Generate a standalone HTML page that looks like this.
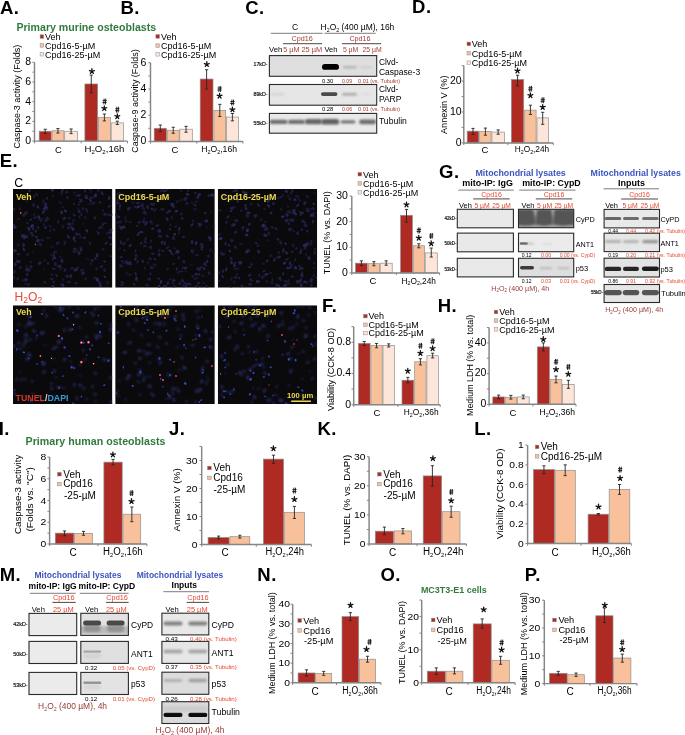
<!DOCTYPE html>
<html><head><meta charset="utf-8"><style>
html,body{margin:0;padding:0;background:#fff;width:685px;height:735px;overflow:hidden}
svg{display:block;will-change:transform;font-family:"Liberation Sans",sans-serif}
</style></head><body>
<svg width="685" height="735" viewBox="0 0 685 735">
<defs><filter id="bl6" x="-50%" y="-50%" width="200%" height="200%"><feGaussianBlur stdDeviation="0.6"/></filter><filter id="bl7" x="-50%" y="-50%" width="200%" height="200%"><feGaussianBlur stdDeviation="0.7"/></filter><filter id="bl8" x="-50%" y="-50%" width="200%" height="200%"><feGaussianBlur stdDeviation="0.8"/></filter><filter id="bl10" x="-50%" y="-50%" width="200%" height="200%"><feGaussianBlur stdDeviation="1.0"/></filter><filter id="bl4" x="-50%" y="-50%" width="200%" height="200%"><feGaussianBlur stdDeviation="0.4"/></filter></defs>
<rect width="685" height="735" fill="#fff"/>
<rect x="39.20" y="131.25" width="12.00" height="9.85" fill="#ae2a23" stroke="#8f8f8f" stroke-width="0.7"/>
<rect x="52.00" y="130.76" width="11.90" height="10.34" fill="#f8c19b" stroke="#8f8f8f" stroke-width="0.7"/>
<rect x="64.70" y="131.25" width="12.80" height="9.85" fill="#fde6d9" stroke="#8f8f8f" stroke-width="0.7"/>
<rect x="84.90" y="83.97" width="12.70" height="57.13" fill="#ae2a23" stroke="#8f8f8f" stroke-width="0.7"/>
<rect x="98.40" y="117.46" width="12.00" height="23.64" fill="#f8c19b" stroke="#8f8f8f" stroke-width="0.7"/>
<rect x="111.20" y="122.88" width="12.20" height="18.22" fill="#fde6d9" stroke="#8f8f8f" stroke-width="0.7"/>
<path d="M45.20 133.42V129.28M43.60 133.42H46.80M43.60 129.28H46.80" stroke="#262626" stroke-width="0.9" fill="none"/>
<path d="M57.95 133.02V128.59M56.35 133.02H59.55M56.35 128.59H59.55" stroke="#262626" stroke-width="0.9" fill="none"/>
<path d="M71.10 133.61V128.98M69.50 133.61H72.70M69.50 128.98H72.70" stroke="#262626" stroke-width="0.9" fill="none"/>
<path d="M91.25 92.83V75.10M89.65 92.83H92.85M89.65 75.10H92.85" stroke="#262626" stroke-width="0.9" fill="none"/>
<path d="M104.40 120.91V114.01M102.80 120.91H106.00M102.80 114.01H106.00" stroke="#262626" stroke-width="0.9" fill="none"/>
<path d="M117.30 124.55V121.20M115.70 124.55H118.90M115.70 121.20H118.90" stroke="#262626" stroke-width="0.9" fill="none"/>
<path d="M34.50 62.30V141.10H127.50" stroke="#858585" stroke-width="1.45" fill="none"/>
<path d="M32.30 141.10H34.50M32.30 131.25H34.50M32.30 121.40H34.50M32.30 111.55H34.50M32.30 101.70H34.50M32.30 91.85H34.50M32.30 82.00H34.50M32.30 72.15H34.50M32.30 62.30H34.50M34.50 141.10V143.30M81.20 141.10V143.30M127.50 141.10V143.30" stroke="#858585" stroke-width="1" fill="none"/>
<text transform="translate(31.10 143.90) scale(1.05 1)" font-size="10" text-anchor="end">0</text>
<text transform="translate(31.10 124.20) scale(1.05 1)" font-size="10" text-anchor="end">2</text>
<text transform="translate(31.10 104.50) scale(1.05 1)" font-size="10" text-anchor="end">4</text>
<text transform="translate(31.10 84.80) scale(1.05 1)" font-size="10" text-anchor="end">6</text>
<text transform="translate(31.10 65.10) scale(1.05 1)" font-size="10" text-anchor="end">8</text>
<path d="M91.90 71.30L91.90 68.75M91.90 71.30L94.33 70.51M91.90 71.30L93.40 73.36M91.90 71.30L90.40 73.36M91.90 71.30L89.47 70.51" stroke="#111" stroke-width="1.3" stroke-linecap="round" fill="none"/>
<path d="M103.80 104.40L104.15 98.60M105.40 104.40L105.75 98.60M102.60 100.55H106.80M102.40 102.50H106.60" stroke="#111" stroke-width="0.9" fill="none"/>
<path d="M104.30 108.40L104.30 105.85M104.30 108.40L106.73 107.61M104.30 108.40L105.80 110.46M104.30 108.40L102.80 110.46M104.30 108.40L101.87 107.61" stroke="#111" stroke-width="1.3" stroke-linecap="round" fill="none"/>
<path d="M116.50 112.60L116.85 106.80M118.10 112.60L118.45 106.80M115.30 108.75H119.50M115.10 110.70H119.30" stroke="#111" stroke-width="0.9" fill="none"/>
<path d="M117.30 116.50L117.30 113.95M117.30 116.50L119.73 115.71M117.30 116.50L118.80 118.56M117.30 116.50L115.80 118.56M117.30 116.50L114.87 115.71" stroke="#111" stroke-width="1.3" stroke-linecap="round" fill="none"/>
<rect x="40.10" y="34.80" width="3.6" height="3.6" fill="#ae2a23" stroke="#8f8f8f" stroke-width="0.5"/>
<text x="45.00" y="39.90" font-size="9">Veh</text>
<rect x="40.10" y="43.60" width="3.6" height="3.6" fill="#f8c19b" stroke="#8f8f8f" stroke-width="0.5"/>
<text x="45.00" y="48.70" font-size="9">Cpd16-5-µM</text>
<rect x="40.10" y="52.40" width="3.6" height="3.6" fill="#fde6d9" stroke="#8f8f8f" stroke-width="0.5"/>
<text x="45.00" y="57.50" font-size="9">Cpd16-25-µM</text>
<text transform="translate(20.30 148.60) rotate(-90)" font-size="9.5" textLength="103.9" lengthAdjust="spacingAndGlyphs">Caspase-3 activity (Folds)</text>
<text x="58.50" y="152.60" font-size="9.5" text-anchor="middle">C</text>
<text x="84.50" y="152.10" font-size="9.5" textLength="40.0" lengthAdjust="spacingAndGlyphs">H<tspan font-size="6" dy="1.5">2</tspan><tspan dy="-1.5">O</tspan><tspan font-size="6" dy="1.5">2</tspan><tspan dy="-1.5">,16h</tspan></text>
<rect x="154.20" y="128.30" width="12.20" height="13.10" fill="#ae2a23" stroke="#8f8f8f" stroke-width="0.7"/>
<rect x="167.30" y="130.27" width="11.90" height="11.13" fill="#f8c19b" stroke="#8f8f8f" stroke-width="0.7"/>
<rect x="179.80" y="129.22" width="12.50" height="12.18" fill="#fde6d9" stroke="#8f8f8f" stroke-width="0.7"/>
<rect x="200.20" y="79.04" width="12.80" height="62.36" fill="#ae2a23" stroke="#8f8f8f" stroke-width="0.7"/>
<rect x="213.90" y="110.35" width="11.80" height="31.05" fill="#f8c19b" stroke="#8f8f8f" stroke-width="0.7"/>
<rect x="226.40" y="117.03" width="12.00" height="24.37" fill="#fde6d9" stroke="#8f8f8f" stroke-width="0.7"/>
<path d="M160.30 131.58V125.03M158.70 131.58H161.90M158.70 125.03H161.90" stroke="#262626" stroke-width="0.9" fill="none"/>
<path d="M173.25 133.28V127.25M171.65 133.28H174.85M171.65 127.25H174.85" stroke="#262626" stroke-width="0.9" fill="none"/>
<path d="M186.05 132.23V126.34M184.45 132.23H187.65M184.45 126.34H187.65" stroke="#262626" stroke-width="0.9" fill="none"/>
<path d="M206.60 89.00V69.74M205.00 89.00H208.20M205.00 69.74H208.20" stroke="#262626" stroke-width="0.9" fill="none"/>
<path d="M219.80 116.51V104.33M218.20 116.51H221.40M218.20 104.33H221.40" stroke="#262626" stroke-width="0.9" fill="none"/>
<path d="M232.40 120.83V113.50M230.80 120.83H234.00M230.80 113.50H234.00" stroke="#262626" stroke-width="0.9" fill="none"/>
<path d="M150.50 62.80V141.40H243.00" stroke="#858585" stroke-width="1.45" fill="none"/>
<path d="M148.30 141.40H150.50M148.30 128.30H150.50M148.30 115.20H150.50M148.30 102.10H150.50M148.30 89.00H150.50M148.30 75.90H150.50M148.30 62.80H150.50M150.50 141.40V143.60M196.80 141.40V143.60M243.00 141.40V143.60" stroke="#858585" stroke-width="1" fill="none"/>
<text transform="translate(146.40 144.20) scale(1.05 1)" font-size="10" text-anchor="end">0</text>
<text transform="translate(146.40 118.00) scale(1.05 1)" font-size="10" text-anchor="end">2</text>
<text transform="translate(146.40 91.80) scale(1.05 1)" font-size="10" text-anchor="end">4</text>
<text transform="translate(146.40 65.60) scale(1.05 1)" font-size="10" text-anchor="end">6</text>
<path d="M206.80 64.30L206.80 61.75M206.80 64.30L209.23 63.51M206.80 64.30L208.30 66.36M206.80 64.30L205.30 66.36M206.80 64.30L204.37 63.51" stroke="#111" stroke-width="1.3" stroke-linecap="round" fill="none"/>
<path d="M218.80 91.90L219.15 86.10M220.40 91.90L220.75 86.10M217.60 88.05H221.80M217.40 90.00H221.60" stroke="#111" stroke-width="0.9" fill="none"/>
<path d="M219.60 96.00L219.60 93.45M219.60 96.00L222.03 95.21M219.60 96.00L221.10 98.06M219.60 96.00L218.10 98.06M219.60 96.00L217.17 95.21" stroke="#111" stroke-width="1.3" stroke-linecap="round" fill="none"/>
<path d="M231.60 105.40L231.95 99.60M233.20 105.40L233.55 99.60M230.40 101.55H234.60M230.20 103.50H234.40" stroke="#111" stroke-width="0.9" fill="none"/>
<path d="M232.40 109.60L232.40 107.05M232.40 109.60L234.83 108.81M232.40 109.60L233.90 111.66M232.40 109.60L230.90 111.66M232.40 109.60L229.97 108.81" stroke="#111" stroke-width="1.3" stroke-linecap="round" fill="none"/>
<rect x="155.90" y="34.60" width="3.6" height="3.6" fill="#ae2a23" stroke="#8f8f8f" stroke-width="0.5"/>
<text x="161.00" y="39.70" font-size="9">Veh</text>
<rect x="155.90" y="43.80" width="3.6" height="3.6" fill="#f8c19b" stroke="#8f8f8f" stroke-width="0.5"/>
<text x="161.00" y="48.90" font-size="9">Cpd16-5-µM</text>
<rect x="155.90" y="52.50" width="3.6" height="3.6" fill="#fde6d9" stroke="#8f8f8f" stroke-width="0.5"/>
<text x="161.00" y="57.60" font-size="9">Cpd16-25-µM</text>
<text transform="translate(138.10 152.80) rotate(-90)" font-size="9.5" textLength="103.5" lengthAdjust="spacingAndGlyphs">Caspase-9 activity (Folds)</text>
<text x="175.00" y="152.70" font-size="9.5" text-anchor="middle">C</text>
<text x="201.20" y="152.20" font-size="9.5" textLength="35.8" lengthAdjust="spacingAndGlyphs">H<tspan font-size="6" dy="1.5">2</tspan><tspan dy="-1.5">O</tspan><tspan font-size="6" dy="1.5">2</tspan><tspan dy="-1.5">,16h</tspan></text>
<rect x="467.20" y="131.16" width="11.60" height="11.74" fill="#ae2a23" stroke="#8f8f8f" stroke-width="0.7"/>
<rect x="479.70" y="131.47" width="11.40" height="11.43" fill="#f8c19b" stroke="#8f8f8f" stroke-width="0.7"/>
<rect x="491.90" y="132.09" width="12.50" height="10.81" fill="#fde6d9" stroke="#8f8f8f" stroke-width="0.7"/>
<rect x="511.40" y="79.56" width="12.30" height="63.34" fill="#ae2a23" stroke="#8f8f8f" stroke-width="0.7"/>
<rect x="524.70" y="110.15" width="11.40" height="32.75" fill="#f8c19b" stroke="#8f8f8f" stroke-width="0.7"/>
<rect x="537.00" y="117.87" width="11.40" height="25.03" fill="#fde6d9" stroke="#8f8f8f" stroke-width="0.7"/>
<path d="M473.00 134.40V128.38M471.40 134.40H474.60M471.40 128.38H474.60" stroke="#262626" stroke-width="0.9" fill="none"/>
<path d="M485.40 135.18V128.07M483.80 135.18H487.00M483.80 128.07H487.00" stroke="#262626" stroke-width="0.9" fill="none"/>
<path d="M498.15 134.25V129.92M496.55 134.25H499.75M496.55 129.92H499.75" stroke="#262626" stroke-width="0.9" fill="none"/>
<path d="M517.55 85.74V75.23M515.95 85.74H519.15M515.95 75.23H519.15" stroke="#262626" stroke-width="0.9" fill="none"/>
<path d="M530.40 114.47V105.20M528.80 114.47H532.00M528.80 105.20H532.00" stroke="#262626" stroke-width="0.9" fill="none"/>
<path d="M542.70 124.36V112.31M541.10 124.36H544.30M541.10 112.31H544.30" stroke="#262626" stroke-width="0.9" fill="none"/>
<path d="M463.80 65.65V142.90H553.30" stroke="#858585" stroke-width="1.45" fill="none"/>
<path d="M461.60 142.90H463.80M461.60 127.45H463.80M461.60 112.00H463.80M461.60 96.55H463.80M461.60 81.10H463.80M461.60 65.65H463.80M463.80 142.90V145.10M507.80 142.90V145.10M553.30 142.90V145.10" stroke="#858585" stroke-width="1" fill="none"/>
<text transform="translate(461.70 145.70) scale(1.05 1)" font-size="10" text-anchor="end">0</text>
<text transform="translate(461.70 114.80) scale(1.05 1)" font-size="10" text-anchor="end">10</text>
<text transform="translate(461.70 83.90) scale(1.05 1)" font-size="10" text-anchor="end">20</text>
<path d="M517.50 70.80L517.50 68.25M517.50 70.80L519.93 70.01M517.50 70.80L519.00 72.86M517.50 70.80L516.00 72.86M517.50 70.80L515.07 70.01" stroke="#111" stroke-width="1.3" stroke-linecap="round" fill="none"/>
<path d="M529.60 91.70L529.95 85.90M531.20 91.70L531.55 85.90M528.40 87.85H532.60M528.20 89.80H532.40" stroke="#111" stroke-width="0.9" fill="none"/>
<path d="M530.40 95.50L530.40 92.95M530.40 95.50L532.83 94.71M530.40 95.50L531.90 97.56M530.40 95.50L528.90 97.56M530.40 95.50L527.97 94.71" stroke="#111" stroke-width="1.3" stroke-linecap="round" fill="none"/>
<path d="M541.90 103.10L542.25 97.30M543.50 103.10L543.85 97.30M540.70 99.25H544.90M540.50 101.20H544.70" stroke="#111" stroke-width="0.9" fill="none"/>
<path d="M542.70 107.20L542.70 104.65M542.70 107.20L545.13 106.41M542.70 107.20L544.20 109.26M542.70 107.20L541.20 109.26M542.70 107.20L540.27 106.41" stroke="#111" stroke-width="1.3" stroke-linecap="round" fill="none"/>
<rect x="467.00" y="42.10" width="3.6" height="3.6" fill="#ae2a23" stroke="#8f8f8f" stroke-width="0.5"/>
<text x="471.70" y="47.20" font-size="9">Veh</text>
<rect x="467.00" y="51.40" width="3.6" height="3.6" fill="#f8c19b" stroke="#8f8f8f" stroke-width="0.5"/>
<text x="471.70" y="56.50" font-size="9">Cpd16-5-µM</text>
<rect x="467.00" y="60.90" width="3.6" height="3.6" fill="#fde6d9" stroke="#8f8f8f" stroke-width="0.5"/>
<text x="471.70" y="66.00" font-size="9">Cpd16-25-µM</text>
<text transform="translate(447.40 134.00) rotate(-90)" font-size="9.5" textLength="58.5" lengthAdjust="spacingAndGlyphs">Annexin V (%)</text>
<text x="485.00" y="152.90" font-size="9.5" text-anchor="middle">C</text>
<text x="514.80" y="152.40" font-size="9.5" textLength="34.4" lengthAdjust="spacingAndGlyphs">H<tspan font-size="6" dy="1.5">2</tspan><tspan dy="-1.5">O</tspan><tspan font-size="6" dy="1.5">2</tspan><tspan dy="-1.5">,24h</tspan></text>
<rect x="355.50" y="263.17" width="11.80" height="9.73" fill="#ae2a23" stroke="#8f8f8f" stroke-width="0.7"/>
<rect x="368.40" y="263.68" width="11.00" height="9.22" fill="#f8c19b" stroke="#8f8f8f" stroke-width="0.7"/>
<rect x="380.20" y="263.17" width="12.00" height="9.73" fill="#fde6d9" stroke="#8f8f8f" stroke-width="0.7"/>
<rect x="400.60" y="215.30" width="11.80" height="57.60" fill="#ae2a23" stroke="#8f8f8f" stroke-width="0.7"/>
<rect x="413.20" y="245.76" width="11.20" height="27.14" fill="#f8c19b" stroke="#8f8f8f" stroke-width="0.7"/>
<rect x="425.20" y="252.93" width="12.10" height="19.97" fill="#fde6d9" stroke="#8f8f8f" stroke-width="0.7"/>
<path d="M361.40 265.48V260.87M359.80 265.48H363.00M359.80 260.87H363.00" stroke="#262626" stroke-width="0.9" fill="none"/>
<path d="M373.90 265.73V261.64M372.30 265.73H375.50M372.30 261.64H375.50" stroke="#262626" stroke-width="0.9" fill="none"/>
<path d="M386.20 265.22V260.87M384.60 265.22H387.80M384.60 260.87H387.80" stroke="#262626" stroke-width="0.9" fill="none"/>
<path d="M406.50 222.21V209.41M404.90 222.21H408.10M404.90 209.41H408.10" stroke="#262626" stroke-width="0.9" fill="none"/>
<path d="M418.80 247.81V243.72M417.20 247.81H420.40M417.20 243.72H420.40" stroke="#262626" stroke-width="0.9" fill="none"/>
<path d="M431.25 257.03V248.07M429.65 257.03H432.85M429.65 248.07H432.85" stroke="#262626" stroke-width="0.9" fill="none"/>
<path d="M351.80 196.10V272.90H439.60" stroke="#858585" stroke-width="1.45" fill="none"/>
<path d="M349.60 272.90H351.80M349.60 260.10H351.80M349.60 247.30H351.80M349.60 234.50H351.80M349.60 221.70H351.80M349.60 208.90H351.80M349.60 196.10H351.80M351.80 272.90V275.10M396.30 272.90V275.10M439.60 272.90V275.10" stroke="#858585" stroke-width="1" fill="none"/>
<text transform="translate(347.90 275.70) scale(1.05 1)" font-size="10" text-anchor="end">0</text>
<text transform="translate(347.90 250.10) scale(1.05 1)" font-size="10" text-anchor="end">10</text>
<text transform="translate(347.90 224.50) scale(1.05 1)" font-size="10" text-anchor="end">20</text>
<text transform="translate(347.90 198.90) scale(1.05 1)" font-size="10" text-anchor="end">30</text>
<path d="M406.50 204.70L406.50 202.15M406.50 204.70L408.93 203.91M406.50 204.70L408.00 206.76M406.50 204.70L405.00 206.76M406.50 204.70L404.07 203.91" stroke="#111" stroke-width="1.3" stroke-linecap="round" fill="none"/>
<path d="M418.00 233.30L418.35 227.50M419.60 233.30L419.95 227.50M416.80 229.45H421.00M416.60 231.40H420.80" stroke="#111" stroke-width="0.9" fill="none"/>
<path d="M418.80 238.00L418.80 235.45M418.80 238.00L421.23 237.21M418.80 238.00L420.30 240.06M418.80 238.00L417.30 240.06M418.80 238.00L416.37 237.21" stroke="#111" stroke-width="1.3" stroke-linecap="round" fill="none"/>
<path d="M430.40 238.80L430.75 233.00M432.00 238.80L432.35 233.00M429.20 234.95H433.40M429.00 236.90H433.20" stroke="#111" stroke-width="0.9" fill="none"/>
<path d="M431.20 243.50L431.20 240.95M431.20 243.50L433.63 242.71M431.20 243.50L432.70 245.56M431.20 243.50L429.70 245.56M431.20 243.50L428.77 242.71" stroke="#111" stroke-width="1.3" stroke-linecap="round" fill="none"/>
<rect x="358.00" y="172.40" width="3.6" height="3.6" fill="#ae2a23" stroke="#8f8f8f" stroke-width="0.5"/>
<text x="363.00" y="177.50" font-size="9">Veh</text>
<rect x="358.00" y="181.60" width="3.6" height="3.6" fill="#f8c19b" stroke="#8f8f8f" stroke-width="0.5"/>
<text x="363.00" y="186.70" font-size="9">Cpd16-5-µM</text>
<rect x="358.00" y="190.50" width="3.6" height="3.6" fill="#fde6d9" stroke="#8f8f8f" stroke-width="0.5"/>
<text x="363.00" y="195.60" font-size="9">Cpd16-25-µM</text>
<text transform="translate(330.40 274.30) rotate(-90)" font-size="9.5" textLength="83.1" lengthAdjust="spacingAndGlyphs">TUNEL (% vs. DAPI)</text>
<text x="373.00" y="284.30" font-size="9.5" text-anchor="middle">C</text>
<text x="401.50" y="283.80" font-size="9.5" textLength="34.5" lengthAdjust="spacingAndGlyphs">H<tspan font-size="6" dy="1.5">2</tspan><tspan dy="-1.5">O</tspan><tspan font-size="6" dy="1.5">2</tspan><tspan dy="-1.5">,24h</tspan></text>
<rect x="358.40" y="343.39" width="11.70" height="61.31" fill="#ae2a23" stroke="#8f8f8f" stroke-width="0.7"/>
<rect x="370.90" y="345.42" width="11.30" height="59.28" fill="#f8c19b" stroke="#8f8f8f" stroke-width="0.7"/>
<rect x="383.00" y="345.42" width="11.40" height="59.28" fill="#fde6d9" stroke="#8f8f8f" stroke-width="0.7"/>
<rect x="402.00" y="380.21" width="11.70" height="24.49" fill="#ae2a23" stroke="#8f8f8f" stroke-width="0.7"/>
<rect x="414.70" y="361.80" width="11.40" height="42.90" fill="#f8c19b" stroke="#8f8f8f" stroke-width="0.7"/>
<rect x="426.90" y="355.72" width="11.50" height="48.98" fill="#fde6d9" stroke="#8f8f8f" stroke-width="0.7"/>
<path d="M364.25 345.42V341.52M362.65 345.42H365.85M362.65 341.52H365.85" stroke="#262626" stroke-width="0.9" fill="none"/>
<path d="M376.55 347.76V343.47M374.95 347.76H378.15M374.95 343.47H378.15" stroke="#262626" stroke-width="0.9" fill="none"/>
<path d="M388.70 346.98V343.86M387.10 346.98H390.30M387.10 343.86H390.30" stroke="#262626" stroke-width="0.9" fill="none"/>
<path d="M407.85 382.86V377.40M406.25 382.86H409.45M406.25 377.40H409.45" stroke="#262626" stroke-width="0.9" fill="none"/>
<path d="M420.40 364.92V358.68M418.80 364.92H422.00M418.80 358.68H422.00" stroke="#262626" stroke-width="0.9" fill="none"/>
<path d="M432.65 357.90V353.22M431.05 357.90H434.25M431.05 353.22H434.25" stroke="#262626" stroke-width="0.9" fill="none"/>
<path d="M353.70 326.70V404.70H440.20" stroke="#858585" stroke-width="1.45" fill="none"/>
<path d="M351.50 404.70H353.70M351.50 389.10H353.70M351.50 373.50H353.70M351.50 357.90H353.70M351.50 342.30H353.70M351.50 326.70H353.70M353.70 404.70V406.90M398.00 404.70V406.90M440.20 404.70V406.90" stroke="#858585" stroke-width="1" fill="none"/>
<text transform="translate(351.10 407.50) scale(1.05 1)" font-size="10" text-anchor="end">0</text>
<text transform="translate(351.10 376.30) scale(1.05 1)" font-size="10" text-anchor="end">0.4</text>
<text transform="translate(351.10 345.10) scale(1.05 1)" font-size="10" text-anchor="end">0.8</text>
<path d="M407.80 371.00L407.80 368.45M407.80 371.00L410.23 370.21M407.80 371.00L409.30 373.06M407.80 371.00L406.30 373.06M407.80 371.00L405.37 370.21" stroke="#111" stroke-width="1.3" stroke-linecap="round" fill="none"/>
<path d="M419.60 348.70L419.95 342.90M421.20 348.70L421.55 342.90M418.40 344.85H422.60M418.20 346.80H422.40" stroke="#111" stroke-width="0.9" fill="none"/>
<path d="M420.40 353.20L420.40 350.65M420.40 353.20L422.83 352.41M420.40 353.20L421.90 355.26M420.40 353.20L418.90 355.26M420.40 353.20L417.97 352.41" stroke="#111" stroke-width="1.3" stroke-linecap="round" fill="none"/>
<path d="M431.80 344.20L432.15 338.40M433.40 344.20L433.75 338.40M430.60 340.35H434.80M430.40 342.30H434.60" stroke="#111" stroke-width="0.9" fill="none"/>
<path d="M432.60 348.50L432.60 345.95M432.60 348.50L435.03 347.71M432.60 348.50L434.10 350.56M432.60 348.50L431.10 350.56M432.60 348.50L430.17 347.71" stroke="#111" stroke-width="1.3" stroke-linecap="round" fill="none"/>
<rect x="363.60" y="314.30" width="3.6" height="3.6" fill="#ae2a23" stroke="#8f8f8f" stroke-width="0.5"/>
<text x="368.50" y="319.40" font-size="9">Veh</text>
<rect x="363.60" y="323.00" width="3.6" height="3.6" fill="#f8c19b" stroke="#8f8f8f" stroke-width="0.5"/>
<text x="368.50" y="328.10" font-size="9">Cpd16-5-µM</text>
<rect x="363.60" y="331.30" width="3.6" height="3.6" fill="#fde6d9" stroke="#8f8f8f" stroke-width="0.5"/>
<text x="368.50" y="336.40" font-size="9">Cpd16-25-µM</text>
<text transform="translate(334.40 410.90) rotate(-90)" font-size="9.5" textLength="82.9" lengthAdjust="spacingAndGlyphs">Viability (CCK-8 OD)</text>
<text x="377.00" y="415.50" font-size="9.5" text-anchor="middle">C</text>
<text x="403.80" y="415.00" font-size="9.5" textLength="34.8" lengthAdjust="spacingAndGlyphs">H<tspan font-size="6" dy="1.5">2</tspan><tspan dy="-1.5">O</tspan><tspan font-size="6" dy="1.5">2</tspan><tspan dy="-1.5">,36h</tspan></text>
<rect x="492.80" y="396.93" width="11.60" height="7.37" fill="#ae2a23" stroke="#8f8f8f" stroke-width="0.7"/>
<rect x="505.20" y="397.24" width="11.30" height="7.06" fill="#f8c19b" stroke="#8f8f8f" stroke-width="0.7"/>
<rect x="517.30" y="396.93" width="11.90" height="7.37" fill="#fde6d9" stroke="#8f8f8f" stroke-width="0.7"/>
<rect x="537.30" y="346.89" width="12.10" height="57.41" fill="#ae2a23" stroke="#8f8f8f" stroke-width="0.7"/>
<rect x="550.20" y="379.59" width="11.60" height="24.71" fill="#f8c19b" stroke="#8f8f8f" stroke-width="0.7"/>
<rect x="562.50" y="384.35" width="11.70" height="19.95" fill="#fde6d9" stroke="#8f8f8f" stroke-width="0.7"/>
<path d="M498.60 398.77V395.09M497.00 398.77H500.20M497.00 395.09H500.20" stroke="#262626" stroke-width="0.9" fill="none"/>
<path d="M510.85 399.08V395.40M509.25 399.08H512.45M509.25 395.40H512.45" stroke="#262626" stroke-width="0.9" fill="none"/>
<path d="M523.25 398.77V395.09M521.65 398.77H524.85M521.65 395.09H524.85" stroke="#262626" stroke-width="0.9" fill="none"/>
<path d="M543.35 350.88V342.90M541.75 350.88H544.95M541.75 342.90H544.95" stroke="#262626" stroke-width="0.9" fill="none"/>
<path d="M556.00 382.81V376.06M554.40 382.81H557.60M554.40 376.06H557.60" stroke="#262626" stroke-width="0.9" fill="none"/>
<path d="M568.35 388.34V380.35M566.75 388.34H569.95M566.75 380.35H569.95" stroke="#262626" stroke-width="0.9" fill="none"/>
<path d="M489.10 327.55V404.30H576.00" stroke="#858585" stroke-width="1.45" fill="none"/>
<path d="M486.90 404.30H489.10M486.90 388.95H489.10M486.90 373.60H489.10M486.90 358.25H489.10M486.90 342.90H489.10M486.90 327.55H489.10M489.10 404.30V406.50M533.00 404.30V406.50M576.00 404.30V406.50" stroke="#858585" stroke-width="1" fill="none"/>
<text transform="translate(486.40 407.10) scale(1.05 1)" font-size="10" text-anchor="end">0</text>
<text transform="translate(486.40 376.40) scale(1.05 1)" font-size="10" text-anchor="end">20</text>
<text transform="translate(486.40 345.70) scale(1.05 1)" font-size="10" text-anchor="end">40</text>
<path d="M543.30 339.30L543.30 336.75M543.30 339.30L545.73 338.51M543.30 339.30L544.80 341.36M543.30 339.30L541.80 341.36M543.30 339.30L540.87 338.51" stroke="#111" stroke-width="1.3" stroke-linecap="round" fill="none"/>
<path d="M555.20 364.70L555.55 358.90M556.80 364.70L557.15 358.90M554.00 360.85H558.20M553.80 362.80H558.00" stroke="#111" stroke-width="0.9" fill="none"/>
<path d="M556.00 369.40L556.00 366.85M556.00 369.40L558.43 368.61M556.00 369.40L557.50 371.46M556.00 369.40L554.50 371.46M556.00 369.40L553.57 368.61" stroke="#111" stroke-width="1.3" stroke-linecap="round" fill="none"/>
<path d="M567.50 369.80L567.85 364.00M569.10 369.80L569.45 364.00M566.30 365.95H570.50M566.10 367.90H570.30" stroke="#111" stroke-width="0.9" fill="none"/>
<path d="M568.30 374.10L568.30 371.55M568.30 374.10L570.73 373.31M568.30 374.10L569.80 376.16M568.30 374.10L566.80 376.16M568.30 374.10L565.87 373.31" stroke="#111" stroke-width="1.3" stroke-linecap="round" fill="none"/>
<rect x="494.20" y="310.20" width="3.6" height="3.6" fill="#ae2a23" stroke="#8f8f8f" stroke-width="0.5"/>
<text x="499.30" y="315.30" font-size="9">Veh</text>
<rect x="494.20" y="318.80" width="3.6" height="3.6" fill="#f8c19b" stroke="#8f8f8f" stroke-width="0.5"/>
<text x="499.30" y="323.90" font-size="9">Cpd16-5-µM</text>
<rect x="494.20" y="327.50" width="3.6" height="3.6" fill="#fde6d9" stroke="#8f8f8f" stroke-width="0.5"/>
<text x="499.30" y="332.60" font-size="9">Cpd16-25-µM</text>
<text transform="translate(472.90 416.00) rotate(-90)" font-size="9.5" textLength="101.2" lengthAdjust="spacingAndGlyphs">Medium LDH (% vs. total)</text>
<text x="513.00" y="415.50" font-size="9.5" text-anchor="middle">C</text>
<text x="539.50" y="415.00" font-size="9.5" textLength="35.5" lengthAdjust="spacingAndGlyphs">H<tspan font-size="6" dy="1.5">2</tspan><tspan dy="-1.5">O</tspan><tspan font-size="6" dy="1.5">2</tspan><tspan dy="-1.5">,36h</tspan></text>
<rect x="55.30" y="533.13" width="18.50" height="10.87" fill="#ae2a23" stroke="#8f8f8f" stroke-width="0.7"/>
<rect x="74.60" y="533.35" width="17.80" height="10.65" fill="#f8c19b" stroke="#8f8f8f" stroke-width="0.7"/>
<rect x="103.90" y="462.15" width="18.30" height="81.85" fill="#ae2a23" stroke="#8f8f8f" stroke-width="0.7"/>
<rect x="123.00" y="514.22" width="17.70" height="29.78" fill="#f8c19b" stroke="#8f8f8f" stroke-width="0.7"/>
<path d="M64.55 535.85V530.96M62.95 535.85H66.15M62.95 530.96H66.15" stroke="#262626" stroke-width="0.9" fill="none"/>
<path d="M83.50 535.30V531.39M81.90 535.30H85.10M81.90 531.39H85.10" stroke="#262626" stroke-width="0.9" fill="none"/>
<path d="M113.05 464.87V459.43M111.45 464.87H114.65M111.45 459.43H114.65" stroke="#262626" stroke-width="0.9" fill="none"/>
<path d="M131.85 521.72V507.04M130.25 521.72H133.45M130.25 507.04H133.45" stroke="#262626" stroke-width="0.9" fill="none"/>
<path d="M49.60 457.04V544.00H146.90" stroke="#858585" stroke-width="1.45" fill="none"/>
<path d="M47.40 544.00H49.60M47.40 533.13H49.60M47.40 522.26H49.60M47.40 511.39H49.60M47.40 500.52H49.60M47.40 489.65H49.60M47.40 478.78H49.60M47.40 467.91H49.60M47.40 457.04H49.60M49.60 544.00V546.20M98.00 544.00V546.20M146.90 544.00V546.20" stroke="#858585" stroke-width="1" fill="none"/>
<text transform="translate(46.30 547.20) scale(1.15 1)" font-size="9" text-anchor="end">0</text>
<text transform="translate(46.30 525.46) scale(1.15 1)" font-size="9" text-anchor="end">2</text>
<text transform="translate(46.30 503.72) scale(1.15 1)" font-size="9" text-anchor="end">4</text>
<text transform="translate(46.30 481.98) scale(1.15 1)" font-size="9" text-anchor="end">6</text>
<text transform="translate(46.30 460.24) scale(1.15 1)" font-size="9" text-anchor="end">8</text>
<path d="M112.90 454.70L112.90 452.15M112.90 454.70L115.33 453.91M112.90 454.70L114.40 456.76M112.90 454.70L111.40 456.76M112.90 454.70L110.47 453.91" stroke="#111" stroke-width="1.3" stroke-linecap="round" fill="none"/>
<path d="M130.70 496.00L131.05 490.20M132.30 496.00L132.65 490.20M129.50 492.15H133.70M129.30 494.10H133.50" stroke="#111" stroke-width="0.9" fill="none"/>
<path d="M131.50 501.30L131.50 498.75M131.50 501.30L133.93 500.51M131.50 501.30L133.00 503.36M131.50 501.30L130.00 503.36M131.50 501.30L129.07 500.51" stroke="#111" stroke-width="1.3" stroke-linecap="round" fill="none"/>
<rect x="57.60" y="472.40" width="3.6" height="3.6" fill="#ae2a23" stroke="#8f8f8f" stroke-width="0.5"/>
<text x="63.30" y="477.50" font-size="10">Veh</text>
<rect x="57.60" y="482.30" width="3.6" height="3.6" fill="#f8c19b" stroke="#8f8f8f" stroke-width="0.5"/>
<text x="63.30" y="487.40" font-size="10">Cpd16</text>
<text x="64.00" y="498.60" font-size="10">-25-µM</text>
<text transform="translate(20.80 534.00) rotate(-90)" font-size="9.6" textLength="79.3" lengthAdjust="spacingAndGlyphs">Caspase-3 activity</text>
<text transform="translate(33.20 531.60) rotate(-90)" font-size="9.6" textLength="64.6" lengthAdjust="spacingAndGlyphs">(Folds vs. "C")</text>
<text x="73.00" y="555.70" font-size="10" text-anchor="middle">C</text>
<text x="103.00" y="555.20" font-size="10" textLength="39.7" lengthAdjust="spacingAndGlyphs">H<tspan font-size="6" dy="1.5">2</tspan><tspan dy="-1.5">O</tspan><tspan font-size="6" dy="1.5">2</tspan><tspan dy="-1.5">,16h</tspan></text>
<rect x="208.10" y="537.50" width="21.00" height="7.00" fill="#ae2a23" stroke="#8f8f8f" stroke-width="0.7"/>
<rect x="229.90" y="536.66" width="19.90" height="7.84" fill="#f8c19b" stroke="#8f8f8f" stroke-width="0.7"/>
<rect x="263.40" y="459.10" width="20.20" height="85.40" fill="#ae2a23" stroke="#8f8f8f" stroke-width="0.7"/>
<rect x="284.30" y="512.30" width="20.20" height="32.20" fill="#f8c19b" stroke="#8f8f8f" stroke-width="0.7"/>
<path d="M218.60 538.90V536.10M217.00 538.90H220.20M217.00 536.10H220.20" stroke="#262626" stroke-width="0.9" fill="none"/>
<path d="M239.85 538.06V535.26M238.25 538.06H241.45M238.25 535.26H241.45" stroke="#262626" stroke-width="0.9" fill="none"/>
<path d="M273.50 463.30V455.18M271.90 463.30H275.10M271.90 455.18H275.10" stroke="#262626" stroke-width="0.9" fill="none"/>
<path d="M294.40 518.46V506.42M292.80 518.46H296.00M292.80 506.42H296.00" stroke="#262626" stroke-width="0.9" fill="none"/>
<path d="M201.70 446.50V544.50H311.40" stroke="#858585" stroke-width="1.45" fill="none"/>
<path d="M199.50 544.50H201.70M199.50 530.50H201.70M199.50 516.50H201.70M199.50 502.50H201.70M199.50 488.50H201.70M199.50 474.50H201.70M199.50 460.50H201.70M199.50 446.50H201.70M201.70 544.50V546.70M256.30 544.50V546.70M311.40 544.50V546.70" stroke="#858585" stroke-width="1" fill="none"/>
<text transform="translate(197.60 547.70) scale(1.15 1)" font-size="9" text-anchor="end">0</text>
<text transform="translate(197.60 519.70) scale(1.15 1)" font-size="9" text-anchor="end">10</text>
<text transform="translate(197.60 491.70) scale(1.15 1)" font-size="9" text-anchor="end">20</text>
<text transform="translate(197.60 463.70) scale(1.15 1)" font-size="9" text-anchor="end">30</text>
<path d="M273.40 448.50L273.40 445.95M273.40 448.50L275.83 447.71M273.40 448.50L274.90 450.56M273.40 448.50L271.90 450.56M273.40 448.50L270.97 447.71" stroke="#111" stroke-width="1.3" stroke-linecap="round" fill="none"/>
<path d="M293.60 493.50L293.95 487.70M295.20 493.50L295.55 487.70M292.40 489.65H296.60M292.20 491.60H296.40" stroke="#111" stroke-width="0.9" fill="none"/>
<path d="M294.40 499.30L294.40 496.75M294.40 499.30L296.83 498.51M294.40 499.30L295.90 501.36M294.40 499.30L292.90 501.36M294.40 499.30L291.97 498.51" stroke="#111" stroke-width="1.3" stroke-linecap="round" fill="none"/>
<rect x="207.60" y="466.20" width="3.6" height="3.6" fill="#ae2a23" stroke="#8f8f8f" stroke-width="0.5"/>
<text x="213.30" y="471.30" font-size="10">Veh</text>
<rect x="207.60" y="476.10" width="3.6" height="3.6" fill="#f8c19b" stroke="#8f8f8f" stroke-width="0.5"/>
<text x="213.30" y="481.20" font-size="10">Cpd16</text>
<text x="213.50" y="493.10" font-size="10">-25-µM</text>
<text transform="translate(179.60 531.60) rotate(-90)" font-size="9.6" textLength="63.3" lengthAdjust="spacingAndGlyphs">Annexin V (%)</text>
<text x="225.00" y="555.70" font-size="10" text-anchor="middle">C</text>
<text x="265.50" y="555.20" font-size="10" textLength="38.4" lengthAdjust="spacingAndGlyphs">H<tspan font-size="6" dy="1.5">2</tspan><tspan dy="-1.5">O</tspan><tspan font-size="6" dy="1.5">2</tspan><tspan dy="-1.5">,24h</tspan></text>
<rect x="375.30" y="531.20" width="18.20" height="12.80" fill="#ae2a23" stroke="#8f8f8f" stroke-width="0.7"/>
<rect x="394.20" y="530.90" width="17.40" height="13.10" fill="#f8c19b" stroke="#8f8f8f" stroke-width="0.7"/>
<rect x="423.20" y="475.91" width="18.40" height="68.09" fill="#ae2a23" stroke="#8f8f8f" stroke-width="0.7"/>
<rect x="442.30" y="511.70" width="17.70" height="32.30" fill="#f8c19b" stroke="#8f8f8f" stroke-width="0.7"/>
<path d="M384.40 534.69V527.12M382.80 534.69H386.00M382.80 527.12H386.00" stroke="#262626" stroke-width="0.9" fill="none"/>
<path d="M402.90 533.82V528.58M401.30 533.82H404.50M401.30 528.58H404.50" stroke="#262626" stroke-width="0.9" fill="none"/>
<path d="M432.40 486.09V465.72M430.80 486.09H434.00M430.80 465.72H434.00" stroke="#262626" stroke-width="0.9" fill="none"/>
<path d="M451.15 517.23V506.17M449.55 517.23H452.75M449.55 506.17H452.75" stroke="#262626" stroke-width="0.9" fill="none"/>
<path d="M369.10 456.70V544.00H466.40" stroke="#858585" stroke-width="1.45" fill="none"/>
<path d="M366.90 544.00H369.10M366.90 529.45H369.10M366.90 514.90H369.10M366.90 500.35H369.10M366.90 485.80H369.10M366.90 471.25H369.10M366.90 456.70H369.10M369.10 544.00V546.20M417.00 544.00V546.20M466.40 544.00V546.20" stroke="#858585" stroke-width="1" fill="none"/>
<text transform="translate(365.60 547.20) scale(1.15 1)" font-size="9" text-anchor="end">0</text>
<text transform="translate(365.60 518.10) scale(1.15 1)" font-size="9" text-anchor="end">10</text>
<text transform="translate(365.60 489.00) scale(1.15 1)" font-size="9" text-anchor="end">20</text>
<text transform="translate(365.60 459.90) scale(1.15 1)" font-size="9" text-anchor="end">30</text>
<path d="M432.90 458.40L432.90 455.85M432.90 458.40L435.33 457.61M432.90 458.40L434.40 460.46M432.90 458.40L431.40 460.46M432.90 458.40L430.47 457.61" stroke="#111" stroke-width="1.3" stroke-linecap="round" fill="none"/>
<path d="M450.40 494.80L450.75 489.00M452.00 494.80L452.35 489.00M449.20 490.95H453.40M449.00 492.90H453.20" stroke="#111" stroke-width="0.9" fill="none"/>
<path d="M451.20 500.60L451.20 498.05M451.20 500.60L453.63 499.81M451.20 500.60L452.70 502.66M451.20 500.60L449.70 502.66M451.20 500.60L448.77 499.81" stroke="#111" stroke-width="1.3" stroke-linecap="round" fill="none"/>
<rect x="377.60" y="472.40" width="3.6" height="3.6" fill="#ae2a23" stroke="#8f8f8f" stroke-width="0.5"/>
<text x="383.30" y="477.50" font-size="10">Veh</text>
<rect x="377.60" y="482.30" width="3.6" height="3.6" fill="#f8c19b" stroke="#8f8f8f" stroke-width="0.5"/>
<text x="383.30" y="487.40" font-size="10">Cpd16</text>
<text x="383.60" y="498.60" font-size="10">-25-µM</text>
<text transform="translate(350.00 545.20) rotate(-90)" font-size="9.6" textLength="90.5" lengthAdjust="spacingAndGlyphs">TUNEL (% vs. DAPI)</text>
<text x="392.50" y="555.70" font-size="10" text-anchor="middle">C</text>
<text x="423.00" y="555.20" font-size="10" textLength="40.4" lengthAdjust="spacingAndGlyphs">H<tspan font-size="6" dy="1.5">2</tspan><tspan dy="-1.5">O</tspan><tspan font-size="6" dy="1.5">2</tspan><tspan dy="-1.5">,24h</tspan></text>
<rect x="533.50" y="469.58" width="20.90" height="73.92" fill="#ae2a23" stroke="#8f8f8f" stroke-width="0.7"/>
<rect x="555.10" y="470.27" width="20.20" height="73.23" fill="#f8c19b" stroke="#8f8f8f" stroke-width="0.7"/>
<rect x="588.10" y="514.21" width="20.50" height="29.29" fill="#ae2a23" stroke="#8f8f8f" stroke-width="0.7"/>
<rect x="609.20" y="489.44" width="20.60" height="54.06" fill="#f8c19b" stroke="#8f8f8f" stroke-width="0.7"/>
<path d="M543.95 473.71V465.84M542.35 473.71H545.55M542.35 465.84H545.55" stroke="#262626" stroke-width="0.9" fill="none"/>
<path d="M565.20 475.67V464.86M563.60 475.67H566.80M563.60 464.86H566.80" stroke="#262626" stroke-width="0.9" fill="none"/>
<path d="M598.35 514.99V513.52M596.75 514.99H599.95M596.75 513.52H599.95" stroke="#262626" stroke-width="0.9" fill="none"/>
<path d="M619.50 494.35V484.52M617.90 494.35H621.10M617.90 484.52H621.10" stroke="#262626" stroke-width="0.9" fill="none"/>
<path d="M527.60 445.20V543.50H631.30" stroke="#858585" stroke-width="1.45" fill="none"/>
<path d="M525.40 543.50H527.60M525.40 523.84H527.60M525.40 504.18H527.60M525.40 484.52H527.60M525.40 464.86H527.60M525.40 445.20H527.60M527.60 543.50V545.70M581.00 543.50V545.70M631.30 543.50V545.70" stroke="#858585" stroke-width="1" fill="none"/>
<text transform="translate(523.70 546.70) scale(1.15 1)" font-size="9" text-anchor="end">0</text>
<text transform="translate(523.70 527.04) scale(1.15 1)" font-size="9" text-anchor="end">0.2</text>
<text transform="translate(523.70 507.38) scale(1.15 1)" font-size="9" text-anchor="end">0.4</text>
<text transform="translate(523.70 487.72) scale(1.15 1)" font-size="9" text-anchor="end">0.6</text>
<text transform="translate(523.70 468.06) scale(1.15 1)" font-size="9" text-anchor="end">0.8</text>
<text transform="translate(523.70 448.40) scale(1.15 1)" font-size="9" text-anchor="end">1</text>
<path d="M598.50 506.80L598.50 504.25M598.50 506.80L600.93 506.01M598.50 506.80L600.00 508.86M598.50 506.80L597.00 508.86M598.50 506.80L596.07 506.01" stroke="#111" stroke-width="1.3" stroke-linecap="round" fill="none"/>
<path d="M619.30 472.50L619.65 466.70M620.90 472.50L621.25 466.70M618.10 468.65H622.30M617.90 470.60H622.10" stroke="#111" stroke-width="0.9" fill="none"/>
<path d="M620.10 478.20L620.10 475.65M620.10 478.20L622.53 477.41M620.10 478.20L621.60 480.26M620.10 478.20L618.60 480.26M620.10 478.20L617.67 477.41" stroke="#111" stroke-width="1.3" stroke-linecap="round" fill="none"/>
<rect x="535.30" y="445.10" width="3.6" height="3.6" fill="#ae2a23" stroke="#8f8f8f" stroke-width="0.5"/>
<text x="540.70" y="450.20" font-size="10">Veh</text>
<rect x="535.30" y="454.50" width="3.6" height="3.6" fill="#f8c19b" stroke="#8f8f8f" stroke-width="0.5"/>
<text x="540.70" y="459.60" font-size="10">Cpd16-25-µM</text>
<text transform="translate(503.20 539.00) rotate(-90)" font-size="9.6" textLength="90.5" lengthAdjust="spacingAndGlyphs">Viability (CCK-8 OD)</text>
<text x="555.00" y="555.70" font-size="10" text-anchor="middle">C</text>
<text x="592.10" y="555.20" font-size="10" textLength="38.7" lengthAdjust="spacingAndGlyphs">H<tspan font-size="6" dy="1.5">2</tspan><tspan dy="-1.5">O</tspan><tspan font-size="6" dy="1.5">2</tspan><tspan dy="-1.5">,36h</tspan></text>
<rect x="298.10" y="672.97" width="16.90" height="9.83" fill="#ae2a23" stroke="#8f8f8f" stroke-width="0.7"/>
<rect x="315.70" y="673.37" width="16.00" height="9.43" fill="#f8c19b" stroke="#8f8f8f" stroke-width="0.7"/>
<rect x="342.00" y="616.58" width="16.70" height="66.22" fill="#ae2a23" stroke="#8f8f8f" stroke-width="0.7"/>
<rect x="359.40" y="659.22" width="16.20" height="23.58" fill="#f8c19b" stroke="#8f8f8f" stroke-width="0.7"/>
<path d="M306.55 675.92V669.83M304.95 675.92H308.15M304.95 669.83H308.15" stroke="#262626" stroke-width="0.9" fill="none"/>
<path d="M323.70 675.33V671.40M322.10 675.33H325.30M322.10 671.40H325.30" stroke="#262626" stroke-width="0.9" fill="none"/>
<path d="M350.35 620.51V612.65M348.75 620.51H351.95M348.75 612.65H351.95" stroke="#262626" stroke-width="0.9" fill="none"/>
<path d="M367.50 662.17V656.27M365.90 662.17H369.10M365.90 656.27H369.10" stroke="#262626" stroke-width="0.9" fill="none"/>
<path d="M292.70 604.20V682.80H381.00" stroke="#858585" stroke-width="1.45" fill="none"/>
<path d="M290.50 682.80H292.70M290.50 672.97H292.70M290.50 663.15H292.70M290.50 653.32H292.70M290.50 643.50H292.70M290.50 633.67H292.70M290.50 623.85H292.70M290.50 614.02H292.70M290.50 604.20H292.70M292.70 682.80V685.00M336.50 682.80V685.00M381.00 682.80V685.00" stroke="#858585" stroke-width="1" fill="none"/>
<text transform="translate(290.10 686.00) scale(1.15 1)" font-size="9" text-anchor="end">0</text>
<text transform="translate(290.10 666.35) scale(1.15 1)" font-size="9" text-anchor="end">10</text>
<text transform="translate(290.10 646.70) scale(1.15 1)" font-size="9" text-anchor="end">20</text>
<text transform="translate(290.10 627.05) scale(1.15 1)" font-size="9" text-anchor="end">30</text>
<text transform="translate(290.10 607.40) scale(1.15 1)" font-size="9" text-anchor="end">40</text>
<path d="M350.50 605.20L350.50 602.65M350.50 605.20L352.93 604.41M350.50 605.20L352.00 607.26M350.50 605.20L349.00 607.26M350.50 605.20L348.07 604.41" stroke="#111" stroke-width="1.3" stroke-linecap="round" fill="none"/>
<path d="M368.70 644.80L369.05 639.00M370.30 644.80L370.65 639.00M367.50 640.95H371.70M367.30 642.90H371.50" stroke="#111" stroke-width="0.9" fill="none"/>
<path d="M366.50 649.30L366.50 646.75M366.50 649.30L368.93 648.51M366.50 649.30L368.00 651.36M366.50 649.30L365.00 651.36M366.50 649.30L364.07 648.51" stroke="#111" stroke-width="1.3" stroke-linecap="round" fill="none"/>
<rect x="297.90" y="618.70" width="3.6" height="3.6" fill="#ae2a23" stroke="#8f8f8f" stroke-width="0.5"/>
<text x="303.30" y="623.80" font-size="9.2">Veh</text>
<rect x="297.90" y="628.60" width="3.6" height="3.6" fill="#f8c19b" stroke="#8f8f8f" stroke-width="0.5"/>
<text x="303.30" y="633.70" font-size="9.2">Cpd16</text>
<text x="304.00" y="643.60" font-size="9.2">-25-µM</text>
<text transform="translate(275.00 694.00) rotate(-90)" font-size="9.6" textLength="101.7" lengthAdjust="spacingAndGlyphs">Medium LDH (% vs. total)</text>
<text x="315.00" y="694.50" font-size="10" text-anchor="middle">C</text>
<text x="342.30" y="694.00" font-size="10" textLength="35.5" lengthAdjust="spacingAndGlyphs">H<tspan font-size="6" dy="1.5">2</tspan><tspan dy="-1.5">O</tspan><tspan font-size="6" dy="1.5">2</tspan><tspan dy="-1.5">,36h</tspan></text>
<rect x="427.30" y="671.21" width="18.00" height="11.59" fill="#ae2a23" stroke="#8f8f8f" stroke-width="0.7"/>
<rect x="446.00" y="671.21" width="16.90" height="11.59" fill="#f8c19b" stroke="#8f8f8f" stroke-width="0.7"/>
<rect x="473.20" y="623.88" width="18.00" height="58.92" fill="#ae2a23" stroke="#8f8f8f" stroke-width="0.7"/>
<rect x="491.90" y="660.29" width="17.40" height="22.51" fill="#f8c19b" stroke="#8f8f8f" stroke-width="0.7"/>
<path d="M436.30 674.52V667.90M434.70 674.52H437.90M434.70 667.90H437.90" stroke="#262626" stroke-width="0.9" fill="none"/>
<path d="M454.45 673.86V667.90M452.85 673.86H456.05M452.85 667.90H456.05" stroke="#262626" stroke-width="0.9" fill="none"/>
<path d="M482.20 628.18V618.92M480.60 628.18H483.80M480.60 618.92H483.80" stroke="#262626" stroke-width="0.9" fill="none"/>
<path d="M500.60 664.26V656.32M499.00 664.26H502.20M499.00 656.32H502.20" stroke="#262626" stroke-width="0.9" fill="none"/>
<path d="M421.70 600.05V682.80H515.20" stroke="#858585" stroke-width="1.45" fill="none"/>
<path d="M419.50 682.80H421.70M419.50 666.25H421.70M419.50 649.70H421.70M419.50 633.15H421.70M419.50 616.60H421.70M419.50 600.05H421.70M421.70 682.80V685.00M468.00 682.80V685.00M515.20 682.80V685.00" stroke="#858585" stroke-width="1" fill="none"/>
<text transform="translate(418.90 686.00) scale(1.15 1)" font-size="9" text-anchor="end">0</text>
<text transform="translate(418.90 652.90) scale(1.15 1)" font-size="9" text-anchor="end">10</text>
<text transform="translate(418.90 619.80) scale(1.15 1)" font-size="9" text-anchor="end">20</text>
<path d="M483.70 609.60L483.70 607.05M483.70 609.60L486.13 608.81M483.70 609.60L485.20 611.66M483.70 609.60L482.20 611.66M483.70 609.60L481.27 608.81" stroke="#111" stroke-width="1.3" stroke-linecap="round" fill="none"/>
<path d="M500.80 645.50L501.15 639.70M502.40 645.50L502.75 639.70M499.60 641.65H503.80M499.40 643.60H503.60" stroke="#111" stroke-width="0.9" fill="none"/>
<path d="M501.60 649.80L501.60 647.25M501.60 649.80L504.03 649.01M501.60 649.80L503.10 651.86M501.60 649.80L500.10 651.86M501.60 649.80L499.17 649.01" stroke="#111" stroke-width="1.3" stroke-linecap="round" fill="none"/>
<rect x="431.40" y="618.20" width="3.6" height="3.6" fill="#ae2a23" stroke="#8f8f8f" stroke-width="0.5"/>
<text x="436.60" y="623.30" font-size="9.2">Veh</text>
<rect x="431.40" y="628.10" width="3.6" height="3.6" fill="#f8c19b" stroke="#8f8f8f" stroke-width="0.5"/>
<text x="436.60" y="633.20" font-size="9.2">Cpd16</text>
<text x="437.50" y="643.60" font-size="9.2">-25-µM</text>
<text transform="translate(404.50 684.00) rotate(-90)" font-size="9.6" textLength="83.0" lengthAdjust="spacingAndGlyphs">TUNEL (% vs. DAPI)</text>
<text x="449.00" y="694.50" font-size="10" text-anchor="middle">C</text>
<text x="476.30" y="694.00" font-size="10" textLength="34.7" lengthAdjust="spacingAndGlyphs">H<tspan font-size="6" dy="1.5">2</tspan><tspan dy="-1.5">O</tspan><tspan font-size="6" dy="1.5">2</tspan><tspan dy="-1.5">,24h</tspan></text>
<rect x="549.40" y="673.31" width="17.70" height="10.29" fill="#ae2a23" stroke="#8f8f8f" stroke-width="0.7"/>
<rect x="567.80" y="674.70" width="16.50" height="8.90" fill="#f8c19b" stroke="#8f8f8f" stroke-width="0.7"/>
<rect x="595.80" y="615.77" width="17.20" height="67.83" fill="#ae2a23" stroke="#8f8f8f" stroke-width="0.7"/>
<rect x="613.70" y="658.02" width="17.20" height="25.58" fill="#f8c19b" stroke="#8f8f8f" stroke-width="0.7"/>
<path d="M558.25 675.26V671.37M556.65 675.26H559.85M556.65 671.37H559.85" stroke="#262626" stroke-width="0.9" fill="none"/>
<path d="M576.05 676.37V673.04M574.45 676.37H577.65M574.45 673.04H577.65" stroke="#262626" stroke-width="0.9" fill="none"/>
<path d="M604.40 622.44V607.98M602.80 622.44H606.00M602.80 607.98H606.00" stroke="#262626" stroke-width="0.9" fill="none"/>
<path d="M622.30 662.19V654.13M620.70 662.19H623.90M620.70 654.13H623.90" stroke="#262626" stroke-width="0.9" fill="none"/>
<path d="M544.30 600.20V683.60H637.10" stroke="#858585" stroke-width="1.45" fill="none"/>
<path d="M542.10 683.60H544.30M542.10 669.70H544.30M542.10 655.80H544.30M542.10 641.90H544.30M542.10 628.00H544.30M542.10 614.10H544.30M542.10 600.20H544.30M544.30 683.60V685.80M590.00 683.60V685.80M637.10 683.60V685.80" stroke="#858585" stroke-width="1" fill="none"/>
<text transform="translate(540.20 686.80) scale(1.15 1)" font-size="9" text-anchor="end">0</text>
<text transform="translate(540.20 659.00) scale(1.15 1)" font-size="9" text-anchor="end">10</text>
<text transform="translate(540.20 631.20) scale(1.15 1)" font-size="9" text-anchor="end">20</text>
<text transform="translate(540.20 603.40) scale(1.15 1)" font-size="9" text-anchor="end">30</text>
<path d="M604.80 605.20L604.80 602.65M604.80 605.20L607.23 604.41M604.80 605.20L606.30 607.26M604.80 605.20L603.30 607.26M604.80 605.20L602.37 604.41" stroke="#111" stroke-width="1.3" stroke-linecap="round" fill="none"/>
<path d="M621.40 645.30L621.75 639.50M623.00 645.30L623.35 639.50M620.20 641.45H624.40M620.00 643.40H624.20" stroke="#111" stroke-width="0.9" fill="none"/>
<path d="M622.20 649.30L622.20 646.75M622.20 649.30L624.63 648.51M622.20 649.30L623.70 651.36M622.20 649.30L620.70 651.36M622.20 649.30L619.77 648.51" stroke="#111" stroke-width="1.3" stroke-linecap="round" fill="none"/>
<rect x="552.70" y="618.20" width="3.6" height="3.6" fill="#ae2a23" stroke="#8f8f8f" stroke-width="0.5"/>
<text x="558.40" y="623.30" font-size="9.2">Veh</text>
<rect x="552.70" y="628.10" width="3.6" height="3.6" fill="#f8c19b" stroke="#8f8f8f" stroke-width="0.5"/>
<text x="558.40" y="633.20" font-size="9.2">Cpd16</text>
<text x="559.40" y="643.10" font-size="9.2">-25-µM</text>
<text transform="translate(526.90 695.20) rotate(-90)" font-size="9.6" textLength="102.9" lengthAdjust="spacingAndGlyphs">Medium LDH (% vs. total)</text>
<text x="570.00" y="694.50" font-size="10" text-anchor="middle">C</text>
<text x="597.40" y="694.00" font-size="10" textLength="34.2" lengthAdjust="spacingAndGlyphs">H<tspan font-size="6" dy="1.5">2</tspan><tspan dy="-1.5">O</tspan><tspan font-size="6" dy="1.5">2</tspan><tspan dy="-1.5">,36h</tspan></text>
<text x="0.00" y="13.60" font-size="18.5" font-weight="bold" letter-spacing="0.5">A.</text>
<text x="120.45" y="13.60" font-size="18.5" font-weight="bold" letter-spacing="0.5">B.</text>
<text x="245.20" y="13.60" font-size="18.5" font-weight="bold" letter-spacing="0.5">C.</text>
<text x="412.05" y="12.90" font-size="18.5" font-weight="bold" letter-spacing="0.5">D.</text>
<text x="-0.35" y="167.30" font-size="18.5" font-weight="bold" letter-spacing="0.5">E.</text>
<text x="439.00" y="177.50" font-size="18.5" font-weight="bold" letter-spacing="0.5">G.</text>
<text x="321.95" y="312.40" font-size="18.5" font-weight="bold" letter-spacing="0.5">F.</text>
<text x="437.65" y="311.70" font-size="18.5" font-weight="bold" letter-spacing="0.5">H.</text>
<text x="-1.30" y="434.80" font-size="18.5" font-weight="bold" letter-spacing="0.5">I.</text>
<text x="169.00" y="434.80" font-size="18.5" font-weight="bold" letter-spacing="0.5">J.</text>
<text x="317.45" y="434.80" font-size="18.5" font-weight="bold" letter-spacing="0.5">K.</text>
<text x="474.15" y="434.80" font-size="18.5" font-weight="bold" letter-spacing="0.5">L.</text>
<text x="-0.30" y="581.10" font-size="18.5" font-weight="bold" letter-spacing="0.5">M.</text>
<text x="257.35" y="581.10" font-size="18.5" font-weight="bold" letter-spacing="0.5">N.</text>
<text x="380.40" y="581.10" font-size="18.5" font-weight="bold" letter-spacing="0.5">O.</text>
<text x="524.85" y="581.10" font-size="18.5" font-weight="bold" letter-spacing="0.5">P.</text>
<text x="16.40" y="31.20" font-size="10.5" font-weight="bold" textLength="139.8" lengthAdjust="spacingAndGlyphs" fill="#317a3e">Primary murine osteoblasts</text>
<text x="25.60" y="445.30" font-size="10.5" font-weight="bold" textLength="139.8" lengthAdjust="spacingAndGlyphs" fill="#317a3e">Primary human osteoblasts</text>
<text x="420.90" y="592.80" font-size="9" font-weight="bold" textLength="65.8" lengthAdjust="spacingAndGlyphs" fill="#317a3e">MC3T3-E1 cells</text>
<text x="295.10" y="30.00" font-size="8.5" text-anchor="middle">C</text>
<text x="320.60" y="30.00" font-size="8.5" textLength="73.7" lengthAdjust="spacingAndGlyphs" fill="#000">H<tspan font-size="5.27" dy="1.6">2</tspan><tspan dy="-1.6">O</tspan><tspan font-size="5.27" dy="1.6">2</tspan><tspan dy="-1.6"> (400 µM), 16h</tspan></text>
<path d="M270.80 33.30H322.60" stroke="#7d7d7d" stroke-width="1.0"/>
<path d="M324.50 33.30H375.70" stroke="#7d7d7d" stroke-width="1.0"/>
<text x="302.10" y="41.40" font-size="7.6" text-anchor="middle" textLength="21.2" lengthAdjust="spacingAndGlyphs" fill="#a83a30">Cpd16</text>
<text x="360.00" y="41.40" font-size="7.6" text-anchor="middle" textLength="21.2" lengthAdjust="spacingAndGlyphs" fill="#a83a30">Cpd16</text>
<path d="M283.10 43.70H322.20" stroke="#333" stroke-width="0.9"/>
<path d="M342.00 43.70H381.10" stroke="#333" stroke-width="0.9"/>
<text x="269.10" y="52.40" font-size="7.6" textLength="13.3" lengthAdjust="spacingAndGlyphs">Veh</text>
<text x="283.30" y="52.40" font-size="7.6" textLength="16.2" lengthAdjust="spacingAndGlyphs" fill="#a83a30">5 µM</text>
<text x="301.40" y="52.40" font-size="7.6" textLength="20.8" lengthAdjust="spacingAndGlyphs" fill="#a83a30">25 µM</text>
<text x="324.50" y="52.40" font-size="7.6" textLength="12.9" lengthAdjust="spacingAndGlyphs">Veh</text>
<text x="342.90" y="52.40" font-size="7.6" textLength="15.4" lengthAdjust="spacingAndGlyphs" fill="#a83a30">5 µM</text>
<text x="362.50" y="52.40" font-size="7.6" textLength="19.3" lengthAdjust="spacingAndGlyphs" fill="#a83a30">25 µM</text>
<clipPath id="cl401"><rect x="269.40" y="55.60" width="107.30" height="20.70"/></clipPath>
<g clip-path="url(#cl401)"><rect x="269.40" y="55.60" width="107.30" height="20.70" fill="#dedede"/>
<rect x="322.00" y="64.00" width="17.00" height="5.80" rx="2.90" fill="#000" opacity="1" filter="url(#bl7)"/>
<rect x="343.00" y="65.90" width="14.00" height="2.60" rx="1.30" fill="#9a9a9a" opacity="0.6" filter="url(#bl8)"/>
<rect x="360.00" y="66.20" width="12.00" height="2.20" rx="1.10" fill="#b5b5b5" opacity="0.4" filter="url(#bl8)"/>
</g>
<rect x="269.40" y="55.60" width="107.30" height="20.70" fill="none" stroke="#2a2a2a" stroke-width="1.1"/>
<clipPath id="cl408"><rect x="269.40" y="84.50" width="107.30" height="20.70"/></clipPath>
<g clip-path="url(#cl408)"><rect x="269.40" y="84.50" width="107.30" height="20.70" fill="#e6e6e6"/>
<rect x="320.95" y="92.20" width="16.50" height="3.80" rx="1.90" fill="#3a3a3a" opacity="0.9" filter="url(#bl7)"/>
<rect x="342.00" y="92.80" width="15.00" height="3.00" rx="1.50" fill="#999" opacity="0.7" filter="url(#bl8)"/>
<rect x="270.50" y="93.00" width="14.00" height="2.60" rx="1.30" fill="#c8c8c8" opacity="0.6" filter="url(#bl8)"/>
<rect x="361.00" y="93.30" width="10.00" height="2.00" rx="1.00" fill="#ccc" opacity="0.4" filter="url(#bl8)"/>
</g>
<rect x="269.40" y="84.50" width="107.30" height="20.70" fill="none" stroke="#2a2a2a" stroke-width="1.1"/>
<clipPath id="cl416"><rect x="269.40" y="113.40" width="107.30" height="19.80"/></clipPath>
<g clip-path="url(#cl416)"><rect x="269.40" y="113.40" width="107.30" height="19.80" fill="#e9e9e9"/>
<rect x="269.60" y="119.70" width="18.00" height="4.40" rx="2.20" fill="#6e6e6e" opacity="1" filter="url(#bl8)"/>
<rect x="288.00" y="119.70" width="17.00" height="4.40" rx="2.20" fill="#6e6e6e" opacity="1" filter="url(#bl8)"/>
<rect x="305.00" y="119.10" width="17.00" height="5.20" rx="2.60" fill="#666" opacity="1" filter="url(#bl8)"/>
<rect x="321.20" y="119.00" width="18.00" height="5.60" rx="2.80" fill="#606060" opacity="1" filter="url(#bl8)"/>
<rect x="340.50" y="120.20" width="15.00" height="3.40" rx="1.70" fill="#767676" opacity="1" filter="url(#bl8)"/>
<rect x="359.10" y="119.60" width="17.00" height="4.60" rx="2.30" fill="#6e6e6e" opacity="1" filter="url(#bl8)"/>
</g>
<rect x="269.40" y="113.40" width="107.30" height="19.80" fill="none" stroke="#2a2a2a" stroke-width="1.1"/>
<text x="267.60" y="65.81" font-size="5.3" text-anchor="end" fill="#111" stroke="#111" stroke-width="0.18">17kD-</text>
<text x="267.60" y="96.21" font-size="5.3" text-anchor="end" fill="#111" stroke="#111" stroke-width="0.18">89kD-</text>
<text x="267.60" y="124.71" font-size="5.3" text-anchor="end" fill="#111" stroke="#111" stroke-width="0.18">55kD-</text>
<text x="378.90" y="64.80" font-size="8.5" textLength="19.5" lengthAdjust="spacingAndGlyphs">Clvd-</text>
<text x="378.90" y="74.80" font-size="8.5" textLength="41.3" lengthAdjust="spacingAndGlyphs">Caspase-3</text>
<text x="378.90" y="91.60" font-size="8.5" textLength="19.5" lengthAdjust="spacingAndGlyphs">Clvd-</text>
<text x="378.90" y="101.70" font-size="8.5" textLength="22.5" lengthAdjust="spacingAndGlyphs">PARP</text>
<text x="378.90" y="123.90" font-size="8.5" textLength="28" lengthAdjust="spacingAndGlyphs">Tubulin</text>
<text x="321.90" y="82.90" font-size="5.3" textLength="11.4" lengthAdjust="spacingAndGlyphs">0.30</text>
<text x="342.00" y="82.90" font-size="5.3" textLength="10.2" lengthAdjust="spacingAndGlyphs" fill="#a83a30">0.09</text>
<text x="358.10" y="82.80" font-size="5.2" textLength="42" lengthAdjust="spacingAndGlyphs" fill="#a83a30">0.01 (vs. Tubulin)</text>
<text x="321.90" y="111.40" font-size="5.3" textLength="11.4" lengthAdjust="spacingAndGlyphs">0.28</text>
<text x="342.00" y="111.40" font-size="5.3" textLength="10.2" lengthAdjust="spacingAndGlyphs" fill="#a83a30">0.06</text>
<text x="358.10" y="111.40" font-size="5.2" textLength="42" lengthAdjust="spacingAndGlyphs" fill="#a83a30">0.01 (vs. Tubulin)</text>
<text x="475.40" y="176.00" font-size="8.8" font-weight="bold" textLength="90.4" lengthAdjust="spacingAndGlyphs" fill="#3a55c0">Mitochondrial lysates</text>
<text x="590.60" y="176.00" font-size="8.8" font-weight="bold" textLength="90.2" lengthAdjust="spacingAndGlyphs" fill="#3a55c0">Mitochondrial lysates</text>
<text x="462.30" y="186.00" font-size="8.9" font-weight="bold" textLength="50.7" lengthAdjust="spacingAndGlyphs">mito-IP: IgG</text>
<text x="522.20" y="186.00" font-size="8.9" font-weight="bold" textLength="58.5" lengthAdjust="spacingAndGlyphs">mito-IP: CypD</text>
<text x="631.40" y="185.80" font-size="8.9" text-anchor="middle" font-weight="bold" textLength="27" lengthAdjust="spacingAndGlyphs">Inputs</text>
<path d="M458.30 190.10H513.80" stroke="#7d7d7d" stroke-width="1.0"/>
<path d="M519.20 190.10H575.50" stroke="#7d7d7d" stroke-width="1.0"/>
<path d="M603.50 188.80H659.00" stroke="#7d7d7d" stroke-width="1.0"/>
<text x="491.50" y="197.10" font-size="7.4" text-anchor="middle" textLength="20.5" lengthAdjust="spacingAndGlyphs" fill="#e5472f">Cpd16</text>
<text x="554.10" y="197.10" font-size="7.4" text-anchor="middle" textLength="20.5" lengthAdjust="spacingAndGlyphs" fill="#e5472f">Cpd16</text>
<text x="639.60" y="197.10" font-size="7.4" text-anchor="middle" textLength="20.5" lengthAdjust="spacingAndGlyphs" fill="#e5472f">Cpd16</text>
<path d="M473.20 198.90H509.70" stroke="#333" stroke-width="0.9"/>
<path d="M535.80 198.90H572.20" stroke="#333" stroke-width="0.9"/>
<path d="M621.20 199.00H658.00" stroke="#333" stroke-width="0.9"/>
<text x="459.00" y="207.90" font-size="7.3" textLength="12.8" lengthAdjust="spacingAndGlyphs">Veh</text>
<text x="474.40" y="207.90" font-size="7.3" textLength="15.4" lengthAdjust="spacingAndGlyphs" fill="#e5472f">5 µM</text>
<text x="492.20" y="207.90" font-size="7.3" textLength="18.7" lengthAdjust="spacingAndGlyphs" fill="#e5472f">25 µM</text>
<text x="521.60" y="207.90" font-size="7.3" textLength="12.8" lengthAdjust="spacingAndGlyphs">Veh</text>
<text x="536.90" y="207.90" font-size="7.3" textLength="15.4" lengthAdjust="spacingAndGlyphs" fill="#e5472f">5 µM</text>
<text x="554.40" y="207.90" font-size="7.3" textLength="18.7" lengthAdjust="spacingAndGlyphs" fill="#e5472f">25 µM</text>
<text x="605.20" y="207.90" font-size="7.3" textLength="12.8" lengthAdjust="spacingAndGlyphs">Veh</text>
<text x="622.40" y="207.90" font-size="7.3" textLength="15.4" lengthAdjust="spacingAndGlyphs" fill="#e5472f">5 µM</text>
<text x="640.60" y="207.90" font-size="7.3" textLength="18.7" lengthAdjust="spacingAndGlyphs" fill="#e5472f">25 µM</text>
<clipPath id="cl463"><rect x="457.30" y="209.30" width="56.10" height="18.50"/></clipPath>
<g clip-path="url(#cl463)"><rect x="457.30" y="209.30" width="56.10" height="18.50" fill="#e9e9e9"/>
</g>
<rect x="457.30" y="209.30" width="56.10" height="18.50" fill="none" stroke="#2a2a2a" stroke-width="1.1"/>
<clipPath id="cl467"><rect x="457.30" y="233.10" width="56.10" height="18.70"/></clipPath>
<g clip-path="url(#cl467)"><rect x="457.30" y="233.10" width="56.10" height="18.70" fill="#e9e9e9"/>
</g>
<rect x="457.30" y="233.10" width="56.10" height="18.70" fill="none" stroke="#2a2a2a" stroke-width="1.1"/>
<clipPath id="cl471"><rect x="457.30" y="258.30" width="56.10" height="18.60"/></clipPath>
<g clip-path="url(#cl471)"><rect x="457.30" y="258.30" width="56.10" height="18.60" fill="#e9e9e9"/>
</g>
<rect x="457.30" y="258.30" width="56.10" height="18.60" fill="none" stroke="#2a2a2a" stroke-width="1.1"/>
<text x="456.60" y="220.02" font-size="4.5" text-anchor="end" fill="#111" stroke="#111" stroke-width="0.18">42kD-</text>
<text x="456.60" y="245.12" font-size="4.5" text-anchor="end" fill="#111" stroke="#111" stroke-width="0.18">50kD-</text>
<text x="456.60" y="270.52" font-size="4.5" text-anchor="end" fill="#111" stroke="#111" stroke-width="0.18">53kD-</text>
<clipPath id="cl478"><rect x="518.50" y="209.30" width="55.20" height="18.40"/></clipPath>
<g clip-path="url(#cl478)"><rect x="518.50" y="209.30" width="55.20" height="18.40" fill="#777"/>
<rect x="518" y="209" width="56" height="19" fill="#a2a2a2"/><g filter="url(#bl8)" fill="#555"><path d="M518 209.5 L533 209.5 Q535.3 216 535.5 224.5 Q527 226.8 518 225 Z"/><path d="M537.5 209.5 L551 209.5 Q552.8 216 552.6 224.5 Q544 226.8 535.6 224.5 Q535.8 216 537.5 209.5 Z"/><path d="M554.8 209.5 L574 209.5 L574 224.5 Q563 226.8 553.2 224.5 Q553.3 216 554.8 209.5 Z"/></g>
</g>
<rect x="518.50" y="209.30" width="55.20" height="18.40" fill="none" stroke="#2a2a2a" stroke-width="1.1"/>
<clipPath id="cl483"><rect x="518.50" y="233.20" width="55.20" height="18.50"/></clipPath>
<g clip-path="url(#cl483)"><rect x="518.50" y="233.20" width="55.20" height="18.50" fill="#ebebeb"/>
<rect x="519.80" y="242.20" width="8.00" height="2.60" rx="1.30" fill="#555" opacity="0.85" filter="url(#bl6)"/>
<rect x="525.00" y="242.80" width="9.00" height="1.80" rx="0.90" fill="#999" opacity="0.5" filter="url(#bl8)"/>
<rect x="542.00" y="243.00" width="10.00" height="2.00" rx="1.00" fill="#d0d0d0" opacity="0.5" filter="url(#bl8)"/>
</g>
<rect x="518.50" y="233.20" width="55.20" height="18.50" fill="none" stroke="#2a2a2a" stroke-width="1.1"/>
<clipPath id="cl490"><rect x="518.50" y="258.30" width="55.20" height="18.60"/></clipPath>
<g clip-path="url(#cl490)"><rect x="518.50" y="258.30" width="55.20" height="18.60" fill="#dedede"/>
<rect x="520.00" y="266.10" width="14.00" height="3.40" rx="1.70" fill="#333" opacity="0.95" filter="url(#bl6)"/>
<rect x="540.00" y="267.10" width="12.00" height="2.20" rx="1.10" fill="#aaa" opacity="0.7" filter="url(#bl8)"/>
<rect x="557.50" y="267.10" width="12.00" height="2.20" rx="1.10" fill="#aaa" opacity="0.6" filter="url(#bl8)"/>
</g>
<rect x="518.50" y="258.30" width="55.20" height="18.60" fill="none" stroke="#2a2a2a" stroke-width="1.1"/>
<text x="575.70" y="221.90" font-size="7.6" textLength="19.1" lengthAdjust="spacingAndGlyphs">CyPD</text>
<text x="575.70" y="246.60" font-size="7.6" textLength="18.4" lengthAdjust="spacingAndGlyphs">ANT1</text>
<text x="575.70" y="270.80" font-size="7.6" textLength="12.5" lengthAdjust="spacingAndGlyphs">p53</text>
<text x="521.80" y="257.10" font-size="5.2" textLength="9.9" lengthAdjust="spacingAndGlyphs">0.12</text>
<text x="540.90" y="257.10" font-size="5.2" textLength="10.2" lengthAdjust="spacingAndGlyphs" fill="#e5472f">0.00</text>
<text x="559.70" y="257.10" font-size="5.2" textLength="35.5" lengthAdjust="spacingAndGlyphs" fill="#e5472f">0.00 (vs. CypD)</text>
<text x="521.80" y="283.30" font-size="5.2" textLength="9.9" lengthAdjust="spacingAndGlyphs">0.12</text>
<text x="540.90" y="283.30" font-size="5.2" textLength="10.2" lengthAdjust="spacingAndGlyphs" fill="#e5472f">0.03</text>
<text x="559.70" y="283.30" font-size="5.2" textLength="35.5" lengthAdjust="spacingAndGlyphs" fill="#e5472f">0.01 (vs. CypD)</text>
<text x="491.30" y="290.50" font-size="7.5" textLength="58" lengthAdjust="spacingAndGlyphs" fill="#983a34">H<tspan font-size="4.65" dy="1.6">2</tspan><tspan dy="-1.6">O</tspan><tspan font-size="4.65" dy="1.6">2</tspan><tspan dy="-1.6"> (400 µM), 4h</tspan></text>
<clipPath id="cl507"><rect x="604.10" y="209.40" width="55.40" height="18.50"/></clipPath>
<g clip-path="url(#cl507)"><rect x="604.10" y="209.40" width="55.40" height="18.50" fill="#e9e9e9"/>
<rect x="604.75" y="216.90" width="16.50" height="3.20" rx="1.60" fill="#606060" opacity="0.95" filter="url(#bl7)"/>
<rect x="623.00" y="217.10" width="16.00" height="3.00" rx="1.50" fill="#666" opacity="0.95" filter="url(#bl7)"/>
<rect x="642.15" y="217.10" width="16.50" height="3.00" rx="1.50" fill="#6a6a6a" opacity="0.95" filter="url(#bl7)"/>
</g>
<rect x="604.10" y="209.40" width="55.40" height="18.50" fill="none" stroke="#2a2a2a" stroke-width="1.1"/>
<clipPath id="cl514"><rect x="604.10" y="233.20" width="55.40" height="18.40"/></clipPath>
<g clip-path="url(#cl514)"><rect x="604.10" y="233.20" width="55.40" height="18.40" fill="#e6e6e6"/>
<rect x="605.00" y="240.10" width="16.00" height="2.80" rx="1.40" fill="#aaa" opacity="0.9" filter="url(#bl8)"/>
<rect x="623.00" y="240.20" width="16.00" height="2.80" rx="1.40" fill="#aaa" opacity="0.9" filter="url(#bl8)"/>
<rect x="642.40" y="240.00" width="16.00" height="3.20" rx="1.60" fill="#8a8a8a" opacity="0.9" filter="url(#bl8)"/>
</g>
<rect x="604.10" y="233.20" width="55.40" height="18.40" fill="none" stroke="#2a2a2a" stroke-width="1.1"/>
<clipPath id="cl521"><rect x="604.10" y="258.20" width="55.40" height="18.80"/></clipPath>
<g clip-path="url(#cl521)"><rect x="604.10" y="258.20" width="55.40" height="18.80" fill="#e3e3e3"/>
<rect x="604.75" y="266.70" width="16.50" height="4.40" rx="2.20" fill="#262626" opacity="1" filter="url(#bl6)"/>
<rect x="623.00" y="266.80" width="16.00" height="4.20" rx="2.10" fill="#262626" opacity="1" filter="url(#bl6)"/>
<rect x="641.90" y="266.40" width="17.00" height="4.60" rx="2.30" fill="#1e1e1e" opacity="1" filter="url(#bl6)"/>
</g>
<rect x="604.10" y="258.20" width="55.40" height="18.80" fill="none" stroke="#2a2a2a" stroke-width="1.1"/>
<clipPath id="cl528"><rect x="604.10" y="284.50" width="55.40" height="18.00"/></clipPath>
<g clip-path="url(#cl528)"><rect x="604.10" y="284.50" width="55.40" height="18.00" fill="#e6e6e6"/>
<rect x="604.25" y="289.90" width="17.50" height="5.40" rx="2.70" fill="#555" opacity="1" filter="url(#bl6)"/>
<rect x="622.75" y="290.00" width="16.50" height="5.20" rx="2.60" fill="#555" opacity="1" filter="url(#bl6)"/>
<rect x="641.90" y="290.00" width="17.00" height="5.20" rx="2.60" fill="#555" opacity="1" filter="url(#bl6)"/>
</g>
<rect x="604.10" y="284.50" width="55.40" height="18.00" fill="none" stroke="#2a2a2a" stroke-width="1.1"/>
<text x="660.40" y="221.60" font-size="7.6" textLength="19.1" lengthAdjust="spacingAndGlyphs">CyPD</text>
<text x="660.40" y="245.90" font-size="7.6" textLength="18.4" lengthAdjust="spacingAndGlyphs">ANT1</text>
<text x="660.40" y="271.70" font-size="7.6" textLength="12.5" lengthAdjust="spacingAndGlyphs">p53</text>
<text x="661.30" y="296.30" font-size="7.6" textLength="24.5" lengthAdjust="spacingAndGlyphs">Tubulin</text>
<text x="603.20" y="294.46" font-size="4.6" text-anchor="end" fill="#111" stroke="#111" stroke-width="0.18">55kD-</text>
<text x="608.30" y="233.10" font-size="5.2" textLength="9.6" lengthAdjust="spacingAndGlyphs">0.44</text>
<text x="626.00" y="233.10" font-size="5.2" textLength="10" lengthAdjust="spacingAndGlyphs" fill="#e5472f">0.44</text>
<text x="645.10" y="233.10" font-size="5.2" textLength="40" lengthAdjust="spacingAndGlyphs" fill="#e5472f">0.42 (vs. Tubulin)</text>
<text x="608.30" y="256.50" font-size="5.2" textLength="9.6" lengthAdjust="spacingAndGlyphs">0.19</text>
<text x="626.00" y="256.50" font-size="5.2" textLength="10" lengthAdjust="spacingAndGlyphs" fill="#e5472f">0.20</text>
<text x="645.10" y="256.50" font-size="5.2" textLength="40" lengthAdjust="spacingAndGlyphs" fill="#e5472f">0.21 (vs. Tubulin)</text>
<text x="608.30" y="282.70" font-size="5.2" textLength="9.6" lengthAdjust="spacingAndGlyphs">0.86</text>
<text x="626.00" y="282.70" font-size="5.2" textLength="10" lengthAdjust="spacingAndGlyphs" fill="#e5472f">0.91</text>
<text x="645.10" y="282.70" font-size="5.2" textLength="40" lengthAdjust="spacingAndGlyphs" fill="#e5472f">0.92 (vs. Tubulin)</text>
<text x="605.20" y="312.40" font-size="7.5" textLength="58" lengthAdjust="spacingAndGlyphs" fill="#983a34">H<tspan font-size="4.65" dy="1.6">2</tspan><tspan dy="-1.6">O</tspan><tspan font-size="4.65" dy="1.6">2</tspan><tspan dy="-1.6"> (400 µM), 4h</tspan></text>
<text x="34.50" y="577.60" font-size="8.8" font-weight="bold" textLength="86.9" lengthAdjust="spacingAndGlyphs" fill="#3a55c0">Mitochondrial lysates</text>
<text x="136.70" y="577.60" font-size="8.8" font-weight="bold" textLength="86.6" lengthAdjust="spacingAndGlyphs" fill="#3a55c0">Mitochondrial lysates</text>
<text x="28.60" y="589.10" font-size="8.6" font-weight="bold" textLength="48.1" lengthAdjust="spacingAndGlyphs">mito-IP: IgG</text>
<text x="78.60" y="589.10" font-size="8.6" font-weight="bold" textLength="56.6" lengthAdjust="spacingAndGlyphs">mito-IP: CypD</text>
<text x="184.30" y="587.90" font-size="8.6" text-anchor="middle" font-weight="bold" textLength="25.5" lengthAdjust="spacingAndGlyphs">Inputs</text>
<path d="M29.80 593.30H75.70" stroke="#7d7d7d" stroke-width="1.0"/>
<path d="M79.80 593.30H128.60" stroke="#7d7d7d" stroke-width="1.0"/>
<path d="M163.30 591.70H209.00" stroke="#7d7d7d" stroke-width="1.0"/>
<text x="63.80" y="599.80" font-size="7.6" text-anchor="middle" textLength="21.5" lengthAdjust="spacingAndGlyphs" fill="#e5472f">Cpd16</text>
<text x="117.10" y="599.80" font-size="7.6" text-anchor="middle" textLength="21.5" lengthAdjust="spacingAndGlyphs" fill="#e5472f">Cpd16</text>
<text x="197.90" y="599.80" font-size="7.6" text-anchor="middle" textLength="21.5" lengthAdjust="spacingAndGlyphs" fill="#e5472f">Cpd16</text>
<path d="M52.40 602.40H75.70" stroke="#333" stroke-width="0.9"/>
<path d="M106.00 602.40H128.60" stroke="#333" stroke-width="0.9"/>
<path d="M186.70 602.40H209.00" stroke="#333" stroke-width="0.9"/>
<text x="31.70" y="611.70" font-size="7.6" textLength="13.2" lengthAdjust="spacingAndGlyphs">Veh</text>
<text x="52.90" y="611.70" font-size="7.6" textLength="20.8" lengthAdjust="spacingAndGlyphs" fill="#e5472f">25 µM</text>
<text x="85.00" y="611.70" font-size="7.6" textLength="13.2" lengthAdjust="spacingAndGlyphs">Veh</text>
<text x="105.90" y="611.70" font-size="7.6" textLength="20.8" lengthAdjust="spacingAndGlyphs" fill="#e5472f">25 µM</text>
<text x="165.60" y="611.70" font-size="7.6" textLength="13.2" lengthAdjust="spacingAndGlyphs">Veh</text>
<text x="186.80" y="611.70" font-size="7.6" textLength="20.8" lengthAdjust="spacingAndGlyphs" fill="#e5472f">25 µM</text>
<clipPath id="cl570"><rect x="29.00" y="613.40" width="47.70" height="22.20"/></clipPath>
<g clip-path="url(#cl570)"><rect x="29.00" y="613.40" width="47.70" height="22.20" fill="#ebebeb"/>
</g>
<rect x="29.00" y="613.40" width="47.70" height="22.20" fill="none" stroke="#2a2a2a" stroke-width="1.1"/>
<clipPath id="cl574"><rect x="29.00" y="641.40" width="47.70" height="22.10"/></clipPath>
<g clip-path="url(#cl574)"><rect x="29.00" y="641.40" width="47.70" height="22.10" fill="#ebebeb"/>
</g>
<rect x="29.00" y="641.40" width="47.70" height="22.10" fill="none" stroke="#2a2a2a" stroke-width="1.1"/>
<clipPath id="cl578"><rect x="29.00" y="672.40" width="47.70" height="22.10"/></clipPath>
<g clip-path="url(#cl578)"><rect x="29.00" y="672.40" width="47.70" height="22.10" fill="#ebebeb"/>
</g>
<rect x="29.00" y="672.40" width="47.70" height="22.10" fill="none" stroke="#2a2a2a" stroke-width="1.1"/>
<text x="27.60" y="626.24" font-size="5.4" text-anchor="end" fill="#111" stroke="#111" stroke-width="0.18">42kD-</text>
<text x="27.60" y="655.74" font-size="5.4" text-anchor="end" fill="#111" stroke="#111" stroke-width="0.18">50kD-</text>
<text x="27.60" y="686.74" font-size="5.4" text-anchor="end" fill="#111" stroke="#111" stroke-width="0.18">53kD-</text>
<clipPath id="cl585"><rect x="80.80" y="613.30" width="47.60" height="22.10"/></clipPath>
<g clip-path="url(#cl585)"><rect x="80.80" y="613.30" width="47.60" height="22.10" fill="#e2e2e2"/>
<rect x="80" y="626" width="50" height="8" fill="#b0b0b0" opacity="0.8" filter="url(#bl10)"/>
<rect x="83.60" y="625.00" width="17.00" height="7.00" rx="3.50" fill="#888" opacity="0.8" filter="url(#bl10)"/>
<rect x="107.10" y="625.00" width="17.00" height="7.00" rx="3.50" fill="#888" opacity="0.8" filter="url(#bl10)"/>
<rect x="83.10" y="620.50" width="18.00" height="5.00" rx="2.50" fill="#4a4a4a" opacity="1" filter="url(#bl6)"/>
<rect x="106.60" y="620.50" width="18.00" height="5.00" rx="2.50" fill="#4a4a4a" opacity="1" filter="url(#bl6)"/>
</g>
<rect x="80.80" y="613.30" width="47.60" height="22.10" fill="none" stroke="#2a2a2a" stroke-width="1.1"/>
<clipPath id="cl594"><rect x="80.80" y="641.40" width="47.60" height="22.00"/></clipPath>
<g clip-path="url(#cl594)"><rect x="80.80" y="641.40" width="47.60" height="22.00" fill="#e0e0e0"/>
<rect x="83.30" y="650.50" width="18.00" height="2.20" rx="1.10" fill="#a0a0a0" opacity="0.9" filter="url(#bl6)"/>
<rect x="83.80" y="653.50" width="17.00" height="5.00" rx="2.50" fill="#c9c9c9" opacity="0.6" filter="url(#bl10)"/>
</g>
<rect x="80.80" y="641.40" width="47.60" height="22.00" fill="none" stroke="#2a2a2a" stroke-width="1.1"/>
<clipPath id="cl600"><rect x="80.80" y="672.40" width="47.60" height="22.10"/></clipPath>
<g clip-path="url(#cl600)"><rect x="80.80" y="672.40" width="47.60" height="22.10" fill="#e3e3e3"/>
<rect x="83.30" y="681.60" width="18.00" height="2.40" rx="1.20" fill="#8a8a8a" opacity="0.9" filter="url(#bl6)"/>
<rect x="83.80" y="684.50" width="17.00" height="5.00" rx="2.50" fill="#cfcfcf" opacity="0.6" filter="url(#bl10)"/>
</g>
<rect x="80.80" y="672.40" width="47.60" height="22.10" fill="none" stroke="#2a2a2a" stroke-width="1.1"/>
<text x="131.10" y="628.00" font-size="8.4" textLength="22" lengthAdjust="spacingAndGlyphs">CyPD</text>
<text x="131.10" y="657.10" font-size="8.4" textLength="21.5" lengthAdjust="spacingAndGlyphs">ANT1</text>
<text x="131.10" y="687.10" font-size="8.4" textLength="14" lengthAdjust="spacingAndGlyphs">p53</text>
<text x="85.00" y="669.90" font-size="6.1" textLength="12.2" lengthAdjust="spacingAndGlyphs">0.32</text>
<text x="112.70" y="669.90" font-size="6.1" textLength="42.3" lengthAdjust="spacingAndGlyphs" fill="#e5472f">0.05 (vs. CypD)</text>
<text x="85.00" y="701.30" font-size="6.1" textLength="12.2" lengthAdjust="spacingAndGlyphs">0.12</text>
<text x="112.70" y="701.30" font-size="6.1" textLength="42.3" lengthAdjust="spacingAndGlyphs" fill="#e5472f">0.01 (vs. CypD)</text>
<text x="38.10" y="709.30" font-size="8.6" textLength="69" lengthAdjust="spacingAndGlyphs" fill="#983a34">H<tspan font-size="5.33" dy="1.6">2</tspan><tspan dy="-1.6">O</tspan><tspan font-size="5.33" dy="1.6">2</tspan><tspan dy="-1.6"> (400 µM), 4h</tspan></text>
<clipPath id="cl614"><rect x="161.90" y="613.20" width="46.90" height="21.70"/></clipPath>
<g clip-path="url(#cl614)"><rect x="161.90" y="613.20" width="46.90" height="21.70" fill="#e8e8e8"/>
<rect x="163.50" y="621.50" width="19.00" height="4.00" rx="2.00" fill="#7a7a7a" opacity="0.95" filter="url(#bl8)"/>
<rect x="188.30" y="621.50" width="19.00" height="4.00" rx="2.00" fill="#7a7a7a" opacity="0.95" filter="url(#bl8)"/>
</g>
<rect x="161.90" y="613.20" width="46.90" height="21.70" fill="none" stroke="#2a2a2a" stroke-width="1.1"/>
<clipPath id="cl620"><rect x="161.90" y="641.40" width="46.90" height="22.00"/></clipPath>
<g clip-path="url(#cl620)"><rect x="161.90" y="641.40" width="46.90" height="22.00" fill="#e6e6e6"/>
<rect x="163.50" y="649.70" width="19.00" height="3.60" rx="1.80" fill="#9a9a9a" opacity="0.9" filter="url(#bl8)"/>
<rect x="188.30" y="649.70" width="19.00" height="3.60" rx="1.80" fill="#9a9a9a" opacity="0.9" filter="url(#bl8)"/>
</g>
<rect x="161.90" y="641.40" width="46.90" height="22.00" fill="none" stroke="#2a2a2a" stroke-width="1.1"/>
<clipPath id="cl626"><rect x="161.90" y="672.20" width="46.90" height="22.10"/></clipPath>
<g clip-path="url(#cl626)"><rect x="161.90" y="672.20" width="46.90" height="22.10" fill="#dcdcdc"/>
<rect x="163.75" y="678.90" width="18.50" height="3.20" rx="1.60" fill="#aaa" opacity="0.9" filter="url(#bl8)"/>
<rect x="188.55" y="678.80" width="18.50" height="3.40" rx="1.70" fill="#999" opacity="0.9" filter="url(#bl8)"/>
</g>
<rect x="161.90" y="672.20" width="46.90" height="22.10" fill="none" stroke="#2a2a2a" stroke-width="1.1"/>
<clipPath id="cl632"><rect x="161.90" y="701.70" width="46.90" height="21.80"/></clipPath>
<g clip-path="url(#cl632)"><rect x="161.90" y="701.70" width="46.90" height="21.80" fill="#dadada"/>
<rect x="163.50" y="712.80" width="19.00" height="4.20" rx="2.10" fill="#0a0a0a" opacity="1" filter="url(#bl6)"/>
<rect x="188.30" y="712.70" width="19.00" height="4.40" rx="2.20" fill="#0a0a0a" opacity="1" filter="url(#bl6)"/>
<rect x="162.00" y="706.00" width="46.00" height="6.00" rx="3.00" fill="#c4c4c4" opacity="0.6" filter="url(#bl10)"/>
</g>
<rect x="161.90" y="701.70" width="46.90" height="21.80" fill="none" stroke="#2a2a2a" stroke-width="1.1"/>
<text x="211.60" y="627.70" font-size="8.6" textLength="22.4" lengthAdjust="spacingAndGlyphs">CyPD</text>
<text x="211.60" y="655.60" font-size="8.6" textLength="22" lengthAdjust="spacingAndGlyphs">ANT1</text>
<text x="211.60" y="686.50" font-size="8.6" textLength="14.4" lengthAdjust="spacingAndGlyphs">p53</text>
<text x="211.60" y="714.80" font-size="8.6" textLength="28.4" lengthAdjust="spacingAndGlyphs">Tubulin</text>
<text x="165.60" y="640.90" font-size="6.1" textLength="12.3" lengthAdjust="spacingAndGlyphs">0.43</text>
<text x="190.10" y="640.90" font-size="6.1" textLength="46.7" lengthAdjust="spacingAndGlyphs" fill="#e5472f">0.40 (vs. Tubulin)</text>
<text x="165.60" y="669.40" font-size="6.1" textLength="12.3" lengthAdjust="spacingAndGlyphs">0.37</text>
<text x="190.10" y="669.40" font-size="6.1" textLength="46.7" lengthAdjust="spacingAndGlyphs" fill="#e5472f">0.35 (vs. Tubulin)</text>
<text x="165.60" y="700.70" font-size="6.1" textLength="12.3" lengthAdjust="spacingAndGlyphs">0.26</text>
<text x="190.10" y="700.70" font-size="6.1" textLength="46.7" lengthAdjust="spacingAndGlyphs" fill="#e5472f">0.28 (vs. Tubulin)</text>
<text x="155.50" y="733.20" font-size="8.6" textLength="68.9" lengthAdjust="spacingAndGlyphs" fill="#983a34">H<tspan font-size="5.33" dy="1.6">2</tspan><tspan dy="-1.6">O</tspan><tspan font-size="5.33" dy="1.6">2</tspan><tspan dy="-1.6"> (400 µM), 4h</tspan></text>
<defs><radialGradient id="rg2"><stop offset="0" stop-color="#ff7a3a"/><stop offset="0.6" stop-color="#e04020" stop-opacity="0.8"/><stop offset="1" stop-color="#c02010" stop-opacity="0"/></radialGradient><radialGradient id="rg"><stop offset="0" stop-color="#fff0c8"/><stop offset="0.35" stop-color="#ff6a5a"/><stop offset="0.7" stop-color="#e0306a" stop-opacity="0.6"/><stop offset="1" stop-color="#c02060" stop-opacity="0"/></radialGradient></defs>
<clipPath id="mc00"><rect x="13.0" y="189.0" width="99.4" height="98.7"/></clipPath>
<g clip-path="url(#mc00)"><rect x="13.0" y="189.0" width="99.4" height="98.7" fill="#0a0a0c"/>
<g filter="url(#bl7)"><ellipse cx="45.4" cy="204.2" rx="1.9" ry="1.0" transform="rotate(96 45.4 204.2)" fill="#201e48" opacity="0.73"/><ellipse cx="103.0" cy="210.5" rx="1.5" ry="0.9" transform="rotate(43 103.0 210.5)" fill="#2e2c66" opacity="0.52"/><ellipse cx="69.1" cy="282.1" rx="1.8" ry="1.2" transform="rotate(11 69.1 282.1)" fill="#2e2c66" opacity="0.52"/><ellipse cx="35.3" cy="243.9" rx="1.5" ry="0.9" transform="rotate(97 35.3 243.9)" fill="#201e48" opacity="0.72"/><ellipse cx="80.6" cy="199.6" rx="1.8" ry="1.0" transform="rotate(18 80.6 199.6)" fill="#24224f" opacity="0.73"/><ellipse cx="74.4" cy="238.0" rx="1.8" ry="1.3" transform="rotate(84 74.4 238.0)" fill="#2e2c66" opacity="0.64"/><ellipse cx="37.9" cy="207.1" rx="1.9" ry="1.0" transform="rotate(54 37.9 207.1)" fill="#2e2c66" opacity="0.85"/><ellipse cx="85.3" cy="217.6" rx="2.1" ry="1.1" transform="rotate(75 85.3 217.6)" fill="#201e48" opacity="0.56"/><ellipse cx="61.6" cy="193.3" rx="1.9" ry="1.4" transform="rotate(103 61.6 193.3)" fill="#201e48" opacity="0.64"/><ellipse cx="48.0" cy="238.0" rx="2.0" ry="1.0" transform="rotate(17 48.0 238.0)" fill="#201e48" opacity="0.69"/><ellipse cx="78.9" cy="195.4" rx="1.9" ry="1.3" transform="rotate(179 78.9 195.4)" fill="#2e2c66" opacity="0.61"/><ellipse cx="51.5" cy="254.8" rx="1.4" ry="0.9" transform="rotate(30 51.5 254.8)" fill="#24224f" opacity="0.70"/><ellipse cx="35.0" cy="217.6" rx="1.9" ry="1.2" transform="rotate(165 35.0 217.6)" fill="#2e2c66" opacity="0.53"/><ellipse cx="57.7" cy="243.2" rx="2.0" ry="1.5" transform="rotate(156 57.7 243.2)" fill="#201e48" opacity="0.78"/><ellipse cx="110.6" cy="256.2" rx="1.7" ry="0.9" transform="rotate(15 110.6 256.2)" fill="#2a285c" opacity="0.59"/><ellipse cx="36.5" cy="236.9" rx="1.8" ry="1.0" transform="rotate(1 36.5 236.9)" fill="#2e2c66" opacity="0.71"/><ellipse cx="73.5" cy="220.6" rx="1.5" ry="1.1" transform="rotate(171 73.5 220.6)" fill="#24224f" opacity="0.68"/><ellipse cx="99.2" cy="282.5" rx="1.9" ry="1.3" transform="rotate(72 99.2 282.5)" fill="#2e2c66" opacity="0.54"/><ellipse cx="75.9" cy="195.6" rx="1.4" ry="0.8" transform="rotate(29 75.9 195.6)" fill="#201e48" opacity="0.74"/><ellipse cx="23.6" cy="244.9" rx="1.8" ry="1.4" transform="rotate(110 23.6 244.9)" fill="#24224f" opacity="0.85"/><ellipse cx="73.9" cy="204.0" rx="1.6" ry="1.0" transform="rotate(66 73.9 204.0)" fill="#24224f" opacity="0.55"/><ellipse cx="61.5" cy="285.0" rx="1.7" ry="1.0" transform="rotate(26 61.5 285.0)" fill="#201e48" opacity="0.80"/><ellipse cx="60.6" cy="257.1" rx="1.8" ry="1.0" transform="rotate(171 60.6 257.1)" fill="#201e48" opacity="0.56"/><ellipse cx="66.9" cy="192.1" rx="1.8" ry="1.4" transform="rotate(155 66.9 192.1)" fill="#201e48" opacity="0.71"/><ellipse cx="102.9" cy="224.3" rx="1.6" ry="1.0" transform="rotate(90 102.9 224.3)" fill="#2a285c" opacity="0.75"/><ellipse cx="91.1" cy="263.6" rx="1.5" ry="0.9" transform="rotate(72 91.1 263.6)" fill="#2a285c" opacity="0.58"/><ellipse cx="62.0" cy="260.9" rx="2.1" ry="1.5" transform="rotate(85 62.0 260.9)" fill="#2a285c" opacity="0.78"/><ellipse cx="107.6" cy="233.2" rx="2.1" ry="1.6" transform="rotate(172 107.6 233.2)" fill="#201e48" opacity="0.53"/><ellipse cx="23.6" cy="235.4" rx="1.6" ry="1.1" transform="rotate(177 23.6 235.4)" fill="#24224f" opacity="0.69"/><ellipse cx="77.8" cy="267.6" rx="1.5" ry="1.0" transform="rotate(164 77.8 267.6)" fill="#2a285c" opacity="0.69"/><ellipse cx="31.1" cy="266.6" rx="1.6" ry="1.2" transform="rotate(175 31.1 266.6)" fill="#2e2c66" opacity="0.69"/><ellipse cx="86.6" cy="197.8" rx="1.5" ry="1.2" transform="rotate(5 86.6 197.8)" fill="#2e2c66" opacity="0.82"/><ellipse cx="27.9" cy="270.3" rx="2.1" ry="1.5" transform="rotate(63 27.9 270.3)" fill="#2a285c" opacity="0.51"/><ellipse cx="92.2" cy="260.5" rx="1.5" ry="1.1" transform="rotate(25 92.2 260.5)" fill="#2a285c" opacity="0.83"/><ellipse cx="34.3" cy="214.1" rx="1.6" ry="0.9" transform="rotate(106 34.3 214.1)" fill="#201e48" opacity="0.72"/><ellipse cx="95.6" cy="195.5" rx="1.9" ry="1.5" transform="rotate(119 95.6 195.5)" fill="#2e2c66" opacity="0.83"/><ellipse cx="99.9" cy="202.3" rx="1.5" ry="1.0" transform="rotate(157 99.9 202.3)" fill="#2a285c" opacity="0.74"/><ellipse cx="89.9" cy="204.1" rx="1.5" ry="1.0" transform="rotate(22 89.9 204.1)" fill="#24224f" opacity="0.63"/><ellipse cx="64.5" cy="243.8" rx="1.9" ry="1.0" transform="rotate(101 64.5 243.8)" fill="#2a285c" opacity="0.58"/><ellipse cx="17.7" cy="199.0" rx="1.7" ry="0.9" transform="rotate(161 17.7 199.0)" fill="#24224f" opacity="0.68"/><ellipse cx="73.8" cy="238.9" rx="1.8" ry="1.2" transform="rotate(81 73.8 238.9)" fill="#2e2c66" opacity="0.70"/><ellipse cx="37.9" cy="240.6" rx="2.0" ry="1.6" transform="rotate(166 37.9 240.6)" fill="#2a285c" opacity="0.84"/><ellipse cx="27.0" cy="201.4" rx="1.7" ry="0.9" transform="rotate(43 27.0 201.4)" fill="#24224f" opacity="0.59"/><ellipse cx="43.3" cy="201.5" rx="1.9" ry="1.5" transform="rotate(116 43.3 201.5)" fill="#201e48" opacity="0.56"/><ellipse cx="100.4" cy="284.0" rx="1.6" ry="1.2" transform="rotate(72 100.4 284.0)" fill="#2e2c66" opacity="0.57"/><ellipse cx="79.2" cy="211.4" rx="1.9" ry="1.5" transform="rotate(73 79.2 211.4)" fill="#2e2c66" opacity="0.58"/><ellipse cx="44.8" cy="260.1" rx="1.4" ry="0.9" transform="rotate(79 44.8 260.1)" fill="#24224f" opacity="0.65"/><ellipse cx="64.4" cy="218.4" rx="2.1" ry="1.1" transform="rotate(165 64.4 218.4)" fill="#2a285c" opacity="0.89"/><ellipse cx="23.8" cy="215.4" rx="1.4" ry="1.0" transform="rotate(49 23.8 215.4)" fill="#2a285c" opacity="0.83"/><ellipse cx="97.1" cy="255.5" rx="2.1" ry="1.3" transform="rotate(97 97.1 255.5)" fill="#2e2c66" opacity="0.78"/><ellipse cx="22.3" cy="195.1" rx="1.9" ry="1.2" transform="rotate(13 22.3 195.1)" fill="#24224f" opacity="0.75"/><ellipse cx="92.4" cy="197.7" rx="2.0" ry="1.0" transform="rotate(155 92.4 197.7)" fill="#2e2c66" opacity="0.50"/><ellipse cx="111.3" cy="230.3" rx="2.0" ry="1.4" transform="rotate(8 111.3 230.3)" fill="#2a285c" opacity="0.88"/><ellipse cx="108.9" cy="215.1" rx="1.5" ry="1.2" transform="rotate(113 108.9 215.1)" fill="#2a285c" opacity="0.62"/><ellipse cx="62.7" cy="206.9" rx="1.6" ry="0.8" transform="rotate(45 62.7 206.9)" fill="#24224f" opacity="0.51"/><ellipse cx="63.3" cy="285.1" rx="1.8" ry="1.0" transform="rotate(80 63.3 285.1)" fill="#2e2c66" opacity="0.76"/><ellipse cx="67.2" cy="276.3" rx="2.1" ry="1.2" transform="rotate(39 67.2 276.3)" fill="#2a285c" opacity="0.64"/><ellipse cx="95.4" cy="258.5" rx="1.8" ry="1.1" transform="rotate(63 95.4 258.5)" fill="#24224f" opacity="0.83"/><ellipse cx="14.9" cy="250.6" rx="2.0" ry="1.3" transform="rotate(10 14.9 250.6)" fill="#2e2c66" opacity="0.85"/><ellipse cx="79.5" cy="217.0" rx="1.6" ry="0.9" transform="rotate(83 79.5 217.0)" fill="#2a285c" opacity="0.61"/><ellipse cx="13.9" cy="225.1" rx="1.6" ry="1.3" transform="rotate(58 13.9 225.1)" fill="#24224f" opacity="0.89"/><ellipse cx="44.0" cy="224.3" rx="1.4" ry="0.9" transform="rotate(85 44.0 224.3)" fill="#2a285c" opacity="0.60"/><ellipse cx="89.9" cy="198.4" rx="2.0" ry="1.1" transform="rotate(106 89.9 198.4)" fill="#2e2c66" opacity="0.51"/><ellipse cx="43.4" cy="212.2" rx="1.8" ry="1.2" transform="rotate(135 43.4 212.2)" fill="#2e2c66" opacity="0.81"/><ellipse cx="84.4" cy="237.8" rx="1.6" ry="1.1" transform="rotate(26 84.4 237.8)" fill="#2e2c66" opacity="0.79"/><ellipse cx="93.4" cy="203.1" rx="1.8" ry="1.2" transform="rotate(150 93.4 203.1)" fill="#24224f" opacity="0.83"/><ellipse cx="71.0" cy="276.7" rx="1.9" ry="1.3" transform="rotate(41 71.0 276.7)" fill="#24224f" opacity="0.52"/><ellipse cx="76.2" cy="283.2" rx="1.7" ry="1.1" transform="rotate(9 76.2 283.2)" fill="#24224f" opacity="0.75"/><ellipse cx="80.5" cy="237.3" rx="1.4" ry="1.0" transform="rotate(135 80.5 237.3)" fill="#24224f" opacity="0.76"/><ellipse cx="20.0" cy="261.5" rx="1.6" ry="0.8" transform="rotate(48 20.0 261.5)" fill="#2a285c" opacity="0.59"/><ellipse cx="77.5" cy="234.5" rx="2.0" ry="1.0" transform="rotate(164 77.5 234.5)" fill="#201e48" opacity="0.81"/><ellipse cx="74.2" cy="252.3" rx="1.5" ry="0.8" transform="rotate(46 74.2 252.3)" fill="#201e48" opacity="0.75"/><ellipse cx="26.6" cy="236.6" rx="1.7" ry="1.4" transform="rotate(18 26.6 236.6)" fill="#2a285c" opacity="0.77"/><ellipse cx="42.1" cy="240.0" rx="1.7" ry="1.1" transform="rotate(21 42.1 240.0)" fill="#2a285c" opacity="0.62"/><ellipse cx="21.9" cy="235.7" rx="1.6" ry="0.8" transform="rotate(91 21.9 235.7)" fill="#2e2c66" opacity="0.90"/><ellipse cx="51.6" cy="279.0" rx="2.1" ry="1.1" transform="rotate(16 51.6 279.0)" fill="#201e48" opacity="0.88"/><ellipse cx="26.5" cy="269.6" rx="1.8" ry="1.3" transform="rotate(127 26.5 269.6)" fill="#2a285c" opacity="0.70"/><ellipse cx="99.7" cy="228.0" rx="1.5" ry="1.2" transform="rotate(123 99.7 228.0)" fill="#2e2c66" opacity="0.62"/><ellipse cx="27.3" cy="223.1" rx="1.6" ry="1.2" transform="rotate(0 27.3 223.1)" fill="#201e48" opacity="0.84"/><ellipse cx="25.3" cy="280.0" rx="1.9" ry="1.5" transform="rotate(52 25.3 280.0)" fill="#201e48" opacity="0.53"/><ellipse cx="51.9" cy="274.5" rx="1.5" ry="1.1" transform="rotate(136 51.9 274.5)" fill="#24224f" opacity="0.61"/><ellipse cx="18.6" cy="254.2" rx="1.8" ry="1.0" transform="rotate(175 18.6 254.2)" fill="#2e2c66" opacity="0.70"/><ellipse cx="32.2" cy="226.0" rx="2.1" ry="1.6" transform="rotate(146 32.2 226.0)" fill="#2e2c66" opacity="0.87"/><ellipse cx="106.1" cy="243.2" rx="1.9" ry="1.0" transform="rotate(132 106.1 243.2)" fill="#2e2c66" opacity="0.75"/><ellipse cx="27.1" cy="274.4" rx="1.7" ry="1.3" transform="rotate(99 27.1 274.4)" fill="#2a285c" opacity="0.69"/><ellipse cx="47.3" cy="218.6" rx="1.9" ry="1.5" transform="rotate(47 47.3 218.6)" fill="#2a285c" opacity="0.62"/><ellipse cx="68.3" cy="228.0" rx="1.5" ry="0.8" transform="rotate(37 68.3 228.0)" fill="#2e2c66" opacity="0.72"/><ellipse cx="58.1" cy="222.0" rx="1.9" ry="1.2" transform="rotate(99 58.1 222.0)" fill="#2a285c" opacity="0.54"/><ellipse cx="47.1" cy="198.4" rx="1.6" ry="0.9" transform="rotate(103 47.1 198.4)" fill="#24224f" opacity="0.80"/><ellipse cx="54.1" cy="229.9" rx="1.8" ry="1.1" transform="rotate(61 54.1 229.9)" fill="#24224f" opacity="0.70"/><ellipse cx="70.0" cy="224.7" rx="1.9" ry="1.2" transform="rotate(142 70.0 224.7)" fill="#2a285c" opacity="0.54"/><ellipse cx="101.7" cy="227.1" rx="1.9" ry="1.2" transform="rotate(56 101.7 227.1)" fill="#24224f" opacity="0.55"/><ellipse cx="55.3" cy="264.1" rx="2.0" ry="1.6" transform="rotate(88 55.3 264.1)" fill="#24224f" opacity="0.66"/><ellipse cx="104.7" cy="270.2" rx="2.0" ry="1.6" transform="rotate(45 104.7 270.2)" fill="#24224f" opacity="0.59"/><ellipse cx="28.5" cy="284.5" rx="1.5" ry="1.1" transform="rotate(126 28.5 284.5)" fill="#2e2c66" opacity="0.53"/><ellipse cx="89.9" cy="189.6" rx="1.5" ry="1.0" transform="rotate(7 89.9 189.6)" fill="#201e48" opacity="0.88"/><ellipse cx="75.1" cy="241.1" rx="1.7" ry="1.2" transform="rotate(18 75.1 241.1)" fill="#201e48" opacity="0.71"/><ellipse cx="70.9" cy="227.4" rx="1.6" ry="1.1" transform="rotate(2 70.9 227.4)" fill="#201e48" opacity="0.90"/><ellipse cx="40.9" cy="220.4" rx="2.0" ry="1.1" transform="rotate(95 40.9 220.4)" fill="#2a285c" opacity="0.51"/><ellipse cx="54.0" cy="253.0" rx="1.4" ry="0.8" transform="rotate(159 54.0 253.0)" fill="#2e2c66" opacity="0.53"/><ellipse cx="35.9" cy="231.0" rx="1.7" ry="1.1" transform="rotate(125 35.9 231.0)" fill="#2e2c66" opacity="0.64"/><ellipse cx="52.5" cy="190.2" rx="1.6" ry="1.2" transform="rotate(12 52.5 190.2)" fill="#2e2c66" opacity="0.89"/><ellipse cx="44.2" cy="269.6" rx="1.6" ry="0.9" transform="rotate(137 44.2 269.6)" fill="#201e48" opacity="0.54"/><ellipse cx="74.9" cy="249.1" rx="2.0" ry="1.3" transform="rotate(164 74.9 249.1)" fill="#24224f" opacity="0.88"/><ellipse cx="27.9" cy="227.9" rx="1.5" ry="1.2" transform="rotate(26 27.9 227.9)" fill="#24224f" opacity="0.78"/><ellipse cx="31.6" cy="233.4" rx="1.9" ry="1.1" transform="rotate(20 31.6 233.4)" fill="#24224f" opacity="0.87"/><ellipse cx="45.9" cy="207.6" rx="2.1" ry="1.5" transform="rotate(6 45.9 207.6)" fill="#2e2c66" opacity="0.84"/><ellipse cx="110.4" cy="232.7" rx="1.5" ry="0.8" transform="rotate(15 110.4 232.7)" fill="#2e2c66" opacity="0.88"/><ellipse cx="25.7" cy="283.7" rx="1.5" ry="0.9" transform="rotate(148 25.7 283.7)" fill="#2e2c66" opacity="0.54"/><ellipse cx="82.9" cy="208.6" rx="1.8" ry="1.1" transform="rotate(58 82.9 208.6)" fill="#2e2c66" opacity="0.51"/><ellipse cx="53.9" cy="268.8" rx="1.9" ry="1.0" transform="rotate(6 53.9 268.8)" fill="#24224f" opacity="0.82"/><ellipse cx="19.6" cy="208.5" rx="1.4" ry="1.0" transform="rotate(65 19.6 208.5)" fill="#201e48" opacity="0.88"/><ellipse cx="74.2" cy="215.1" rx="1.9" ry="1.1" transform="rotate(50 74.2 215.1)" fill="#24224f" opacity="0.79"/><ellipse cx="72.1" cy="268.2" rx="2.1" ry="1.1" transform="rotate(149 72.1 268.2)" fill="#24224f" opacity="0.69"/><ellipse cx="107.6" cy="282.7" rx="1.7" ry="1.0" transform="rotate(77 107.6 282.7)" fill="#2e2c66" opacity="0.55"/><ellipse cx="62.4" cy="190.4" rx="2.1" ry="1.2" transform="rotate(125 62.4 190.4)" fill="#2a285c" opacity="0.74"/><ellipse cx="45.8" cy="220.7" rx="1.7" ry="1.2" transform="rotate(14 45.8 220.7)" fill="#2a285c" opacity="0.66"/><ellipse cx="29.2" cy="229.3" rx="1.9" ry="1.2" transform="rotate(98 29.2 229.3)" fill="#2a285c" opacity="0.89"/><ellipse cx="100.4" cy="286.0" rx="1.6" ry="0.8" transform="rotate(17 100.4 286.0)" fill="#2e2c66" opacity="0.90"/><ellipse cx="109.2" cy="206.4" rx="1.5" ry="1.0" transform="rotate(160 109.2 206.4)" fill="#2a285c" opacity="0.80"/><ellipse cx="96.8" cy="254.4" rx="1.5" ry="1.1" transform="rotate(53 96.8 254.4)" fill="#201e48" opacity="0.65"/><ellipse cx="86.1" cy="209.0" rx="1.6" ry="0.9" transform="rotate(28 86.1 209.0)" fill="#2a285c" opacity="0.63"/><ellipse cx="52.5" cy="286.5" rx="1.8" ry="1.0" transform="rotate(146 52.5 286.5)" fill="#2e2c66" opacity="0.90"/><ellipse cx="23.6" cy="235.9" rx="2.0" ry="1.5" transform="rotate(165 23.6 235.9)" fill="#24224f" opacity="0.85"/><ellipse cx="36.4" cy="194.4" rx="1.8" ry="1.4" transform="rotate(35 36.4 194.4)" fill="#24224f" opacity="0.65"/><ellipse cx="98.7" cy="233.4" rx="1.6" ry="1.2" transform="rotate(170 98.7 233.4)" fill="#24224f" opacity="0.75"/><ellipse cx="83.3" cy="223.7" rx="1.4" ry="0.9" transform="rotate(8 83.3 223.7)" fill="#201e48" opacity="0.52"/><ellipse cx="85.6" cy="278.8" rx="2.0" ry="1.5" transform="rotate(74 85.6 278.8)" fill="#201e48" opacity="0.57"/><ellipse cx="44.2" cy="209.4" rx="2.0" ry="1.3" transform="rotate(11 44.2 209.4)" fill="#24224f" opacity="0.82"/><ellipse cx="78.8" cy="204.6" rx="1.8" ry="1.2" transform="rotate(72 78.8 204.6)" fill="#201e48" opacity="0.66"/><ellipse cx="41.4" cy="219.6" rx="2.1" ry="1.2" transform="rotate(102 41.4 219.6)" fill="#201e48" opacity="0.67"/><ellipse cx="15.3" cy="264.4" rx="2.0" ry="1.4" transform="rotate(70 15.3 264.4)" fill="#2e2c66" opacity="0.58"/><ellipse cx="14.1" cy="277.6" rx="1.7" ry="1.3" transform="rotate(73 14.1 277.6)" fill="#201e48" opacity="0.68"/><ellipse cx="29.5" cy="190.9" rx="1.8" ry="1.2" transform="rotate(164 29.5 190.9)" fill="#24224f" opacity="0.73"/><ellipse cx="104.7" cy="261.5" rx="1.5" ry="0.9" transform="rotate(29 104.7 261.5)" fill="#2a285c" opacity="0.87"/><ellipse cx="24.2" cy="237.4" rx="2.0" ry="1.6" transform="rotate(36 24.2 237.4)" fill="#2a285c" opacity="0.83"/><ellipse cx="17.8" cy="278.7" rx="1.6" ry="1.1" transform="rotate(115 17.8 278.7)" fill="#24224f" opacity="0.86"/><ellipse cx="74.5" cy="270.1" rx="1.5" ry="1.1" transform="rotate(40 74.5 270.1)" fill="#2e2c66" opacity="0.75"/><ellipse cx="32.8" cy="235.7" rx="1.8" ry="0.9" transform="rotate(169 32.8 235.7)" fill="#2a285c" opacity="0.65"/><ellipse cx="25.6" cy="213.6" rx="1.9" ry="1.5" transform="rotate(7 25.6 213.6)" fill="#24224f" opacity="0.77"/><ellipse cx="45.4" cy="227.6" rx="1.7" ry="1.3" transform="rotate(140 45.4 227.6)" fill="#2e2c66" opacity="0.62"/><ellipse cx="38.0" cy="227.5" rx="1.7" ry="1.1" transform="rotate(32 38.0 227.5)" fill="#24224f" opacity="0.75"/><ellipse cx="61.7" cy="212.5" rx="1.9" ry="1.4" transform="rotate(82 61.7 212.5)" fill="#2a285c" opacity="0.82"/><ellipse cx="52.9" cy="196.1" rx="1.7" ry="1.0" transform="rotate(144 52.9 196.1)" fill="#24224f" opacity="0.52"/><ellipse cx="26.3" cy="279.6" rx="1.6" ry="1.2" transform="rotate(14 26.3 279.6)" fill="#2e2c66" opacity="0.76"/><ellipse cx="90.7" cy="192.0" rx="1.4" ry="1.0" transform="rotate(125 90.7 192.0)" fill="#24224f" opacity="0.58"/><ellipse cx="110.1" cy="237.6" rx="2.1" ry="1.6" transform="rotate(30 110.1 237.6)" fill="#2a285c" opacity="0.53"/><ellipse cx="48.0" cy="263.4" rx="1.5" ry="1.2" transform="rotate(49 48.0 263.4)" fill="#2e2c66" opacity="0.56"/><ellipse cx="62.9" cy="279.4" rx="1.5" ry="0.9" transform="rotate(91 62.9 279.4)" fill="#201e48" opacity="0.65"/><ellipse cx="33.1" cy="228.9" rx="1.8" ry="1.1" transform="rotate(59 33.1 228.9)" fill="#2e2c66" opacity="0.57"/><ellipse cx="90.7" cy="200.7" rx="1.8" ry="1.2" transform="rotate(65 90.7 200.7)" fill="#2e2c66" opacity="0.72"/><ellipse cx="70.6" cy="275.7" rx="1.5" ry="1.2" transform="rotate(113 70.6 275.7)" fill="#2e2c66" opacity="0.80"/><ellipse cx="50.1" cy="226.2" rx="1.7" ry="0.9" transform="rotate(60 50.1 226.2)" fill="#24224f" opacity="0.68"/><ellipse cx="30.9" cy="262.1" rx="1.4" ry="1.1" transform="rotate(46 30.9 262.1)" fill="#201e48" opacity="0.79"/><ellipse cx="87.0" cy="211.2" rx="1.6" ry="1.1" transform="rotate(75 87.0 211.2)" fill="#201e48" opacity="0.86"/><ellipse cx="26.5" cy="211.7" rx="1.9" ry="0.9" transform="rotate(0 26.5 211.7)" fill="#201e48" opacity="0.62"/><ellipse cx="65.0" cy="241.7" rx="1.7" ry="1.0" transform="rotate(24 65.0 241.7)" fill="#201e48" opacity="0.75"/><ellipse cx="60.2" cy="202.7" rx="2.1" ry="1.2" transform="rotate(27 60.2 202.7)" fill="#24224f" opacity="0.53"/><ellipse cx="27.7" cy="254.5" rx="1.6" ry="1.2" transform="rotate(174 27.7 254.5)" fill="#24224f" opacity="0.76"/><ellipse cx="68.8" cy="223.7" rx="1.9" ry="1.2" transform="rotate(169 68.8 223.7)" fill="#2e2c66" opacity="0.60"/><ellipse cx="102.4" cy="193.8" rx="1.8" ry="1.1" transform="rotate(43 102.4 193.8)" fill="#24224f" opacity="0.86"/><ellipse cx="23.8" cy="249.4" rx="1.9" ry="1.0" transform="rotate(74 23.8 249.4)" fill="#2e2c66" opacity="0.83"/><ellipse cx="30.7" cy="219.7" rx="1.6" ry="0.8" transform="rotate(160 30.7 219.7)" fill="#2e2c66" opacity="0.79"/><ellipse cx="14.1" cy="272.0" rx="1.9" ry="1.2" transform="rotate(134 14.1 272.0)" fill="#2e2c66" opacity="0.57"/><ellipse cx="111.6" cy="215.0" rx="1.9" ry="1.0" transform="rotate(160 111.6 215.0)" fill="#201e48" opacity="0.78"/><ellipse cx="39.7" cy="243.6" rx="1.7" ry="1.3" transform="rotate(94 39.7 243.6)" fill="#201e48" opacity="0.62"/><ellipse cx="104.9" cy="276.9" rx="1.5" ry="1.0" transform="rotate(31 104.9 276.9)" fill="#2a285c" opacity="0.84"/><ellipse cx="33.5" cy="205.1" rx="2.0" ry="1.1" transform="rotate(70 33.5 205.1)" fill="#2a285c" opacity="0.65"/><ellipse cx="97.3" cy="279.5" rx="2.1" ry="1.6" transform="rotate(97 97.3 279.5)" fill="#2e2c66" opacity="0.84"/><ellipse cx="82.1" cy="273.3" rx="1.7" ry="1.2" transform="rotate(103 82.1 273.3)" fill="#201e48" opacity="0.82"/><ellipse cx="52.0" cy="246.7" rx="1.8" ry="1.0" transform="rotate(6 52.0 246.7)" fill="#24224f" opacity="0.54"/><ellipse cx="104.9" cy="223.2" rx="1.5" ry="0.8" transform="rotate(7 104.9 223.2)" fill="#24224f" opacity="0.78"/><ellipse cx="86.0" cy="195.9" rx="1.8" ry="1.1" transform="rotate(147 86.0 195.9)" fill="#24224f" opacity="0.85"/><ellipse cx="87.9" cy="259.0" rx="1.7" ry="1.0" transform="rotate(37 87.9 259.0)" fill="#24224f" opacity="0.51"/><ellipse cx="96.9" cy="268.8" rx="1.8" ry="1.4" transform="rotate(114 96.9 268.8)" fill="#201e48" opacity="0.69"/><ellipse cx="26.6" cy="266.9" rx="1.9" ry="1.1" transform="rotate(61 26.6 266.9)" fill="#201e48" opacity="0.51"/><ellipse cx="38.8" cy="217.1" rx="1.9" ry="1.2" transform="rotate(58 38.8 217.1)" fill="#2e2c66" opacity="0.84"/><ellipse cx="74.3" cy="192.5" rx="1.7" ry="1.1" transform="rotate(139 74.3 192.5)" fill="#201e48" opacity="0.69"/><ellipse cx="18.2" cy="244.8" rx="1.9" ry="1.4" transform="rotate(103 18.2 244.8)" fill="#201e48" opacity="0.57"/><ellipse cx="13.6" cy="209.2" rx="1.9" ry="1.5" transform="rotate(1 13.6 209.2)" fill="#2e2c66" opacity="0.54"/><ellipse cx="81.9" cy="270.1" rx="2.1" ry="1.4" transform="rotate(172 81.9 270.1)" fill="#201e48" opacity="0.73"/><ellipse cx="29.1" cy="269.1" rx="2.1" ry="1.2" transform="rotate(30 29.1 269.1)" fill="#24224f" opacity="0.70"/><ellipse cx="111.0" cy="244.3" rx="1.5" ry="0.9" transform="rotate(17 111.0 244.3)" fill="#2e2c66" opacity="0.86"/><ellipse cx="86.8" cy="230.7" rx="1.9" ry="1.1" transform="rotate(55 86.8 230.7)" fill="#2e2c66" opacity="0.86"/><ellipse cx="62.8" cy="226.6" rx="2.0" ry="1.2" transform="rotate(83 62.8 226.6)" fill="#24224f" opacity="0.64"/><ellipse cx="45.6" cy="204.7" rx="2.0" ry="1.4" transform="rotate(134 45.6 204.7)" fill="#2a285c" opacity="0.69"/><ellipse cx="81.3" cy="214.6" rx="1.6" ry="0.9" transform="rotate(116 81.3 214.6)" fill="#2a285c" opacity="0.70"/><ellipse cx="39.8" cy="263.2" rx="2.0" ry="1.4" transform="rotate(130 39.8 263.2)" fill="#2a285c" opacity="0.79"/><ellipse cx="72.8" cy="223.6" rx="1.6" ry="1.2" transform="rotate(47 72.8 223.6)" fill="#24224f" opacity="0.57"/><ellipse cx="78.2" cy="208.6" rx="1.5" ry="0.8" transform="rotate(54 78.2 208.6)" fill="#201e48" opacity="0.67"/><ellipse cx="32.8" cy="251.8" rx="1.5" ry="0.8" transform="rotate(70 32.8 251.8)" fill="#24224f" opacity="0.51"/><ellipse cx="97.6" cy="232.1" rx="1.6" ry="1.2" transform="rotate(53 97.6 232.1)" fill="#24224f" opacity="0.56"/><ellipse cx="72.9" cy="229.0" rx="1.9" ry="1.5" transform="rotate(77 72.9 229.0)" fill="#2e2c66" opacity="0.84"/><ellipse cx="79.2" cy="253.2" rx="2.0" ry="1.4" transform="rotate(105 79.2 253.2)" fill="#2a285c" opacity="0.77"/><ellipse cx="76.6" cy="233.8" rx="1.6" ry="1.1" transform="rotate(18 76.6 233.8)" fill="#2e2c66" opacity="0.60"/><ellipse cx="52.9" cy="259.1" rx="1.5" ry="1.1" transform="rotate(87 52.9 259.1)" fill="#24224f" opacity="0.75"/><ellipse cx="53.8" cy="255.5" rx="2.1" ry="1.1" transform="rotate(118 53.8 255.5)" fill="#24224f" opacity="0.66"/><ellipse cx="61.7" cy="284.7" rx="1.4" ry="0.9" transform="rotate(29 61.7 284.7)" fill="#2a285c" opacity="0.71"/><ellipse cx="23.4" cy="245.6" rx="1.8" ry="1.3" transform="rotate(92 23.4 245.6)" fill="#201e48" opacity="0.71"/><ellipse cx="53.9" cy="282.1" rx="1.5" ry="1.1" transform="rotate(71 53.9 282.1)" fill="#24224f" opacity="0.79"/><ellipse cx="73.9" cy="251.8" rx="1.6" ry="1.0" transform="rotate(11 73.9 251.8)" fill="#24224f" opacity="0.67"/><ellipse cx="54.9" cy="257.7" rx="1.6" ry="1.0" transform="rotate(40 54.9 257.7)" fill="#2e2c66" opacity="0.88"/><ellipse cx="65.4" cy="210.9" rx="2.0" ry="1.2" transform="rotate(38 65.4 210.9)" fill="#2a285c" opacity="0.87"/><ellipse cx="20.3" cy="267.5" rx="1.5" ry="1.1" transform="rotate(130 20.3 267.5)" fill="#2a285c" opacity="0.64"/><ellipse cx="76.4" cy="269.5" rx="2.0" ry="1.3" transform="rotate(53 76.4 269.5)" fill="#2a285c" opacity="0.81"/><ellipse cx="59.7" cy="266.1" rx="1.6" ry="1.1" transform="rotate(124 59.7 266.1)" fill="#2e2c66" opacity="0.77"/><ellipse cx="60.9" cy="268.2" rx="2.0" ry="1.2" transform="rotate(118 60.9 268.2)" fill="#201e48" opacity="0.69"/><ellipse cx="55.7" cy="251.8" rx="1.9" ry="1.1" transform="rotate(167 55.7 251.8)" fill="#2e2c66" opacity="0.52"/><ellipse cx="95.0" cy="278.0" rx="1.9" ry="1.1" transform="rotate(150 95.0 278.0)" fill="#24224f" opacity="0.76"/><ellipse cx="34.1" cy="196.5" rx="1.6" ry="1.1" transform="rotate(104 34.1 196.5)" fill="#2a285c" opacity="0.57"/><ellipse cx="58.0" cy="266.2" rx="1.5" ry="1.0" transform="rotate(96 58.0 266.2)" fill="#24224f" opacity="0.77"/><ellipse cx="101.5" cy="266.5" rx="2.0" ry="1.1" transform="rotate(125 101.5 266.5)" fill="#24224f" opacity="0.80"/><ellipse cx="56.7" cy="275.7" rx="1.8" ry="1.0" transform="rotate(42 56.7 275.7)" fill="#2a285c" opacity="0.69"/><ellipse cx="68.3" cy="236.8" rx="2.0" ry="1.4" transform="rotate(44 68.3 236.8)" fill="#2a285c" opacity="0.72"/><ellipse cx="98.4" cy="190.1" rx="2.0" ry="1.3" transform="rotate(101 98.4 190.1)" fill="#201e48" opacity="0.84"/><ellipse cx="50.4" cy="230.4" rx="2.1" ry="1.1" transform="rotate(115 50.4 230.4)" fill="#24224f" opacity="0.51"/><ellipse cx="18.0" cy="261.5" rx="2.1" ry="1.6" transform="rotate(17 18.0 261.5)" fill="#2e2c66" opacity="0.69"/><ellipse cx="101.8" cy="192.8" rx="1.9" ry="1.3" transform="rotate(61 101.8 192.8)" fill="#201e48" opacity="0.64"/><ellipse cx="90.1" cy="243.6" rx="2.0" ry="1.2" transform="rotate(62 90.1 243.6)" fill="#201e48" opacity="0.72"/><ellipse cx="94.8" cy="218.1" rx="2.0" ry="1.2" transform="rotate(91 94.8 218.1)" fill="#201e48" opacity="0.85"/><ellipse cx="47.4" cy="209.4" rx="1.7" ry="0.9" transform="rotate(35 47.4 209.4)" fill="#201e48" opacity="0.55"/><ellipse cx="109.2" cy="198.1" rx="2.1" ry="1.3" transform="rotate(100 109.2 198.1)" fill="#2e2c66" opacity="0.72"/><ellipse cx="18.4" cy="218.8" rx="1.4" ry="0.8" transform="rotate(166 18.4 218.8)" fill="#24224f" opacity="0.82"/><ellipse cx="103.0" cy="249.3" rx="1.8" ry="1.3" transform="rotate(125 103.0 249.3)" fill="#24224f" opacity="0.59"/><ellipse cx="79.1" cy="234.2" rx="1.9" ry="1.0" transform="rotate(33 79.1 234.2)" fill="#24224f" opacity="0.67"/><ellipse cx="23.4" cy="280.4" rx="1.4" ry="1.1" transform="rotate(25 23.4 280.4)" fill="#201e48" opacity="0.72"/><ellipse cx="38.9" cy="219.0" rx="1.7" ry="1.0" transform="rotate(78 38.9 219.0)" fill="#24224f" opacity="0.70"/><ellipse cx="64.9" cy="270.1" rx="1.9" ry="1.2" transform="rotate(125 64.9 270.1)" fill="#2e2c66" opacity="0.68"/><ellipse cx="14.9" cy="227.3" rx="1.8" ry="1.4" transform="rotate(177 14.9 227.3)" fill="#2e2c66" opacity="0.81"/><ellipse cx="67.5" cy="197.6" rx="1.7" ry="1.3" transform="rotate(113 67.5 197.6)" fill="#2e2c66" opacity="0.50"/><ellipse cx="80.8" cy="201.4" rx="2.1" ry="1.1" transform="rotate(157 80.8 201.4)" fill="#2a285c" opacity="0.69"/><ellipse cx="40.6" cy="245.1" rx="1.7" ry="1.2" transform="rotate(166 40.6 245.1)" fill="#201e48" opacity="0.81"/><ellipse cx="83.7" cy="273.1" rx="1.9" ry="1.0" transform="rotate(113 83.7 273.1)" fill="#2e2c66" opacity="0.68"/><ellipse cx="105.2" cy="214.3" rx="2.1" ry="1.5" transform="rotate(2 105.2 214.3)" fill="#24224f" opacity="0.85"/><ellipse cx="81.1" cy="249.9" rx="1.7" ry="1.0" transform="rotate(108 81.1 249.9)" fill="#2e2c66" opacity="0.74"/><ellipse cx="44.6" cy="282.2" rx="1.9" ry="1.2" transform="rotate(30 44.6 282.2)" fill="#24224f" opacity="0.65"/><ellipse cx="77.0" cy="251.0" rx="1.7" ry="1.0" transform="rotate(142 77.0 251.0)" fill="#201e48" opacity="0.81"/><ellipse cx="69.3" cy="218.1" rx="1.4" ry="1.1" transform="rotate(127 69.3 218.1)" fill="#201e48" opacity="0.85"/><ellipse cx="84.9" cy="191.0" rx="1.5" ry="1.1" transform="rotate(105 84.9 191.0)" fill="#2a285c" opacity="0.65"/><ellipse cx="80.9" cy="248.3" rx="2.0" ry="1.5" transform="rotate(51 80.9 248.3)" fill="#24224f" opacity="0.63"/></g>
</g>
<clipPath id="mc01"><rect x="115.2" y="189.0" width="99.6" height="98.7"/></clipPath>
<g clip-path="url(#mc01)"><rect x="115.2" y="189.0" width="99.6" height="98.7" fill="#0a0a0c"/>
<g filter="url(#bl7)"><ellipse cx="142.1" cy="204.9" rx="2.0" ry="1.5" transform="rotate(141 142.1 204.9)" fill="#201e48" opacity="0.83"/><ellipse cx="195.7" cy="274.2" rx="1.8" ry="1.0" transform="rotate(153 195.7 274.2)" fill="#2e2c66" opacity="0.64"/><ellipse cx="124.1" cy="243.6" rx="2.0" ry="1.1" transform="rotate(135 124.1 243.6)" fill="#2a285c" opacity="0.62"/><ellipse cx="121.4" cy="228.1" rx="1.9" ry="1.5" transform="rotate(106 121.4 228.1)" fill="#24224f" opacity="0.82"/><ellipse cx="161.0" cy="198.1" rx="2.0" ry="1.4" transform="rotate(42 161.0 198.1)" fill="#201e48" opacity="0.85"/><ellipse cx="167.2" cy="236.1" rx="1.8" ry="1.0" transform="rotate(35 167.2 236.1)" fill="#2a285c" opacity="0.82"/><ellipse cx="144.3" cy="246.0" rx="1.7" ry="1.2" transform="rotate(154 144.3 246.0)" fill="#2a285c" opacity="0.52"/><ellipse cx="214.0" cy="226.0" rx="1.5" ry="1.0" transform="rotate(142 214.0 226.0)" fill="#2a285c" opacity="0.63"/><ellipse cx="118.7" cy="216.9" rx="1.8" ry="1.0" transform="rotate(37 118.7 216.9)" fill="#2e2c66" opacity="0.73"/><ellipse cx="136.8" cy="279.9" rx="1.6" ry="0.8" transform="rotate(80 136.8 279.9)" fill="#2a285c" opacity="0.60"/><ellipse cx="119.4" cy="209.1" rx="1.5" ry="0.8" transform="rotate(9 119.4 209.1)" fill="#201e48" opacity="0.85"/><ellipse cx="160.9" cy="282.0" rx="2.0" ry="1.1" transform="rotate(108 160.9 282.0)" fill="#2e2c66" opacity="0.87"/><ellipse cx="185.3" cy="198.3" rx="1.6" ry="0.9" transform="rotate(16 185.3 198.3)" fill="#2e2c66" opacity="0.57"/><ellipse cx="199.5" cy="225.7" rx="1.6" ry="1.1" transform="rotate(31 199.5 225.7)" fill="#201e48" opacity="0.88"/><ellipse cx="121.5" cy="243.5" rx="1.4" ry="1.1" transform="rotate(46 121.5 243.5)" fill="#2e2c66" opacity="0.52"/><ellipse cx="130.0" cy="263.3" rx="2.1" ry="1.4" transform="rotate(54 130.0 263.3)" fill="#2e2c66" opacity="0.80"/><ellipse cx="126.1" cy="221.1" rx="1.6" ry="0.8" transform="rotate(87 126.1 221.1)" fill="#2a285c" opacity="0.68"/><ellipse cx="195.3" cy="278.8" rx="2.0" ry="1.3" transform="rotate(164 195.3 278.8)" fill="#24224f" opacity="0.56"/><ellipse cx="197.8" cy="197.1" rx="1.8" ry="1.1" transform="rotate(135 197.8 197.1)" fill="#2e2c66" opacity="0.88"/><ellipse cx="207.0" cy="227.1" rx="1.4" ry="0.7" transform="rotate(175 207.0 227.1)" fill="#201e48" opacity="0.83"/><ellipse cx="162.8" cy="250.9" rx="1.5" ry="0.8" transform="rotate(10 162.8 250.9)" fill="#2e2c66" opacity="0.72"/><ellipse cx="130.0" cy="274.6" rx="1.6" ry="1.0" transform="rotate(28 130.0 274.6)" fill="#201e48" opacity="0.73"/><ellipse cx="144.9" cy="268.1" rx="1.6" ry="0.8" transform="rotate(82 144.9 268.1)" fill="#2e2c66" opacity="0.55"/><ellipse cx="212.2" cy="195.1" rx="2.0" ry="1.4" transform="rotate(38 212.2 195.1)" fill="#2e2c66" opacity="0.83"/><ellipse cx="127.5" cy="263.2" rx="2.1" ry="1.3" transform="rotate(47 127.5 263.2)" fill="#2a285c" opacity="0.87"/><ellipse cx="125.3" cy="217.8" rx="2.0" ry="1.0" transform="rotate(131 125.3 217.8)" fill="#201e48" opacity="0.56"/><ellipse cx="178.8" cy="232.7" rx="1.8" ry="1.1" transform="rotate(80 178.8 232.7)" fill="#201e48" opacity="0.57"/><ellipse cx="158.6" cy="278.6" rx="1.6" ry="1.0" transform="rotate(25 158.6 278.6)" fill="#2a285c" opacity="0.71"/><ellipse cx="138.4" cy="206.7" rx="1.8" ry="1.4" transform="rotate(160 138.4 206.7)" fill="#2e2c66" opacity="0.80"/><ellipse cx="133.0" cy="202.9" rx="1.9" ry="1.3" transform="rotate(35 133.0 202.9)" fill="#201e48" opacity="0.58"/><ellipse cx="122.2" cy="261.1" rx="1.7" ry="1.2" transform="rotate(10 122.2 261.1)" fill="#201e48" opacity="0.63"/><ellipse cx="198.7" cy="274.0" rx="1.7" ry="0.9" transform="rotate(164 198.7 274.0)" fill="#2e2c66" opacity="0.55"/><ellipse cx="181.3" cy="213.8" rx="1.8" ry="1.4" transform="rotate(7 181.3 213.8)" fill="#201e48" opacity="0.73"/><ellipse cx="200.3" cy="224.3" rx="2.1" ry="1.6" transform="rotate(13 200.3 224.3)" fill="#201e48" opacity="0.79"/><ellipse cx="196.2" cy="274.1" rx="1.6" ry="1.2" transform="rotate(69 196.2 274.1)" fill="#24224f" opacity="0.62"/><ellipse cx="126.3" cy="260.9" rx="1.7" ry="0.9" transform="rotate(145 126.3 260.9)" fill="#2a285c" opacity="0.51"/><ellipse cx="211.1" cy="211.4" rx="1.5" ry="0.8" transform="rotate(45 211.1 211.4)" fill="#24224f" opacity="0.51"/><ellipse cx="207.0" cy="261.7" rx="1.6" ry="1.2" transform="rotate(115 207.0 261.7)" fill="#2e2c66" opacity="0.71"/><ellipse cx="185.0" cy="199.5" rx="2.0" ry="1.4" transform="rotate(8 185.0 199.5)" fill="#24224f" opacity="0.69"/><ellipse cx="173.5" cy="263.9" rx="1.5" ry="0.8" transform="rotate(159 173.5 263.9)" fill="#2a285c" opacity="0.84"/><ellipse cx="130.2" cy="245.5" rx="1.9" ry="1.1" transform="rotate(149 130.2 245.5)" fill="#2e2c66" opacity="0.78"/><ellipse cx="174.6" cy="248.4" rx="1.4" ry="1.1" transform="rotate(9 174.6 248.4)" fill="#201e48" opacity="0.64"/><ellipse cx="139.4" cy="222.2" rx="1.7" ry="1.4" transform="rotate(145 139.4 222.2)" fill="#201e48" opacity="0.83"/><ellipse cx="199.3" cy="194.7" rx="1.8" ry="1.4" transform="rotate(168 199.3 194.7)" fill="#2a285c" opacity="0.85"/><ellipse cx="181.1" cy="190.6" rx="1.5" ry="0.8" transform="rotate(58 181.1 190.6)" fill="#2a285c" opacity="0.70"/><ellipse cx="117.8" cy="203.1" rx="2.1" ry="1.5" transform="rotate(169 117.8 203.1)" fill="#24224f" opacity="0.82"/><ellipse cx="202.9" cy="275.9" rx="1.4" ry="1.0" transform="rotate(48 202.9 275.9)" fill="#201e48" opacity="0.75"/><ellipse cx="195.2" cy="193.0" rx="1.5" ry="0.8" transform="rotate(2 195.2 193.0)" fill="#2a285c" opacity="0.88"/><ellipse cx="144.0" cy="219.3" rx="1.9" ry="1.0" transform="rotate(107 144.0 219.3)" fill="#201e48" opacity="0.53"/><ellipse cx="173.9" cy="280.5" rx="1.7" ry="1.1" transform="rotate(159 173.9 280.5)" fill="#2e2c66" opacity="0.73"/><ellipse cx="142.7" cy="261.4" rx="1.9" ry="1.1" transform="rotate(82 142.7 261.4)" fill="#2a285c" opacity="0.76"/><ellipse cx="135.5" cy="258.9" rx="1.7" ry="1.1" transform="rotate(110 135.5 258.9)" fill="#2e2c66" opacity="0.83"/><ellipse cx="118.8" cy="222.1" rx="1.5" ry="1.0" transform="rotate(175 118.8 222.1)" fill="#2e2c66" opacity="0.50"/><ellipse cx="150.5" cy="273.7" rx="1.6" ry="1.0" transform="rotate(88 150.5 273.7)" fill="#201e48" opacity="0.85"/><ellipse cx="137.0" cy="195.1" rx="1.4" ry="0.9" transform="rotate(109 137.0 195.1)" fill="#201e48" opacity="0.68"/><ellipse cx="121.8" cy="227.4" rx="1.7" ry="1.2" transform="rotate(20 121.8 227.4)" fill="#2a285c" opacity="0.90"/><ellipse cx="182.5" cy="280.7" rx="1.7" ry="1.2" transform="rotate(25 182.5 280.7)" fill="#2a285c" opacity="0.75"/><ellipse cx="199.5" cy="269.7" rx="1.8" ry="1.3" transform="rotate(134 199.5 269.7)" fill="#2e2c66" opacity="0.61"/><ellipse cx="177.9" cy="251.3" rx="1.9" ry="1.2" transform="rotate(19 177.9 251.3)" fill="#2e2c66" opacity="0.81"/><ellipse cx="173.5" cy="238.1" rx="2.1" ry="1.4" transform="rotate(75 173.5 238.1)" fill="#201e48" opacity="0.85"/><ellipse cx="175.6" cy="226.6" rx="1.7" ry="1.1" transform="rotate(130 175.6 226.6)" fill="#201e48" opacity="0.64"/><ellipse cx="167.6" cy="247.7" rx="1.9" ry="0.9" transform="rotate(134 167.6 247.7)" fill="#2e2c66" opacity="0.65"/><ellipse cx="145.3" cy="242.0" rx="2.0" ry="1.2" transform="rotate(68 145.3 242.0)" fill="#2a285c" opacity="0.54"/><ellipse cx="206.4" cy="221.1" rx="2.0" ry="1.5" transform="rotate(173 206.4 221.1)" fill="#2a285c" opacity="0.89"/><ellipse cx="203.6" cy="282.9" rx="1.4" ry="0.8" transform="rotate(161 203.6 282.9)" fill="#201e48" opacity="0.87"/><ellipse cx="192.0" cy="242.1" rx="2.1" ry="1.4" transform="rotate(93 192.0 242.1)" fill="#2e2c66" opacity="0.66"/><ellipse cx="151.0" cy="247.6" rx="1.6" ry="1.3" transform="rotate(122 151.0 247.6)" fill="#2a285c" opacity="0.54"/><ellipse cx="152.6" cy="228.7" rx="1.8" ry="1.2" transform="rotate(158 152.6 228.7)" fill="#2e2c66" opacity="0.69"/><ellipse cx="159.1" cy="250.5" rx="2.1" ry="1.3" transform="rotate(95 159.1 250.5)" fill="#24224f" opacity="0.57"/><ellipse cx="147.1" cy="285.1" rx="2.0" ry="1.3" transform="rotate(20 147.1 285.1)" fill="#201e48" opacity="0.78"/><ellipse cx="196.6" cy="286.2" rx="2.0" ry="1.3" transform="rotate(28 196.6 286.2)" fill="#201e48" opacity="0.83"/><ellipse cx="136.2" cy="276.8" rx="1.7" ry="0.9" transform="rotate(102 136.2 276.8)" fill="#24224f" opacity="0.64"/><ellipse cx="213.7" cy="251.7" rx="1.4" ry="0.9" transform="rotate(142 213.7 251.7)" fill="#201e48" opacity="0.78"/><ellipse cx="170.2" cy="279.1" rx="1.7" ry="0.9" transform="rotate(3 170.2 279.1)" fill="#24224f" opacity="0.58"/><ellipse cx="164.8" cy="243.6" rx="1.6" ry="1.1" transform="rotate(96 164.8 243.6)" fill="#2a285c" opacity="0.73"/><ellipse cx="156.2" cy="201.4" rx="1.5" ry="1.1" transform="rotate(19 156.2 201.4)" fill="#24224f" opacity="0.53"/><ellipse cx="209.2" cy="237.4" rx="1.7" ry="1.1" transform="rotate(144 209.2 237.4)" fill="#24224f" opacity="0.77"/><ellipse cx="172.8" cy="203.6" rx="1.6" ry="0.9" transform="rotate(6 172.8 203.6)" fill="#24224f" opacity="0.84"/><ellipse cx="209.1" cy="195.7" rx="1.5" ry="1.1" transform="rotate(4 209.1 195.7)" fill="#2a285c" opacity="0.86"/><ellipse cx="173.2" cy="283.3" rx="1.7" ry="1.2" transform="rotate(45 173.2 283.3)" fill="#24224f" opacity="0.56"/><ellipse cx="173.6" cy="206.5" rx="1.4" ry="1.1" transform="rotate(82 173.6 206.5)" fill="#2e2c66" opacity="0.74"/><ellipse cx="210.4" cy="237.9" rx="2.1" ry="1.2" transform="rotate(70 210.4 237.9)" fill="#2a285c" opacity="0.67"/><ellipse cx="155.0" cy="259.0" rx="1.4" ry="1.1" transform="rotate(16 155.0 259.0)" fill="#2a285c" opacity="0.64"/><ellipse cx="134.1" cy="284.4" rx="1.6" ry="1.1" transform="rotate(21 134.1 284.4)" fill="#2e2c66" opacity="0.63"/><ellipse cx="179.9" cy="283.4" rx="1.7" ry="1.3" transform="rotate(100 179.9 283.4)" fill="#2e2c66" opacity="0.58"/><ellipse cx="143.7" cy="212.7" rx="1.4" ry="1.0" transform="rotate(61 143.7 212.7)" fill="#2a285c" opacity="0.60"/><ellipse cx="128.5" cy="208.7" rx="1.8" ry="1.3" transform="rotate(100 128.5 208.7)" fill="#2e2c66" opacity="0.83"/><ellipse cx="195.1" cy="205.1" rx="1.6" ry="1.2" transform="rotate(68 195.1 205.1)" fill="#2a285c" opacity="0.62"/><ellipse cx="162.6" cy="209.5" rx="2.0" ry="1.4" transform="rotate(170 162.6 209.5)" fill="#201e48" opacity="0.74"/><ellipse cx="159.1" cy="286.2" rx="1.8" ry="1.1" transform="rotate(92 159.1 286.2)" fill="#2a285c" opacity="0.85"/><ellipse cx="127.8" cy="239.6" rx="1.8" ry="1.0" transform="rotate(139 127.8 239.6)" fill="#2e2c66" opacity="0.51"/><ellipse cx="186.5" cy="203.7" rx="1.4" ry="1.0" transform="rotate(125 186.5 203.7)" fill="#2a285c" opacity="0.63"/><ellipse cx="181.0" cy="200.1" rx="1.8" ry="1.1" transform="rotate(90 181.0 200.1)" fill="#201e48" opacity="0.58"/><ellipse cx="186.6" cy="198.1" rx="1.6" ry="1.2" transform="rotate(72 186.6 198.1)" fill="#201e48" opacity="0.66"/><ellipse cx="205.3" cy="265.2" rx="2.0" ry="1.5" transform="rotate(24 205.3 265.2)" fill="#201e48" opacity="0.57"/><ellipse cx="151.8" cy="267.6" rx="1.9" ry="1.4" transform="rotate(5 151.8 267.6)" fill="#2e2c66" opacity="0.60"/><ellipse cx="199.2" cy="223.9" rx="1.8" ry="1.0" transform="rotate(21 199.2 223.9)" fill="#2a285c" opacity="0.79"/><ellipse cx="119.7" cy="193.4" rx="1.5" ry="0.8" transform="rotate(55 119.7 193.4)" fill="#2e2c66" opacity="0.80"/><ellipse cx="170.2" cy="251.0" rx="2.1" ry="1.4" transform="rotate(41 170.2 251.0)" fill="#2e2c66" opacity="0.79"/><ellipse cx="140.8" cy="232.0" rx="1.9" ry="1.1" transform="rotate(0 140.8 232.0)" fill="#201e48" opacity="0.86"/><ellipse cx="202.0" cy="246.7" rx="1.9" ry="1.5" transform="rotate(123 202.0 246.7)" fill="#24224f" opacity="0.82"/><ellipse cx="136.4" cy="278.8" rx="1.9" ry="1.0" transform="rotate(125 136.4 278.8)" fill="#2e2c66" opacity="0.90"/><ellipse cx="176.4" cy="211.1" rx="1.8" ry="1.1" transform="rotate(171 176.4 211.1)" fill="#2e2c66" opacity="0.87"/><ellipse cx="183.9" cy="261.7" rx="2.0" ry="1.4" transform="rotate(82 183.9 261.7)" fill="#24224f" opacity="0.77"/><ellipse cx="136.0" cy="255.3" rx="2.0" ry="1.5" transform="rotate(88 136.0 255.3)" fill="#2a285c" opacity="0.52"/><ellipse cx="185.0" cy="268.2" rx="1.6" ry="1.1" transform="rotate(174 185.0 268.2)" fill="#2a285c" opacity="0.72"/><ellipse cx="140.3" cy="195.3" rx="1.7" ry="1.0" transform="rotate(36 140.3 195.3)" fill="#201e48" opacity="0.55"/><ellipse cx="183.4" cy="237.0" rx="1.7" ry="1.2" transform="rotate(1 183.4 237.0)" fill="#2e2c66" opacity="0.55"/><ellipse cx="178.9" cy="257.7" rx="1.5" ry="1.1" transform="rotate(106 178.9 257.7)" fill="#2a285c" opacity="0.63"/><ellipse cx="196.1" cy="243.1" rx="1.9" ry="1.1" transform="rotate(120 196.1 243.1)" fill="#2e2c66" opacity="0.84"/><ellipse cx="155.7" cy="209.7" rx="1.9" ry="0.9" transform="rotate(88 155.7 209.7)" fill="#24224f" opacity="0.52"/><ellipse cx="143.4" cy="208.8" rx="1.9" ry="1.2" transform="rotate(20 143.4 208.8)" fill="#201e48" opacity="0.68"/><ellipse cx="171.8" cy="217.8" rx="1.8" ry="0.9" transform="rotate(84 171.8 217.8)" fill="#2e2c66" opacity="0.53"/><ellipse cx="186.4" cy="285.3" rx="1.8" ry="1.0" transform="rotate(88 186.4 285.3)" fill="#2e2c66" opacity="0.70"/><ellipse cx="193.0" cy="220.9" rx="1.7" ry="0.9" transform="rotate(51 193.0 220.9)" fill="#201e48" opacity="0.76"/><ellipse cx="123.4" cy="262.5" rx="1.4" ry="0.9" transform="rotate(26 123.4 262.5)" fill="#201e48" opacity="0.57"/><ellipse cx="178.6" cy="272.1" rx="2.0" ry="1.1" transform="rotate(141 178.6 272.1)" fill="#201e48" opacity="0.80"/><ellipse cx="147.9" cy="207.5" rx="2.0" ry="1.2" transform="rotate(66 147.9 207.5)" fill="#201e48" opacity="0.84"/><ellipse cx="140.7" cy="195.1" rx="1.5" ry="1.1" transform="rotate(166 140.7 195.1)" fill="#2e2c66" opacity="0.86"/><ellipse cx="208.9" cy="237.8" rx="1.7" ry="1.0" transform="rotate(54 208.9 237.8)" fill="#24224f" opacity="0.56"/><ellipse cx="138.1" cy="203.0" rx="1.8" ry="1.1" transform="rotate(176 138.1 203.0)" fill="#2e2c66" opacity="0.69"/><ellipse cx="137.2" cy="225.9" rx="1.4" ry="1.0" transform="rotate(150 137.2 225.9)" fill="#2e2c66" opacity="0.56"/><ellipse cx="122.8" cy="194.9" rx="1.9" ry="1.5" transform="rotate(11 122.8 194.9)" fill="#24224f" opacity="0.77"/><ellipse cx="197.2" cy="277.8" rx="1.5" ry="0.9" transform="rotate(80 197.2 277.8)" fill="#201e48" opacity="0.73"/><ellipse cx="161.9" cy="242.5" rx="1.8" ry="1.1" transform="rotate(96 161.9 242.5)" fill="#2a285c" opacity="0.89"/><ellipse cx="210.5" cy="250.1" rx="2.0" ry="1.0" transform="rotate(122 210.5 250.1)" fill="#201e48" opacity="0.73"/><ellipse cx="157.2" cy="225.5" rx="1.9" ry="1.0" transform="rotate(156 157.2 225.5)" fill="#24224f" opacity="0.84"/><ellipse cx="137.6" cy="261.8" rx="1.9" ry="1.0" transform="rotate(104 137.6 261.8)" fill="#2e2c66" opacity="0.64"/><ellipse cx="139.4" cy="232.6" rx="1.6" ry="0.9" transform="rotate(174 139.4 232.6)" fill="#2a285c" opacity="0.72"/><ellipse cx="126.8" cy="273.7" rx="1.6" ry="0.8" transform="rotate(96 126.8 273.7)" fill="#201e48" opacity="0.78"/><ellipse cx="138.1" cy="234.3" rx="1.8" ry="1.3" transform="rotate(132 138.1 234.3)" fill="#24224f" opacity="0.84"/><ellipse cx="182.7" cy="267.7" rx="1.5" ry="1.0" transform="rotate(91 182.7 267.7)" fill="#24224f" opacity="0.75"/><ellipse cx="210.4" cy="239.8" rx="1.7" ry="1.2" transform="rotate(98 210.4 239.8)" fill="#2a285c" opacity="0.73"/><ellipse cx="192.1" cy="202.9" rx="1.9" ry="1.0" transform="rotate(43 192.1 202.9)" fill="#201e48" opacity="0.52"/><ellipse cx="184.9" cy="282.9" rx="1.7" ry="0.9" transform="rotate(24 184.9 282.9)" fill="#24224f" opacity="0.75"/><ellipse cx="201.7" cy="244.5" rx="2.0" ry="1.6" transform="rotate(30 201.7 244.5)" fill="#201e48" opacity="0.82"/><ellipse cx="188.3" cy="190.6" rx="1.6" ry="0.9" transform="rotate(92 188.3 190.6)" fill="#201e48" opacity="0.79"/><ellipse cx="120.0" cy="248.5" rx="1.5" ry="1.0" transform="rotate(145 120.0 248.5)" fill="#24224f" opacity="0.51"/><ellipse cx="205.4" cy="213.2" rx="1.6" ry="1.2" transform="rotate(4 205.4 213.2)" fill="#2e2c66" opacity="0.55"/><ellipse cx="117.8" cy="200.3" rx="2.0" ry="1.1" transform="rotate(100 117.8 200.3)" fill="#201e48" opacity="0.85"/><ellipse cx="181.7" cy="271.2" rx="1.8" ry="1.0" transform="rotate(180 181.7 271.2)" fill="#201e48" opacity="0.88"/><ellipse cx="117.1" cy="222.9" rx="1.5" ry="1.0" transform="rotate(157 117.1 222.9)" fill="#24224f" opacity="0.53"/><ellipse cx="176.9" cy="252.5" rx="1.8" ry="1.4" transform="rotate(174 176.9 252.5)" fill="#2e2c66" opacity="0.66"/><ellipse cx="201.8" cy="249.2" rx="1.5" ry="0.9" transform="rotate(39 201.8 249.2)" fill="#2a285c" opacity="0.74"/><ellipse cx="120.0" cy="206.1" rx="1.7" ry="1.1" transform="rotate(104 120.0 206.1)" fill="#2e2c66" opacity="0.87"/><ellipse cx="146.7" cy="222.3" rx="1.7" ry="1.0" transform="rotate(45 146.7 222.3)" fill="#24224f" opacity="0.75"/><ellipse cx="187.4" cy="203.5" rx="1.7" ry="0.9" transform="rotate(178 187.4 203.5)" fill="#201e48" opacity="0.73"/><ellipse cx="167.8" cy="283.0" rx="2.1" ry="1.1" transform="rotate(101 167.8 283.0)" fill="#24224f" opacity="0.85"/><ellipse cx="192.0" cy="251.4" rx="1.8" ry="1.1" transform="rotate(51 192.0 251.4)" fill="#2a285c" opacity="0.85"/><ellipse cx="208.3" cy="256.1" rx="1.6" ry="1.2" transform="rotate(133 208.3 256.1)" fill="#2a285c" opacity="0.64"/><ellipse cx="170.0" cy="229.2" rx="1.4" ry="0.9" transform="rotate(58 170.0 229.2)" fill="#2e2c66" opacity="0.70"/><ellipse cx="203.9" cy="268.6" rx="2.1" ry="1.1" transform="rotate(37 203.9 268.6)" fill="#2e2c66" opacity="0.66"/><ellipse cx="154.8" cy="265.0" rx="2.1" ry="1.4" transform="rotate(26 154.8 265.0)" fill="#201e48" opacity="0.60"/><ellipse cx="172.1" cy="253.9" rx="2.1" ry="1.1" transform="rotate(34 172.1 253.9)" fill="#24224f" opacity="0.73"/><ellipse cx="145.7" cy="224.0" rx="1.7" ry="1.4" transform="rotate(124 145.7 224.0)" fill="#24224f" opacity="0.84"/><ellipse cx="147.2" cy="206.6" rx="2.0" ry="1.3" transform="rotate(137 147.2 206.6)" fill="#201e48" opacity="0.59"/><ellipse cx="117.7" cy="194.2" rx="1.7" ry="1.3" transform="rotate(51 117.7 194.2)" fill="#24224f" opacity="0.58"/><ellipse cx="188.1" cy="283.6" rx="1.8" ry="1.0" transform="rotate(146 188.1 283.6)" fill="#201e48" opacity="0.79"/><ellipse cx="116.2" cy="215.9" rx="1.8" ry="0.9" transform="rotate(58 116.2 215.9)" fill="#24224f" opacity="0.58"/><ellipse cx="147.9" cy="262.7" rx="1.9" ry="1.2" transform="rotate(122 147.9 262.7)" fill="#201e48" opacity="0.57"/><ellipse cx="200.8" cy="267.3" rx="1.5" ry="1.0" transform="rotate(140 200.8 267.3)" fill="#2e2c66" opacity="0.60"/><ellipse cx="161.4" cy="190.8" rx="2.0" ry="1.4" transform="rotate(178 161.4 190.8)" fill="#24224f" opacity="0.67"/><ellipse cx="185.7" cy="271.1" rx="1.5" ry="0.8" transform="rotate(38 185.7 271.1)" fill="#24224f" opacity="0.64"/><ellipse cx="151.4" cy="223.1" rx="1.9" ry="1.4" transform="rotate(28 151.4 223.1)" fill="#201e48" opacity="0.59"/><ellipse cx="176.7" cy="269.0" rx="1.7" ry="0.9" transform="rotate(117 176.7 269.0)" fill="#2e2c66" opacity="0.72"/><ellipse cx="151.3" cy="241.2" rx="1.6" ry="0.9" transform="rotate(100 151.3 241.2)" fill="#24224f" opacity="0.76"/><ellipse cx="192.0" cy="224.9" rx="2.1" ry="1.2" transform="rotate(136 192.0 224.9)" fill="#24224f" opacity="0.87"/><ellipse cx="177.3" cy="201.4" rx="1.8" ry="1.0" transform="rotate(140 177.3 201.4)" fill="#201e48" opacity="0.88"/><ellipse cx="151.7" cy="204.1" rx="1.5" ry="1.1" transform="rotate(166 151.7 204.1)" fill="#2a285c" opacity="0.71"/><ellipse cx="150.3" cy="258.8" rx="1.7" ry="1.3" transform="rotate(38 150.3 258.8)" fill="#201e48" opacity="0.86"/><ellipse cx="154.1" cy="210.2" rx="2.0" ry="1.0" transform="rotate(119 154.1 210.2)" fill="#24224f" opacity="0.53"/><ellipse cx="179.3" cy="228.8" rx="2.0" ry="1.0" transform="rotate(102 179.3 228.8)" fill="#2e2c66" opacity="0.86"/><ellipse cx="152.7" cy="253.7" rx="2.0" ry="1.0" transform="rotate(4 152.7 253.7)" fill="#2e2c66" opacity="0.60"/><ellipse cx="150.6" cy="221.4" rx="1.7" ry="1.0" transform="rotate(158 150.6 221.4)" fill="#2e2c66" opacity="0.59"/><ellipse cx="171.9" cy="204.8" rx="2.0" ry="1.5" transform="rotate(48 171.9 204.8)" fill="#2a285c" opacity="0.83"/><ellipse cx="143.6" cy="221.9" rx="1.7" ry="1.3" transform="rotate(29 143.6 221.9)" fill="#2e2c66" opacity="0.58"/><ellipse cx="120.8" cy="265.9" rx="2.0" ry="1.4" transform="rotate(8 120.8 265.9)" fill="#2e2c66" opacity="0.57"/><ellipse cx="200.9" cy="286.7" rx="1.6" ry="0.8" transform="rotate(20 200.9 286.7)" fill="#24224f" opacity="0.55"/><ellipse cx="145.5" cy="238.6" rx="1.6" ry="1.2" transform="rotate(84 145.5 238.6)" fill="#2e2c66" opacity="0.54"/><ellipse cx="149.2" cy="279.2" rx="1.9" ry="1.5" transform="rotate(176 149.2 279.2)" fill="#24224f" opacity="0.73"/><ellipse cx="135.6" cy="250.8" rx="1.4" ry="0.8" transform="rotate(107 135.6 250.8)" fill="#2e2c66" opacity="0.78"/><ellipse cx="187.5" cy="194.2" rx="2.0" ry="1.1" transform="rotate(20 187.5 194.2)" fill="#2e2c66" opacity="0.89"/><ellipse cx="167.5" cy="189.8" rx="1.6" ry="1.0" transform="rotate(114 167.5 189.8)" fill="#24224f" opacity="0.71"/><ellipse cx="198.5" cy="283.0" rx="1.5" ry="1.2" transform="rotate(154 198.5 283.0)" fill="#2a285c" opacity="0.79"/><ellipse cx="142.6" cy="206.8" rx="1.6" ry="0.8" transform="rotate(8 142.6 206.8)" fill="#24224f" opacity="0.66"/><ellipse cx="170.6" cy="224.9" rx="1.4" ry="1.0" transform="rotate(118 170.6 224.9)" fill="#201e48" opacity="0.72"/><ellipse cx="183.8" cy="285.5" rx="2.0" ry="1.4" transform="rotate(72 183.8 285.5)" fill="#201e48" opacity="0.72"/><ellipse cx="153.5" cy="204.3" rx="1.9" ry="1.5" transform="rotate(145 153.5 204.3)" fill="#24224f" opacity="0.60"/><ellipse cx="165.1" cy="286.1" rx="1.9" ry="1.4" transform="rotate(178 165.1 286.1)" fill="#2a285c" opacity="0.77"/><ellipse cx="124.3" cy="250.2" rx="1.4" ry="1.0" transform="rotate(73 124.3 250.2)" fill="#201e48" opacity="0.77"/><ellipse cx="159.3" cy="254.8" rx="1.7" ry="1.2" transform="rotate(85 159.3 254.8)" fill="#2e2c66" opacity="0.70"/><ellipse cx="174.1" cy="286.7" rx="1.6" ry="1.1" transform="rotate(134 174.1 286.7)" fill="#2e2c66" opacity="0.64"/><ellipse cx="122.0" cy="284.8" rx="1.6" ry="1.1" transform="rotate(149 122.0 284.8)" fill="#24224f" opacity="0.75"/><ellipse cx="169.2" cy="211.3" rx="1.8" ry="1.1" transform="rotate(164 169.2 211.3)" fill="#2e2c66" opacity="0.84"/><ellipse cx="150.0" cy="247.1" rx="1.8" ry="1.4" transform="rotate(12 150.0 247.1)" fill="#201e48" opacity="0.71"/><ellipse cx="167.7" cy="269.0" rx="1.6" ry="0.9" transform="rotate(148 167.7 269.0)" fill="#2e2c66" opacity="0.57"/><ellipse cx="209.1" cy="273.1" rx="1.9" ry="1.4" transform="rotate(58 209.1 273.1)" fill="#201e48" opacity="0.83"/><ellipse cx="196.3" cy="201.5" rx="1.5" ry="0.9" transform="rotate(19 196.3 201.5)" fill="#201e48" opacity="0.77"/><ellipse cx="167.2" cy="219.0" rx="1.9" ry="1.1" transform="rotate(52 167.2 219.0)" fill="#2e2c66" opacity="0.78"/><ellipse cx="160.0" cy="236.2" rx="2.0" ry="1.4" transform="rotate(27 160.0 236.2)" fill="#2a285c" opacity="0.65"/><ellipse cx="167.0" cy="212.7" rx="1.7" ry="1.0" transform="rotate(69 167.0 212.7)" fill="#24224f" opacity="0.72"/><ellipse cx="115.8" cy="214.9" rx="1.8" ry="1.1" transform="rotate(98 115.8 214.9)" fill="#201e48" opacity="0.60"/><ellipse cx="141.9" cy="232.3" rx="1.8" ry="1.1" transform="rotate(16 141.9 232.3)" fill="#2a285c" opacity="0.67"/><ellipse cx="193.8" cy="249.9" rx="1.7" ry="0.9" transform="rotate(80 193.8 249.9)" fill="#201e48" opacity="0.52"/><ellipse cx="190.0" cy="284.2" rx="1.7" ry="1.2" transform="rotate(46 190.0 284.2)" fill="#2a285c" opacity="0.65"/><ellipse cx="172.8" cy="279.9" rx="1.5" ry="1.2" transform="rotate(128 172.8 279.9)" fill="#201e48" opacity="0.53"/><ellipse cx="135.7" cy="273.5" rx="1.5" ry="0.9" transform="rotate(71 135.7 273.5)" fill="#2e2c66" opacity="0.70"/><ellipse cx="204.6" cy="263.5" rx="1.4" ry="1.0" transform="rotate(83 204.6 263.5)" fill="#2e2c66" opacity="0.78"/><ellipse cx="158.7" cy="286.7" rx="1.5" ry="0.8" transform="rotate(72 158.7 286.7)" fill="#2a285c" opacity="0.70"/><ellipse cx="197.0" cy="255.0" rx="1.9" ry="1.2" transform="rotate(7 197.0 255.0)" fill="#201e48" opacity="0.72"/><ellipse cx="191.5" cy="264.7" rx="1.5" ry="0.8" transform="rotate(14 191.5 264.7)" fill="#24224f" opacity="0.54"/><ellipse cx="124.4" cy="263.1" rx="1.8" ry="0.9" transform="rotate(123 124.4 263.1)" fill="#201e48" opacity="0.69"/><ellipse cx="121.1" cy="257.0" rx="1.7" ry="1.1" transform="rotate(180 121.1 257.0)" fill="#24224f" opacity="0.85"/><ellipse cx="130.0" cy="222.2" rx="1.8" ry="0.9" transform="rotate(178 130.0 222.2)" fill="#201e48" opacity="0.71"/><ellipse cx="124.2" cy="227.0" rx="1.9" ry="1.1" transform="rotate(71 124.2 227.0)" fill="#2e2c66" opacity="0.77"/><ellipse cx="146.0" cy="213.8" rx="1.7" ry="1.1" transform="rotate(97 146.0 213.8)" fill="#201e48" opacity="0.58"/><ellipse cx="120.8" cy="242.0" rx="1.7" ry="1.1" transform="rotate(88 120.8 242.0)" fill="#2a285c" opacity="0.65"/><ellipse cx="194.7" cy="209.1" rx="2.0" ry="1.4" transform="rotate(9 194.7 209.1)" fill="#201e48" opacity="0.50"/><ellipse cx="122.4" cy="282.5" rx="2.0" ry="1.0" transform="rotate(40 122.4 282.5)" fill="#2e2c66" opacity="0.62"/><ellipse cx="185.8" cy="267.9" rx="1.8" ry="1.2" transform="rotate(168 185.8 267.9)" fill="#2e2c66" opacity="0.58"/><ellipse cx="135.7" cy="207.1" rx="2.0" ry="1.1" transform="rotate(25 135.7 207.1)" fill="#24224f" opacity="0.83"/><ellipse cx="164.7" cy="190.9" rx="1.9" ry="1.4" transform="rotate(30 164.7 190.9)" fill="#2a285c" opacity="0.77"/><ellipse cx="182.3" cy="218.3" rx="1.5" ry="1.2" transform="rotate(26 182.3 218.3)" fill="#2a285c" opacity="0.71"/><ellipse cx="161.6" cy="209.2" rx="1.5" ry="0.8" transform="rotate(40 161.6 209.2)" fill="#201e48" opacity="0.78"/><ellipse cx="159.3" cy="231.0" rx="2.0" ry="1.6" transform="rotate(24 159.3 231.0)" fill="#2a285c" opacity="0.83"/><ellipse cx="144.7" cy="212.2" rx="1.8" ry="1.1" transform="rotate(101 144.7 212.2)" fill="#2a285c" opacity="0.62"/><ellipse cx="141.1" cy="243.1" rx="1.6" ry="1.2" transform="rotate(120 141.1 243.1)" fill="#2a285c" opacity="0.66"/><ellipse cx="118.9" cy="226.6" rx="1.8" ry="1.0" transform="rotate(98 118.9 226.6)" fill="#24224f" opacity="0.58"/><ellipse cx="130.4" cy="207.5" rx="1.6" ry="1.0" transform="rotate(7 130.4 207.5)" fill="#201e48" opacity="0.55"/><ellipse cx="206.7" cy="286.8" rx="2.1" ry="1.4" transform="rotate(52 206.7 286.8)" fill="#201e48" opacity="0.51"/><ellipse cx="192.8" cy="276.4" rx="2.0" ry="1.1" transform="rotate(50 192.8 276.4)" fill="#201e48" opacity="0.74"/><ellipse cx="169.0" cy="198.1" rx="1.5" ry="0.9" transform="rotate(161 169.0 198.1)" fill="#2a285c" opacity="0.73"/><ellipse cx="145.3" cy="246.2" rx="1.5" ry="0.7" transform="rotate(35 145.3 246.2)" fill="#2a285c" opacity="0.76"/><ellipse cx="120.6" cy="222.0" rx="1.7" ry="1.0" transform="rotate(134 120.6 222.0)" fill="#2a285c" opacity="0.54"/><ellipse cx="197.7" cy="268.5" rx="1.9" ry="1.2" transform="rotate(134 197.7 268.5)" fill="#24224f" opacity="0.82"/><ellipse cx="174.4" cy="234.6" rx="1.4" ry="0.9" transform="rotate(18 174.4 234.6)" fill="#2a285c" opacity="0.67"/><ellipse cx="198.2" cy="196.9" rx="1.9" ry="1.4" transform="rotate(65 198.2 196.9)" fill="#24224f" opacity="0.63"/><ellipse cx="198.8" cy="274.8" rx="1.7" ry="0.9" transform="rotate(17 198.8 274.8)" fill="#2a285c" opacity="0.55"/><ellipse cx="164.6" cy="241.9" rx="1.5" ry="0.9" transform="rotate(30 164.6 241.9)" fill="#24224f" opacity="0.70"/><ellipse cx="151.9" cy="208.8" rx="1.7" ry="0.9" transform="rotate(23 151.9 208.8)" fill="#2a285c" opacity="0.79"/></g>
</g>
<clipPath id="mc02"><rect x="217.8" y="189.0" width="99.4" height="98.7"/></clipPath>
<g clip-path="url(#mc02)"><rect x="217.8" y="189.0" width="99.4" height="98.7" fill="#0a0a0c"/>
<g filter="url(#bl7)"><ellipse cx="270.9" cy="212.9" rx="1.5" ry="0.8" transform="rotate(10 270.9 212.9)" fill="#2a285c" opacity="0.78"/><ellipse cx="240.9" cy="262.8" rx="1.5" ry="0.9" transform="rotate(6 240.9 262.8)" fill="#2e2c66" opacity="0.75"/><ellipse cx="229.1" cy="245.2" rx="1.5" ry="1.0" transform="rotate(39 229.1 245.2)" fill="#2a285c" opacity="0.74"/><ellipse cx="295.4" cy="258.9" rx="1.4" ry="0.8" transform="rotate(108 295.4 258.9)" fill="#24224f" opacity="0.52"/><ellipse cx="279.1" cy="257.1" rx="2.0" ry="1.2" transform="rotate(146 279.1 257.1)" fill="#2e2c66" opacity="0.74"/><ellipse cx="236.3" cy="220.5" rx="2.1" ry="1.5" transform="rotate(6 236.3 220.5)" fill="#2a285c" opacity="0.56"/><ellipse cx="268.6" cy="205.8" rx="2.0" ry="1.4" transform="rotate(37 268.6 205.8)" fill="#2a285c" opacity="0.77"/><ellipse cx="288.0" cy="196.0" rx="1.4" ry="1.1" transform="rotate(7 288.0 196.0)" fill="#201e48" opacity="0.86"/><ellipse cx="292.2" cy="251.7" rx="1.5" ry="1.1" transform="rotate(152 292.2 251.7)" fill="#2e2c66" opacity="0.54"/><ellipse cx="288.9" cy="223.6" rx="1.5" ry="1.2" transform="rotate(121 288.9 223.6)" fill="#2e2c66" opacity="0.55"/><ellipse cx="299.8" cy="281.1" rx="2.0" ry="1.5" transform="rotate(150 299.8 281.1)" fill="#2a285c" opacity="0.67"/><ellipse cx="299.5" cy="266.1" rx="2.0" ry="1.2" transform="rotate(173 299.5 266.1)" fill="#24224f" opacity="0.53"/><ellipse cx="295.4" cy="267.9" rx="1.9" ry="1.5" transform="rotate(43 295.4 267.9)" fill="#2e2c66" opacity="0.72"/><ellipse cx="304.7" cy="245.7" rx="2.1" ry="1.6" transform="rotate(9 304.7 245.7)" fill="#2e2c66" opacity="0.82"/><ellipse cx="285.5" cy="281.5" rx="2.0" ry="1.2" transform="rotate(16 285.5 281.5)" fill="#201e48" opacity="0.77"/><ellipse cx="307.3" cy="231.2" rx="1.6" ry="1.0" transform="rotate(109 307.3 231.2)" fill="#24224f" opacity="0.85"/><ellipse cx="265.1" cy="229.6" rx="1.6" ry="0.9" transform="rotate(98 265.1 229.6)" fill="#24224f" opacity="0.64"/><ellipse cx="301.4" cy="250.0" rx="1.6" ry="0.8" transform="rotate(49 301.4 250.0)" fill="#2e2c66" opacity="0.66"/><ellipse cx="271.3" cy="213.1" rx="1.6" ry="1.1" transform="rotate(68 271.3 213.1)" fill="#2a285c" opacity="0.66"/><ellipse cx="251.0" cy="204.2" rx="1.5" ry="0.9" transform="rotate(147 251.0 204.2)" fill="#2e2c66" opacity="0.62"/><ellipse cx="249.6" cy="275.1" rx="2.0" ry="1.3" transform="rotate(154 249.6 275.1)" fill="#2a285c" opacity="0.66"/><ellipse cx="219.2" cy="272.9" rx="1.5" ry="0.8" transform="rotate(102 219.2 272.9)" fill="#201e48" opacity="0.79"/><ellipse cx="284.8" cy="285.7" rx="1.9" ry="1.4" transform="rotate(120 284.8 285.7)" fill="#2a285c" opacity="0.87"/><ellipse cx="306.3" cy="254.6" rx="1.5" ry="1.0" transform="rotate(80 306.3 254.6)" fill="#201e48" opacity="0.64"/><ellipse cx="283.4" cy="251.2" rx="1.7" ry="1.1" transform="rotate(122 283.4 251.2)" fill="#2e2c66" opacity="0.70"/><ellipse cx="286.4" cy="191.3" rx="2.0" ry="1.5" transform="rotate(21 286.4 191.3)" fill="#2e2c66" opacity="0.68"/><ellipse cx="292.2" cy="276.6" rx="1.9" ry="1.4" transform="rotate(6 292.2 276.6)" fill="#201e48" opacity="0.69"/><ellipse cx="219.0" cy="281.0" rx="1.6" ry="0.9" transform="rotate(165 219.0 281.0)" fill="#24224f" opacity="0.90"/><ellipse cx="235.4" cy="247.1" rx="2.1" ry="1.4" transform="rotate(44 235.4 247.1)" fill="#24224f" opacity="0.67"/><ellipse cx="314.6" cy="252.9" rx="2.0" ry="1.4" transform="rotate(68 314.6 252.9)" fill="#201e48" opacity="0.78"/><ellipse cx="245.6" cy="205.3" rx="1.8" ry="1.3" transform="rotate(143 245.6 205.3)" fill="#201e48" opacity="0.86"/><ellipse cx="238.1" cy="268.4" rx="1.4" ry="0.9" transform="rotate(94 238.1 268.4)" fill="#201e48" opacity="0.86"/><ellipse cx="276.1" cy="284.4" rx="1.9" ry="1.2" transform="rotate(125 276.1 284.4)" fill="#201e48" opacity="0.62"/><ellipse cx="311.2" cy="208.8" rx="1.6" ry="1.0" transform="rotate(20 311.2 208.8)" fill="#201e48" opacity="0.64"/><ellipse cx="249.8" cy="267.0" rx="1.7" ry="0.9" transform="rotate(167 249.8 267.0)" fill="#2e2c66" opacity="0.70"/><ellipse cx="258.5" cy="205.1" rx="2.0" ry="1.0" transform="rotate(50 258.5 205.1)" fill="#2e2c66" opacity="0.76"/><ellipse cx="301.8" cy="229.7" rx="1.5" ry="0.9" transform="rotate(129 301.8 229.7)" fill="#2e2c66" opacity="0.71"/><ellipse cx="246.7" cy="251.1" rx="1.6" ry="1.2" transform="rotate(7 246.7 251.1)" fill="#201e48" opacity="0.64"/><ellipse cx="310.8" cy="215.4" rx="1.6" ry="0.8" transform="rotate(99 310.8 215.4)" fill="#2e2c66" opacity="0.83"/><ellipse cx="288.3" cy="280.4" rx="1.5" ry="0.8" transform="rotate(130 288.3 280.4)" fill="#24224f" opacity="0.81"/><ellipse cx="257.1" cy="281.4" rx="1.9" ry="1.2" transform="rotate(71 257.1 281.4)" fill="#201e48" opacity="0.64"/><ellipse cx="236.6" cy="274.7" rx="1.8" ry="1.2" transform="rotate(120 236.6 274.7)" fill="#201e48" opacity="0.55"/><ellipse cx="251.6" cy="195.9" rx="1.7" ry="1.1" transform="rotate(153 251.6 195.9)" fill="#2a285c" opacity="0.73"/><ellipse cx="258.0" cy="245.6" rx="1.6" ry="1.2" transform="rotate(142 258.0 245.6)" fill="#2a285c" opacity="0.56"/><ellipse cx="284.4" cy="263.2" rx="1.8" ry="1.3" transform="rotate(162 284.4 263.2)" fill="#2e2c66" opacity="0.85"/><ellipse cx="231.2" cy="258.3" rx="1.9" ry="1.3" transform="rotate(50 231.2 258.3)" fill="#24224f" opacity="0.81"/><ellipse cx="277.8" cy="239.2" rx="1.8" ry="1.4" transform="rotate(56 277.8 239.2)" fill="#201e48" opacity="0.77"/><ellipse cx="314.2" cy="267.9" rx="1.7" ry="1.2" transform="rotate(13 314.2 267.9)" fill="#201e48" opacity="0.59"/><ellipse cx="263.3" cy="264.1" rx="1.7" ry="1.1" transform="rotate(176 263.3 264.1)" fill="#24224f" opacity="0.52"/><ellipse cx="299.7" cy="200.3" rx="1.6" ry="1.1" transform="rotate(61 299.7 200.3)" fill="#201e48" opacity="0.71"/><ellipse cx="241.0" cy="243.9" rx="2.0" ry="1.2" transform="rotate(175 241.0 243.9)" fill="#24224f" opacity="0.59"/><ellipse cx="235.3" cy="268.7" rx="1.6" ry="1.0" transform="rotate(172 235.3 268.7)" fill="#201e48" opacity="0.79"/><ellipse cx="275.9" cy="228.6" rx="1.8" ry="1.2" transform="rotate(41 275.9 228.6)" fill="#24224f" opacity="0.82"/><ellipse cx="312.9" cy="221.7" rx="2.1" ry="1.1" transform="rotate(86 312.9 221.7)" fill="#2a285c" opacity="0.67"/><ellipse cx="313.7" cy="275.5" rx="1.8" ry="1.0" transform="rotate(111 313.7 275.5)" fill="#24224f" opacity="0.66"/><ellipse cx="246.1" cy="208.5" rx="1.9" ry="1.3" transform="rotate(79 246.1 208.5)" fill="#2a285c" opacity="0.82"/><ellipse cx="291.4" cy="265.1" rx="1.5" ry="1.1" transform="rotate(151 291.4 265.1)" fill="#201e48" opacity="0.80"/><ellipse cx="311.6" cy="279.4" rx="1.9" ry="1.4" transform="rotate(11 311.6 279.4)" fill="#2a285c" opacity="0.67"/><ellipse cx="300.5" cy="252.2" rx="1.9" ry="1.3" transform="rotate(100 300.5 252.2)" fill="#2a285c" opacity="0.73"/><ellipse cx="249.4" cy="224.1" rx="1.5" ry="1.1" transform="rotate(124 249.4 224.1)" fill="#2e2c66" opacity="0.86"/><ellipse cx="297.5" cy="234.0" rx="1.5" ry="0.8" transform="rotate(28 297.5 234.0)" fill="#2e2c66" opacity="0.69"/><ellipse cx="226.4" cy="222.5" rx="1.6" ry="1.2" transform="rotate(176 226.4 222.5)" fill="#24224f" opacity="0.71"/><ellipse cx="243.0" cy="227.5" rx="1.6" ry="1.1" transform="rotate(169 243.0 227.5)" fill="#2a285c" opacity="0.78"/><ellipse cx="311.3" cy="285.3" rx="1.7" ry="1.2" transform="rotate(69 311.3 285.3)" fill="#2e2c66" opacity="0.55"/><ellipse cx="219.6" cy="210.4" rx="1.8" ry="1.1" transform="rotate(2 219.6 210.4)" fill="#24224f" opacity="0.69"/><ellipse cx="222.6" cy="276.4" rx="1.8" ry="0.9" transform="rotate(58 222.6 276.4)" fill="#2e2c66" opacity="0.69"/><ellipse cx="281.2" cy="209.6" rx="1.6" ry="1.2" transform="rotate(69 281.2 209.6)" fill="#24224f" opacity="0.54"/><ellipse cx="304.7" cy="281.8" rx="1.7" ry="1.1" transform="rotate(166 304.7 281.8)" fill="#2e2c66" opacity="0.80"/><ellipse cx="274.4" cy="259.8" rx="2.0" ry="1.1" transform="rotate(117 274.4 259.8)" fill="#2a285c" opacity="0.79"/><ellipse cx="264.5" cy="275.5" rx="1.8" ry="1.0" transform="rotate(90 264.5 275.5)" fill="#2e2c66" opacity="0.53"/><ellipse cx="241.8" cy="285.9" rx="1.6" ry="1.0" transform="rotate(142 241.8 285.9)" fill="#2a285c" opacity="0.75"/><ellipse cx="291.3" cy="193.2" rx="1.5" ry="1.2" transform="rotate(144 291.3 193.2)" fill="#24224f" opacity="0.69"/><ellipse cx="257.9" cy="281.5" rx="2.1" ry="1.5" transform="rotate(8 257.9 281.5)" fill="#2e2c66" opacity="0.61"/><ellipse cx="233.4" cy="191.3" rx="1.9" ry="1.0" transform="rotate(175 233.4 191.3)" fill="#24224f" opacity="0.57"/><ellipse cx="297.7" cy="205.4" rx="1.8" ry="0.9" transform="rotate(142 297.7 205.4)" fill="#2e2c66" opacity="0.87"/><ellipse cx="218.5" cy="272.7" rx="1.8" ry="1.3" transform="rotate(90 218.5 272.7)" fill="#24224f" opacity="0.78"/><ellipse cx="283.4" cy="249.6" rx="1.7" ry="1.2" transform="rotate(101 283.4 249.6)" fill="#2a285c" opacity="0.51"/><ellipse cx="299.9" cy="268.8" rx="1.7" ry="0.9" transform="rotate(117 299.9 268.8)" fill="#2a285c" opacity="0.77"/><ellipse cx="315.1" cy="249.4" rx="1.5" ry="1.0" transform="rotate(122 315.1 249.4)" fill="#24224f" opacity="0.79"/><ellipse cx="301.9" cy="272.4" rx="1.5" ry="0.9" transform="rotate(54 301.9 272.4)" fill="#201e48" opacity="0.56"/><ellipse cx="278.0" cy="285.1" rx="1.9" ry="1.0" transform="rotate(13 278.0 285.1)" fill="#24224f" opacity="0.77"/><ellipse cx="293.8" cy="210.4" rx="1.7" ry="1.3" transform="rotate(166 293.8 210.4)" fill="#2a285c" opacity="0.87"/><ellipse cx="290.4" cy="267.3" rx="2.0" ry="1.5" transform="rotate(129 290.4 267.3)" fill="#24224f" opacity="0.77"/><ellipse cx="231.6" cy="278.5" rx="2.0" ry="1.0" transform="rotate(111 231.6 278.5)" fill="#201e48" opacity="0.68"/><ellipse cx="287.8" cy="214.2" rx="1.6" ry="1.0" transform="rotate(58 287.8 214.2)" fill="#24224f" opacity="0.56"/><ellipse cx="234.3" cy="282.0" rx="1.9" ry="1.2" transform="rotate(112 234.3 282.0)" fill="#201e48" opacity="0.61"/><ellipse cx="242.9" cy="229.8" rx="1.4" ry="0.8" transform="rotate(160 242.9 229.8)" fill="#201e48" opacity="0.50"/><ellipse cx="294.2" cy="212.8" rx="1.6" ry="0.9" transform="rotate(29 294.2 212.8)" fill="#24224f" opacity="0.83"/><ellipse cx="249.2" cy="250.8" rx="1.7" ry="1.1" transform="rotate(174 249.2 250.8)" fill="#2a285c" opacity="0.58"/><ellipse cx="223.6" cy="254.3" rx="1.6" ry="1.2" transform="rotate(168 223.6 254.3)" fill="#24224f" opacity="0.76"/><ellipse cx="239.8" cy="263.3" rx="2.0" ry="1.4" transform="rotate(78 239.8 263.3)" fill="#24224f" opacity="0.90"/><ellipse cx="235.6" cy="232.3" rx="1.9" ry="1.3" transform="rotate(134 235.6 232.3)" fill="#2e2c66" opacity="0.60"/><ellipse cx="243.6" cy="192.2" rx="1.9" ry="1.1" transform="rotate(47 243.6 192.2)" fill="#2a285c" opacity="0.76"/><ellipse cx="277.1" cy="257.4" rx="1.6" ry="0.8" transform="rotate(12 277.1 257.4)" fill="#24224f" opacity="0.53"/><ellipse cx="225.6" cy="243.9" rx="1.9" ry="1.3" transform="rotate(92 225.6 243.9)" fill="#201e48" opacity="0.87"/><ellipse cx="262.6" cy="277.4" rx="1.6" ry="1.0" transform="rotate(125 262.6 277.4)" fill="#2a285c" opacity="0.68"/><ellipse cx="290.0" cy="198.8" rx="2.1" ry="1.2" transform="rotate(150 290.0 198.8)" fill="#24224f" opacity="0.66"/><ellipse cx="295.5" cy="199.9" rx="1.5" ry="0.9" transform="rotate(60 295.5 199.9)" fill="#24224f" opacity="0.84"/><ellipse cx="225.4" cy="198.2" rx="1.9" ry="1.4" transform="rotate(56 225.4 198.2)" fill="#201e48" opacity="0.57"/><ellipse cx="232.4" cy="199.0" rx="2.1" ry="1.3" transform="rotate(117 232.4 199.0)" fill="#2a285c" opacity="0.52"/><ellipse cx="247.4" cy="215.7" rx="2.1" ry="1.6" transform="rotate(64 247.4 215.7)" fill="#2a285c" opacity="0.56"/><ellipse cx="295.8" cy="214.1" rx="1.7" ry="1.1" transform="rotate(20 295.8 214.1)" fill="#2a285c" opacity="0.86"/><ellipse cx="234.6" cy="263.8" rx="2.1" ry="1.0" transform="rotate(117 234.6 263.8)" fill="#2a285c" opacity="0.81"/><ellipse cx="302.2" cy="213.0" rx="2.0" ry="1.2" transform="rotate(1 302.2 213.0)" fill="#24224f" opacity="0.77"/><ellipse cx="300.6" cy="212.4" rx="1.4" ry="0.9" transform="rotate(21 300.6 212.4)" fill="#2e2c66" opacity="0.72"/><ellipse cx="266.7" cy="229.0" rx="1.7" ry="1.4" transform="rotate(164 266.7 229.0)" fill="#2e2c66" opacity="0.68"/><ellipse cx="229.9" cy="196.1" rx="1.7" ry="1.1" transform="rotate(169 229.9 196.1)" fill="#24224f" opacity="0.53"/><ellipse cx="240.2" cy="262.2" rx="1.8" ry="1.4" transform="rotate(173 240.2 262.2)" fill="#2e2c66" opacity="0.54"/><ellipse cx="311.2" cy="240.8" rx="1.6" ry="0.9" transform="rotate(156 311.2 240.8)" fill="#2a285c" opacity="0.54"/><ellipse cx="265.3" cy="235.3" rx="2.1" ry="1.5" transform="rotate(24 265.3 235.3)" fill="#2e2c66" opacity="0.75"/><ellipse cx="227.9" cy="216.9" rx="2.0" ry="1.0" transform="rotate(127 227.9 216.9)" fill="#2e2c66" opacity="0.69"/><ellipse cx="236.0" cy="190.6" rx="1.9" ry="1.2" transform="rotate(4 236.0 190.6)" fill="#2e2c66" opacity="0.77"/><ellipse cx="221.5" cy="252.9" rx="1.9" ry="1.4" transform="rotate(25 221.5 252.9)" fill="#201e48" opacity="0.56"/><ellipse cx="297.4" cy="281.9" rx="1.9" ry="1.5" transform="rotate(66 297.4 281.9)" fill="#2a285c" opacity="0.78"/><ellipse cx="219.8" cy="234.3" rx="1.9" ry="1.2" transform="rotate(153 219.8 234.3)" fill="#201e48" opacity="0.68"/><ellipse cx="232.1" cy="208.2" rx="1.9" ry="1.3" transform="rotate(169 232.1 208.2)" fill="#2e2c66" opacity="0.51"/><ellipse cx="234.6" cy="224.7" rx="1.7" ry="0.9" transform="rotate(67 234.6 224.7)" fill="#2e2c66" opacity="0.77"/><ellipse cx="239.2" cy="278.0" rx="1.5" ry="1.0" transform="rotate(56 239.2 278.0)" fill="#2e2c66" opacity="0.61"/><ellipse cx="314.2" cy="263.3" rx="1.4" ry="0.8" transform="rotate(74 314.2 263.3)" fill="#24224f" opacity="0.73"/><ellipse cx="294.1" cy="212.8" rx="2.0" ry="1.1" transform="rotate(146 294.1 212.8)" fill="#2e2c66" opacity="0.69"/><ellipse cx="272.2" cy="227.3" rx="1.6" ry="1.1" transform="rotate(49 272.2 227.3)" fill="#2e2c66" opacity="0.56"/><ellipse cx="231.8" cy="240.5" rx="1.8" ry="1.4" transform="rotate(10 231.8 240.5)" fill="#2a285c" opacity="0.67"/><ellipse cx="226.2" cy="269.6" rx="2.0" ry="1.1" transform="rotate(103 226.2 269.6)" fill="#2a285c" opacity="0.84"/><ellipse cx="312.5" cy="215.8" rx="2.1" ry="1.3" transform="rotate(9 312.5 215.8)" fill="#24224f" opacity="0.89"/><ellipse cx="307.3" cy="196.4" rx="1.9" ry="1.1" transform="rotate(25 307.3 196.4)" fill="#24224f" opacity="0.71"/><ellipse cx="301.8" cy="268.3" rx="1.9" ry="1.2" transform="rotate(21 301.8 268.3)" fill="#2a285c" opacity="0.70"/><ellipse cx="270.5" cy="255.9" rx="1.7" ry="1.1" transform="rotate(100 270.5 255.9)" fill="#2e2c66" opacity="0.53"/><ellipse cx="306.6" cy="245.2" rx="1.5" ry="1.1" transform="rotate(46 306.6 245.2)" fill="#2a285c" opacity="0.66"/><ellipse cx="312.4" cy="214.7" rx="2.0" ry="1.4" transform="rotate(10 312.4 214.7)" fill="#2e2c66" opacity="0.58"/><ellipse cx="250.6" cy="279.4" rx="1.7" ry="1.0" transform="rotate(137 250.6 279.4)" fill="#2a285c" opacity="0.69"/><ellipse cx="250.2" cy="284.4" rx="2.1" ry="1.1" transform="rotate(175 250.2 284.4)" fill="#2e2c66" opacity="0.66"/><ellipse cx="231.5" cy="262.5" rx="1.7" ry="1.2" transform="rotate(68 231.5 262.5)" fill="#2e2c66" opacity="0.81"/><ellipse cx="230.9" cy="211.2" rx="1.6" ry="0.9" transform="rotate(6 230.9 211.2)" fill="#2a285c" opacity="0.85"/><ellipse cx="278.9" cy="252.7" rx="1.7" ry="1.1" transform="rotate(60 278.9 252.7)" fill="#201e48" opacity="0.64"/><ellipse cx="292.9" cy="220.2" rx="2.0" ry="1.4" transform="rotate(122 292.9 220.2)" fill="#2a285c" opacity="0.66"/><ellipse cx="229.8" cy="251.0" rx="1.6" ry="1.1" transform="rotate(37 229.8 251.0)" fill="#2a285c" opacity="0.78"/><ellipse cx="313.4" cy="208.7" rx="1.9" ry="1.1" transform="rotate(46 313.4 208.7)" fill="#24224f" opacity="0.74"/><ellipse cx="301.9" cy="275.0" rx="1.8" ry="1.0" transform="rotate(3 301.9 275.0)" fill="#2e2c66" opacity="0.79"/><ellipse cx="245.1" cy="196.3" rx="1.4" ry="0.8" transform="rotate(125 245.1 196.3)" fill="#24224f" opacity="0.57"/><ellipse cx="235.5" cy="277.5" rx="1.9" ry="1.1" transform="rotate(4 235.5 277.5)" fill="#24224f" opacity="0.87"/><ellipse cx="313.7" cy="204.0" rx="1.6" ry="1.1" transform="rotate(58 313.7 204.0)" fill="#2e2c66" opacity="0.80"/><ellipse cx="304.4" cy="222.0" rx="2.0" ry="1.2" transform="rotate(48 304.4 222.0)" fill="#24224f" opacity="0.75"/><ellipse cx="286.8" cy="215.2" rx="2.0" ry="1.4" transform="rotate(62 286.8 215.2)" fill="#2e2c66" opacity="0.56"/><ellipse cx="277.8" cy="286.2" rx="2.0" ry="1.4" transform="rotate(151 277.8 286.2)" fill="#2e2c66" opacity="0.65"/><ellipse cx="288.9" cy="211.9" rx="2.0" ry="1.5" transform="rotate(17 288.9 211.9)" fill="#2a285c" opacity="0.58"/><ellipse cx="287.9" cy="268.1" rx="2.0" ry="1.1" transform="rotate(17 287.9 268.1)" fill="#2e2c66" opacity="0.73"/><ellipse cx="231.9" cy="208.3" rx="1.8" ry="1.0" transform="rotate(114 231.9 208.3)" fill="#2a285c" opacity="0.80"/><ellipse cx="267.6" cy="240.5" rx="1.6" ry="0.8" transform="rotate(41 267.6 240.5)" fill="#24224f" opacity="0.59"/><ellipse cx="246.9" cy="252.0" rx="1.9" ry="1.3" transform="rotate(162 246.9 252.0)" fill="#2a285c" opacity="0.89"/><ellipse cx="316.2" cy="277.3" rx="1.5" ry="0.8" transform="rotate(83 316.2 277.3)" fill="#201e48" opacity="0.83"/><ellipse cx="288.8" cy="283.2" rx="2.0" ry="1.2" transform="rotate(57 288.8 283.2)" fill="#201e48" opacity="0.52"/><ellipse cx="278.2" cy="198.2" rx="1.4" ry="0.9" transform="rotate(27 278.2 198.2)" fill="#2a285c" opacity="0.68"/><ellipse cx="237.8" cy="201.2" rx="1.8" ry="1.2" transform="rotate(65 237.8 201.2)" fill="#2e2c66" opacity="0.71"/><ellipse cx="294.6" cy="199.9" rx="1.4" ry="0.9" transform="rotate(87 294.6 199.9)" fill="#201e48" opacity="0.82"/><ellipse cx="268.8" cy="233.4" rx="2.0" ry="1.6" transform="rotate(75 268.8 233.4)" fill="#201e48" opacity="0.71"/><ellipse cx="295.0" cy="260.3" rx="1.6" ry="0.8" transform="rotate(138 295.0 260.3)" fill="#24224f" opacity="0.75"/><ellipse cx="245.7" cy="193.2" rx="2.1" ry="1.6" transform="rotate(23 245.7 193.2)" fill="#2e2c66" opacity="0.77"/><ellipse cx="221.8" cy="253.8" rx="2.0" ry="1.4" transform="rotate(61 221.8 253.8)" fill="#24224f" opacity="0.56"/><ellipse cx="286.9" cy="259.4" rx="1.9" ry="1.0" transform="rotate(164 286.9 259.4)" fill="#2a285c" opacity="0.71"/><ellipse cx="287.2" cy="220.4" rx="2.0" ry="1.3" transform="rotate(73 287.2 220.4)" fill="#2a285c" opacity="0.57"/><ellipse cx="293.6" cy="231.1" rx="1.6" ry="0.9" transform="rotate(44 293.6 231.1)" fill="#24224f" opacity="0.54"/><ellipse cx="311.1" cy="281.3" rx="1.9" ry="1.2" transform="rotate(41 311.1 281.3)" fill="#2a285c" opacity="0.74"/><ellipse cx="246.7" cy="235.0" rx="1.9" ry="1.4" transform="rotate(23 246.7 235.0)" fill="#2a285c" opacity="0.87"/><ellipse cx="266.6" cy="274.2" rx="1.8" ry="1.3" transform="rotate(5 266.6 274.2)" fill="#2e2c66" opacity="0.83"/><ellipse cx="286.7" cy="284.9" rx="1.8" ry="1.1" transform="rotate(131 286.7 284.9)" fill="#201e48" opacity="0.77"/><ellipse cx="283.2" cy="195.0" rx="1.4" ry="0.8" transform="rotate(62 283.2 195.0)" fill="#201e48" opacity="0.74"/><ellipse cx="306.8" cy="282.5" rx="1.6" ry="1.2" transform="rotate(147 306.8 282.5)" fill="#201e48" opacity="0.88"/><ellipse cx="248.0" cy="249.9" rx="1.7" ry="1.0" transform="rotate(170 248.0 249.9)" fill="#24224f" opacity="0.86"/><ellipse cx="258.7" cy="251.6" rx="2.0" ry="1.5" transform="rotate(44 258.7 251.6)" fill="#24224f" opacity="0.90"/><ellipse cx="289.9" cy="263.2" rx="2.0" ry="1.1" transform="rotate(118 289.9 263.2)" fill="#2e2c66" opacity="0.67"/><ellipse cx="248.5" cy="212.9" rx="1.9" ry="1.3" transform="rotate(10 248.5 212.9)" fill="#2a285c" opacity="0.84"/><ellipse cx="304.8" cy="203.1" rx="2.1" ry="1.5" transform="rotate(122 304.8 203.1)" fill="#24224f" opacity="0.82"/><ellipse cx="301.2" cy="285.2" rx="2.1" ry="1.3" transform="rotate(83 301.2 285.2)" fill="#2a285c" opacity="0.79"/><ellipse cx="253.8" cy="195.8" rx="1.5" ry="1.1" transform="rotate(163 253.8 195.8)" fill="#24224f" opacity="0.59"/><ellipse cx="225.3" cy="196.1" rx="1.9" ry="1.1" transform="rotate(83 225.3 196.1)" fill="#2e2c66" opacity="0.62"/><ellipse cx="265.2" cy="226.4" rx="1.8" ry="1.4" transform="rotate(104 265.2 226.4)" fill="#201e48" opacity="0.86"/><ellipse cx="290.5" cy="219.9" rx="2.0" ry="1.4" transform="rotate(19 290.5 219.9)" fill="#24224f" opacity="0.69"/><ellipse cx="259.3" cy="275.5" rx="1.9" ry="1.0" transform="rotate(65 259.3 275.5)" fill="#201e48" opacity="0.87"/><ellipse cx="283.1" cy="273.8" rx="1.9" ry="1.2" transform="rotate(83 283.1 273.8)" fill="#2e2c66" opacity="0.51"/><ellipse cx="231.2" cy="287.1" rx="1.5" ry="0.9" transform="rotate(93 231.2 287.1)" fill="#201e48" opacity="0.54"/><ellipse cx="296.4" cy="248.5" rx="1.4" ry="0.9" transform="rotate(170 296.4 248.5)" fill="#2e2c66" opacity="0.56"/><ellipse cx="281.0" cy="197.0" rx="1.7" ry="1.0" transform="rotate(178 281.0 197.0)" fill="#2a285c" opacity="0.70"/><ellipse cx="292.3" cy="190.6" rx="2.0" ry="1.4" transform="rotate(68 292.3 190.6)" fill="#2a285c" opacity="0.57"/><ellipse cx="307.9" cy="243.4" rx="1.9" ry="1.5" transform="rotate(65 307.9 243.4)" fill="#24224f" opacity="0.58"/><ellipse cx="220.6" cy="238.6" rx="2.0" ry="1.6" transform="rotate(172 220.6 238.6)" fill="#2e2c66" opacity="0.87"/><ellipse cx="273.4" cy="203.5" rx="1.8" ry="1.4" transform="rotate(76 273.4 203.5)" fill="#201e48" opacity="0.74"/><ellipse cx="241.3" cy="210.6" rx="1.8" ry="0.9" transform="rotate(139 241.3 210.6)" fill="#201e48" opacity="0.86"/><ellipse cx="234.6" cy="266.0" rx="1.8" ry="1.0" transform="rotate(148 234.6 266.0)" fill="#2a285c" opacity="0.74"/><ellipse cx="307.3" cy="209.2" rx="1.8" ry="1.3" transform="rotate(135 307.3 209.2)" fill="#2a285c" opacity="0.61"/><ellipse cx="300.8" cy="279.9" rx="1.4" ry="1.1" transform="rotate(80 300.8 279.9)" fill="#24224f" opacity="0.85"/><ellipse cx="306.6" cy="244.1" rx="1.7" ry="1.0" transform="rotate(31 306.6 244.1)" fill="#2a285c" opacity="0.90"/><ellipse cx="251.4" cy="264.4" rx="1.6" ry="0.9" transform="rotate(29 251.4 264.4)" fill="#2e2c66" opacity="0.64"/><ellipse cx="261.2" cy="219.8" rx="1.8" ry="1.2" transform="rotate(26 261.2 219.8)" fill="#201e48" opacity="0.55"/><ellipse cx="247.4" cy="230.3" rx="2.0" ry="1.5" transform="rotate(107 247.4 230.3)" fill="#2e2c66" opacity="0.88"/><ellipse cx="264.7" cy="208.8" rx="1.8" ry="1.0" transform="rotate(30 264.7 208.8)" fill="#24224f" opacity="0.64"/><ellipse cx="256.0" cy="196.3" rx="1.5" ry="1.1" transform="rotate(60 256.0 196.3)" fill="#2e2c66" opacity="0.76"/><ellipse cx="264.1" cy="271.0" rx="1.8" ry="0.9" transform="rotate(141 264.1 271.0)" fill="#2e2c66" opacity="0.64"/><ellipse cx="280.3" cy="279.4" rx="1.7" ry="1.1" transform="rotate(54 280.3 279.4)" fill="#24224f" opacity="0.88"/><ellipse cx="232.6" cy="225.2" rx="2.0" ry="1.5" transform="rotate(106 232.6 225.2)" fill="#2a285c" opacity="0.64"/><ellipse cx="311.3" cy="243.2" rx="1.7" ry="0.9" transform="rotate(21 311.3 243.2)" fill="#24224f" opacity="0.75"/><ellipse cx="297.7" cy="232.6" rx="1.6" ry="1.0" transform="rotate(4 297.7 232.6)" fill="#201e48" opacity="0.76"/><ellipse cx="265.2" cy="222.0" rx="1.7" ry="1.1" transform="rotate(141 265.2 222.0)" fill="#201e48" opacity="0.51"/><ellipse cx="297.0" cy="196.1" rx="2.0" ry="1.4" transform="rotate(2 297.0 196.1)" fill="#201e48" opacity="0.62"/><ellipse cx="267.0" cy="281.3" rx="1.7" ry="0.9" transform="rotate(38 267.0 281.3)" fill="#2a285c" opacity="0.56"/><ellipse cx="240.7" cy="195.1" rx="1.6" ry="1.1" transform="rotate(130 240.7 195.1)" fill="#24224f" opacity="0.88"/><ellipse cx="272.5" cy="279.6" rx="1.5" ry="1.1" transform="rotate(78 272.5 279.6)" fill="#2a285c" opacity="0.52"/><ellipse cx="267.2" cy="260.9" rx="1.7" ry="1.2" transform="rotate(128 267.2 260.9)" fill="#2a285c" opacity="0.74"/><ellipse cx="314.4" cy="193.2" rx="1.4" ry="0.8" transform="rotate(4 314.4 193.2)" fill="#2a285c" opacity="0.54"/><ellipse cx="234.2" cy="207.2" rx="1.8" ry="1.3" transform="rotate(175 234.2 207.2)" fill="#201e48" opacity="0.55"/><ellipse cx="302.6" cy="221.3" rx="1.7" ry="1.1" transform="rotate(87 302.6 221.3)" fill="#24224f" opacity="0.90"/><ellipse cx="287.8" cy="206.6" rx="1.5" ry="0.8" transform="rotate(63 287.8 206.6)" fill="#24224f" opacity="0.68"/><ellipse cx="279.5" cy="278.0" rx="1.9" ry="1.3" transform="rotate(159 279.5 278.0)" fill="#24224f" opacity="0.68"/><ellipse cx="305.0" cy="248.2" rx="1.6" ry="1.0" transform="rotate(170 305.0 248.2)" fill="#24224f" opacity="0.87"/><ellipse cx="273.5" cy="203.4" rx="1.5" ry="0.9" transform="rotate(124 273.5 203.4)" fill="#24224f" opacity="0.70"/><ellipse cx="309.1" cy="258.1" rx="2.1" ry="1.5" transform="rotate(65 309.1 258.1)" fill="#2a285c" opacity="0.73"/><ellipse cx="290.0" cy="229.4" rx="2.1" ry="1.6" transform="rotate(167 290.0 229.4)" fill="#2a285c" opacity="0.63"/><ellipse cx="255.4" cy="215.8" rx="2.0" ry="1.5" transform="rotate(142 255.4 215.8)" fill="#24224f" opacity="0.90"/><ellipse cx="286.0" cy="220.6" rx="1.9" ry="1.1" transform="rotate(110 286.0 220.6)" fill="#2a285c" opacity="0.73"/><ellipse cx="272.0" cy="282.5" rx="2.0" ry="1.6" transform="rotate(89 272.0 282.5)" fill="#24224f" opacity="0.56"/><ellipse cx="293.2" cy="245.5" rx="2.0" ry="1.4" transform="rotate(77 293.2 245.5)" fill="#24224f" opacity="0.53"/><ellipse cx="294.8" cy="199.6" rx="1.6" ry="0.9" transform="rotate(157 294.8 199.6)" fill="#2e2c66" opacity="0.85"/><ellipse cx="298.0" cy="197.4" rx="1.7" ry="1.0" transform="rotate(6 298.0 197.4)" fill="#201e48" opacity="0.59"/><ellipse cx="282.7" cy="216.7" rx="1.7" ry="1.3" transform="rotate(170 282.7 216.7)" fill="#2e2c66" opacity="0.81"/><ellipse cx="286.5" cy="252.8" rx="1.6" ry="1.1" transform="rotate(57 286.5 252.8)" fill="#2e2c66" opacity="0.88"/><ellipse cx="222.9" cy="271.2" rx="2.0" ry="1.2" transform="rotate(108 222.9 271.2)" fill="#2a285c" opacity="0.64"/><ellipse cx="302.1" cy="273.3" rx="1.6" ry="1.0" transform="rotate(80 302.1 273.3)" fill="#24224f" opacity="0.53"/><ellipse cx="302.1" cy="276.8" rx="1.4" ry="0.9" transform="rotate(84 302.1 276.8)" fill="#24224f" opacity="0.79"/><ellipse cx="252.1" cy="280.6" rx="1.5" ry="0.8" transform="rotate(147 252.1 280.6)" fill="#24224f" opacity="0.76"/><ellipse cx="300.8" cy="214.9" rx="1.5" ry="1.2" transform="rotate(40 300.8 214.9)" fill="#2a285c" opacity="0.60"/><ellipse cx="308.1" cy="211.1" rx="2.0" ry="1.4" transform="rotate(175 308.1 211.1)" fill="#24224f" opacity="0.75"/><ellipse cx="270.7" cy="273.0" rx="1.7" ry="0.9" transform="rotate(164 270.7 273.0)" fill="#201e48" opacity="0.77"/><ellipse cx="291.6" cy="212.2" rx="1.7" ry="1.3" transform="rotate(173 291.6 212.2)" fill="#201e48" opacity="0.56"/><ellipse cx="285.6" cy="243.6" rx="1.7" ry="0.9" transform="rotate(25 285.6 243.6)" fill="#2e2c66" opacity="0.69"/><ellipse cx="310.1" cy="244.5" rx="1.5" ry="1.0" transform="rotate(175 310.1 244.5)" fill="#201e48" opacity="0.56"/><ellipse cx="305.5" cy="225.4" rx="2.1" ry="1.6" transform="rotate(25 305.5 225.4)" fill="#201e48" opacity="0.89"/><ellipse cx="256.2" cy="243.0" rx="1.6" ry="0.8" transform="rotate(37 256.2 243.0)" fill="#24224f" opacity="0.88"/><ellipse cx="263.1" cy="225.6" rx="1.9" ry="1.5" transform="rotate(125 263.1 225.6)" fill="#2e2c66" opacity="0.88"/><ellipse cx="280.7" cy="242.6" rx="2.0" ry="1.4" transform="rotate(65 280.7 242.6)" fill="#2a285c" opacity="0.62"/><ellipse cx="313.7" cy="213.4" rx="2.1" ry="1.1" transform="rotate(2 313.7 213.4)" fill="#24224f" opacity="0.58"/><ellipse cx="268.2" cy="201.0" rx="2.0" ry="1.4" transform="rotate(123 268.2 201.0)" fill="#24224f" opacity="0.90"/></g>
</g>
<clipPath id="mc10"><rect x="13.0" y="305.3" width="99.4" height="98.7"/></clipPath>
<g clip-path="url(#mc10)"><rect x="13.0" y="305.3" width="99.4" height="98.7" fill="#0a0a0c"/>
<g filter="url(#bl8)"><ellipse cx="80.2" cy="375.5" rx="1.5" ry="0.8" transform="rotate(77 80.2 375.5)" fill="#2e2c6a" opacity="0.58"/><ellipse cx="69.4" cy="306.7" rx="1.9" ry="1.4" transform="rotate(106 69.4 306.7)" fill="#34326f" opacity="0.46"/><ellipse cx="33.4" cy="323.3" rx="2.2" ry="1.2" transform="rotate(168 33.4 323.3)" fill="#2e2c6a" opacity="0.68"/><ellipse cx="86.3" cy="399.2" rx="2.1" ry="1.3" transform="rotate(179 86.3 399.2)" fill="#2c2a64" opacity="0.48"/><ellipse cx="95.2" cy="401.7" rx="1.6" ry="1.2" transform="rotate(49 95.2 401.7)" fill="#34326f" opacity="0.62"/><ellipse cx="99.2" cy="308.0" rx="1.5" ry="0.8" transform="rotate(77 99.2 308.0)" fill="#36348a" opacity="0.51"/><ellipse cx="84.9" cy="359.7" rx="1.8" ry="1.4" transform="rotate(46 84.9 359.7)" fill="#34326f" opacity="0.52"/><ellipse cx="28.4" cy="316.6" rx="2.2" ry="1.2" transform="rotate(56 28.4 316.6)" fill="#2c2a64" opacity="0.67"/><ellipse cx="54.1" cy="358.9" rx="1.5" ry="0.8" transform="rotate(76 54.1 358.9)" fill="#34326f" opacity="0.82"/><ellipse cx="14.1" cy="393.3" rx="1.8" ry="1.3" transform="rotate(150 14.1 393.3)" fill="#36348a" opacity="0.62"/><ellipse cx="60.4" cy="309.9" rx="2.4" ry="1.9" transform="rotate(9 60.4 309.9)" fill="#34326f" opacity="0.82"/><ellipse cx="72.9" cy="323.5" rx="1.6" ry="0.8" transform="rotate(60 72.9 323.5)" fill="#2c2a64" opacity="0.59"/><ellipse cx="21.3" cy="379.5" rx="1.6" ry="1.1" transform="rotate(80 21.3 379.5)" fill="#34326f" opacity="0.52"/><ellipse cx="56.0" cy="396.8" rx="1.6" ry="1.0" transform="rotate(167 56.0 396.8)" fill="#2c2a64" opacity="0.65"/><ellipse cx="110.9" cy="377.6" rx="2.2" ry="1.6" transform="rotate(142 110.9 377.6)" fill="#2e2c6a" opacity="0.65"/><ellipse cx="46.5" cy="315.8" rx="2.2" ry="1.6" transform="rotate(92 46.5 315.8)" fill="#34326f" opacity="0.54"/><ellipse cx="34.1" cy="331.1" rx="1.9" ry="1.1" transform="rotate(84 34.1 331.1)" fill="#34326f" opacity="0.71"/><ellipse cx="23.4" cy="345.7" rx="2.0" ry="1.2" transform="rotate(66 23.4 345.7)" fill="#34326f" opacity="0.56"/><ellipse cx="79.5" cy="327.5" rx="1.9" ry="1.3" transform="rotate(78 79.5 327.5)" fill="#34326f" opacity="0.48"/><ellipse cx="19.1" cy="324.5" rx="1.7" ry="1.2" transform="rotate(69 19.1 324.5)" fill="#36348a" opacity="0.55"/><ellipse cx="23.3" cy="396.2" rx="2.0" ry="1.3" transform="rotate(11 23.3 396.2)" fill="#36348a" opacity="0.50"/><ellipse cx="20.1" cy="348.5" rx="2.1" ry="1.1" transform="rotate(33 20.1 348.5)" fill="#2c2a64" opacity="0.77"/><ellipse cx="91.3" cy="313.1" rx="2.2" ry="1.3" transform="rotate(40 91.3 313.1)" fill="#2e2c6a" opacity="0.59"/><ellipse cx="81.9" cy="341.6" rx="2.1" ry="1.2" transform="rotate(176 81.9 341.6)" fill="#36348a" opacity="0.52"/><ellipse cx="26.5" cy="358.9" rx="1.9" ry="1.1" transform="rotate(163 26.5 358.9)" fill="#2e2c6a" opacity="0.74"/><ellipse cx="24.8" cy="343.0" rx="2.1" ry="1.1" transform="rotate(8 24.8 343.0)" fill="#2e2c6a" opacity="0.48"/><ellipse cx="43.6" cy="363.5" rx="2.3" ry="1.6" transform="rotate(101 43.6 363.5)" fill="#36348a" opacity="0.84"/><ellipse cx="76.9" cy="398.4" rx="2.0" ry="1.1" transform="rotate(93 76.9 398.4)" fill="#36348a" opacity="0.74"/><ellipse cx="25.9" cy="340.5" rx="2.0" ry="1.6" transform="rotate(112 25.9 340.5)" fill="#34326f" opacity="0.65"/><ellipse cx="54.7" cy="370.7" rx="1.7" ry="1.1" transform="rotate(50 54.7 370.7)" fill="#36348a" opacity="0.76"/><ellipse cx="64.4" cy="330.1" rx="2.3" ry="1.5" transform="rotate(68 64.4 330.1)" fill="#2e2c6a" opacity="0.57"/><ellipse cx="95.2" cy="308.9" rx="1.7" ry="1.0" transform="rotate(123 95.2 308.9)" fill="#36348a" opacity="0.79"/><ellipse cx="83.3" cy="350.3" rx="1.6" ry="1.0" transform="rotate(118 83.3 350.3)" fill="#34326f" opacity="0.84"/><ellipse cx="56.0" cy="377.6" rx="1.7" ry="1.1" transform="rotate(3 56.0 377.6)" fill="#2c2a64" opacity="0.59"/><ellipse cx="53.8" cy="348.5" rx="2.0" ry="1.6" transform="rotate(156 53.8 348.5)" fill="#2e2c6a" opacity="0.77"/><ellipse cx="36.1" cy="338.7" rx="1.6" ry="1.2" transform="rotate(133 36.1 338.7)" fill="#36348a" opacity="0.49"/><ellipse cx="32.9" cy="393.4" rx="1.5" ry="0.8" transform="rotate(61 32.9 393.4)" fill="#36348a" opacity="0.80"/><ellipse cx="56.7" cy="347.0" rx="1.8" ry="1.4" transform="rotate(33 56.7 347.0)" fill="#34326f" opacity="0.59"/><ellipse cx="19.5" cy="371.7" rx="1.7" ry="0.9" transform="rotate(31 19.5 371.7)" fill="#2c2a64" opacity="0.62"/><ellipse cx="32.4" cy="381.3" rx="1.8" ry="1.0" transform="rotate(163 32.4 381.3)" fill="#36348a" opacity="0.65"/><ellipse cx="111.4" cy="402.4" rx="2.4" ry="1.5" transform="rotate(33 111.4 402.4)" fill="#2c2a64" opacity="0.74"/><ellipse cx="24.7" cy="337.2" rx="1.6" ry="0.8" transform="rotate(129 24.7 337.2)" fill="#34326f" opacity="0.46"/><ellipse cx="79.9" cy="365.5" rx="1.8" ry="1.0" transform="rotate(154 79.9 365.5)" fill="#34326f" opacity="0.54"/><ellipse cx="71.2" cy="361.9" rx="1.8" ry="0.9" transform="rotate(59 71.2 361.9)" fill="#2c2a64" opacity="0.65"/><ellipse cx="25.5" cy="326.6" rx="1.8" ry="1.1" transform="rotate(65 25.5 326.6)" fill="#34326f" opacity="0.50"/><ellipse cx="110.6" cy="329.3" rx="2.3" ry="1.3" transform="rotate(106 110.6 329.3)" fill="#36348a" opacity="0.70"/><ellipse cx="64.6" cy="359.5" rx="1.8" ry="1.1" transform="rotate(129 64.6 359.5)" fill="#36348a" opacity="0.84"/><ellipse cx="18.9" cy="343.0" rx="1.7" ry="1.2" transform="rotate(140 18.9 343.0)" fill="#36348a" opacity="0.67"/><ellipse cx="51.6" cy="383.9" rx="1.6" ry="0.9" transform="rotate(135 51.6 383.9)" fill="#36348a" opacity="0.83"/><ellipse cx="99.9" cy="336.2" rx="2.3" ry="1.6" transform="rotate(12 99.9 336.2)" fill="#2c2a64" opacity="0.52"/><ellipse cx="14.0" cy="345.9" rx="1.9" ry="1.5" transform="rotate(63 14.0 345.9)" fill="#2e2c6a" opacity="0.84"/><ellipse cx="30.2" cy="355.7" rx="1.9" ry="1.2" transform="rotate(155 30.2 355.7)" fill="#34326f" opacity="0.54"/><ellipse cx="51.6" cy="388.6" rx="2.0" ry="1.4" transform="rotate(49 51.6 388.6)" fill="#2c2a64" opacity="0.70"/><ellipse cx="84.0" cy="388.2" rx="1.8" ry="1.5" transform="rotate(116 84.0 388.2)" fill="#34326f" opacity="0.58"/><ellipse cx="96.6" cy="338.9" rx="1.9" ry="1.5" transform="rotate(65 96.6 338.9)" fill="#36348a" opacity="0.45"/><ellipse cx="111.7" cy="325.1" rx="2.0" ry="1.2" transform="rotate(47 111.7 325.1)" fill="#34326f" opacity="0.77"/><ellipse cx="58.5" cy="387.1" rx="1.8" ry="1.3" transform="rotate(5 58.5 387.1)" fill="#34326f" opacity="0.80"/><ellipse cx="45.1" cy="345.0" rx="1.5" ry="1.0" transform="rotate(144 45.1 345.0)" fill="#34326f" opacity="0.48"/><ellipse cx="30.7" cy="324.0" rx="2.2" ry="1.5" transform="rotate(126 30.7 324.0)" fill="#34326f" opacity="0.71"/><ellipse cx="99.1" cy="334.2" rx="2.0" ry="1.4" transform="rotate(132 99.1 334.2)" fill="#2c2a64" opacity="0.50"/><ellipse cx="43.9" cy="372.1" rx="2.0" ry="1.4" transform="rotate(140 43.9 372.1)" fill="#34326f" opacity="0.72"/><ellipse cx="86.6" cy="337.0" rx="1.6" ry="1.2" transform="rotate(89 86.6 337.0)" fill="#34326f" opacity="0.78"/><ellipse cx="77.7" cy="316.2" rx="2.1" ry="1.0" transform="rotate(168 77.7 316.2)" fill="#34326f" opacity="0.56"/><ellipse cx="96.7" cy="323.1" rx="2.2" ry="1.5" transform="rotate(3 96.7 323.1)" fill="#34326f" opacity="0.63"/><ellipse cx="95.2" cy="373.1" rx="2.0" ry="1.5" transform="rotate(37 95.2 373.1)" fill="#2e2c6a" opacity="0.69"/><ellipse cx="26.5" cy="342.2" rx="2.3" ry="1.2" transform="rotate(130 26.5 342.2)" fill="#2c2a64" opacity="0.51"/><ellipse cx="42.3" cy="333.0" rx="2.3" ry="1.8" transform="rotate(157 42.3 333.0)" fill="#36348a" opacity="0.69"/><ellipse cx="109.0" cy="359.8" rx="1.5" ry="0.8" transform="rotate(52 109.0 359.8)" fill="#2e2c6a" opacity="0.49"/><ellipse cx="104.5" cy="359.7" rx="2.1" ry="1.6" transform="rotate(26 104.5 359.7)" fill="#36348a" opacity="0.60"/><ellipse cx="92.8" cy="386.8" rx="2.3" ry="1.3" transform="rotate(49 92.8 386.8)" fill="#34326f" opacity="0.50"/><ellipse cx="43.6" cy="310.3" rx="1.6" ry="1.0" transform="rotate(142 43.6 310.3)" fill="#36348a" opacity="0.65"/><ellipse cx="62.8" cy="308.4" rx="2.2" ry="1.6" transform="rotate(158 62.8 308.4)" fill="#2e2c6a" opacity="0.61"/><ellipse cx="29.2" cy="354.3" rx="2.3" ry="1.8" transform="rotate(28 29.2 354.3)" fill="#34326f" opacity="0.62"/><ellipse cx="31.7" cy="400.6" rx="1.7" ry="1.3" transform="rotate(118 31.7 400.6)" fill="#34326f" opacity="0.59"/><ellipse cx="93.4" cy="315.0" rx="1.7" ry="1.2" transform="rotate(87 93.4 315.0)" fill="#36348a" opacity="0.69"/><ellipse cx="96.3" cy="336.6" rx="2.2" ry="1.7" transform="rotate(54 96.3 336.6)" fill="#34326f" opacity="0.67"/><ellipse cx="72.7" cy="367.0" rx="1.6" ry="1.2" transform="rotate(53 72.7 367.0)" fill="#2c2a64" opacity="0.76"/><ellipse cx="80.2" cy="385.4" rx="1.9" ry="1.3" transform="rotate(172 80.2 385.4)" fill="#34326f" opacity="0.79"/><ellipse cx="28.9" cy="322.6" rx="2.3" ry="1.4" transform="rotate(116 28.9 322.6)" fill="#36348a" opacity="0.61"/><ellipse cx="28.2" cy="323.7" rx="2.0" ry="1.1" transform="rotate(86 28.2 323.7)" fill="#34326f" opacity="0.63"/><ellipse cx="63.1" cy="387.6" rx="1.5" ry="1.2" transform="rotate(36 63.1 387.6)" fill="#2c2a64" opacity="0.81"/><ellipse cx="77.1" cy="315.8" rx="1.9" ry="1.4" transform="rotate(177 77.1 315.8)" fill="#34326f" opacity="0.83"/><ellipse cx="30.4" cy="339.7" rx="1.6" ry="1.2" transform="rotate(177 30.4 339.7)" fill="#34326f" opacity="0.73"/><ellipse cx="28.6" cy="359.6" rx="2.2" ry="1.1" transform="rotate(151 28.6 359.6)" fill="#2c2a64" opacity="0.53"/><ellipse cx="33.8" cy="330.8" rx="2.3" ry="1.3" transform="rotate(33 33.8 330.8)" fill="#2c2a64" opacity="0.57"/><ellipse cx="58.9" cy="342.1" rx="2.2" ry="1.6" transform="rotate(21 58.9 342.1)" fill="#34326f" opacity="0.80"/><ellipse cx="24.8" cy="379.0" rx="1.9" ry="1.2" transform="rotate(4 24.8 379.0)" fill="#34326f" opacity="0.53"/><ellipse cx="17.1" cy="379.8" rx="1.9" ry="1.5" transform="rotate(71 17.1 379.8)" fill="#2e2c6a" opacity="0.62"/><ellipse cx="74.4" cy="384.7" rx="2.2" ry="1.5" transform="rotate(105 74.4 384.7)" fill="#36348a" opacity="0.56"/><ellipse cx="95.0" cy="394.3" rx="2.2" ry="1.3" transform="rotate(9 95.0 394.3)" fill="#34326f" opacity="0.63"/><ellipse cx="70.1" cy="329.7" rx="2.0" ry="1.5" transform="rotate(14 70.1 329.7)" fill="#2e2c6a" opacity="0.81"/><ellipse cx="55.9" cy="306.7" rx="1.7" ry="1.1" transform="rotate(28 55.9 306.7)" fill="#34326f" opacity="0.64"/><ellipse cx="26.4" cy="335.1" rx="2.1" ry="1.5" transform="rotate(37 26.4 335.1)" fill="#36348a" opacity="0.71"/><ellipse cx="78.2" cy="307.9" rx="1.9" ry="1.1" transform="rotate(107 78.2 307.9)" fill="#2e2c6a" opacity="0.48"/><ellipse cx="18.3" cy="313.5" rx="1.5" ry="0.9" transform="rotate(143 18.3 313.5)" fill="#34326f" opacity="0.50"/></g>
<g filter="url(#bl4)"><ellipse cx="85.4" cy="312.5" rx="1.5" ry="0.7" transform="rotate(130 85.4 312.5)" fill="#2f55d8" opacity="0.85"/><ellipse cx="74.1" cy="368.0" rx="1.4" ry="1.1" transform="rotate(21 74.1 368.0)" fill="#3248c8" opacity="0.71"/><ellipse cx="108.7" cy="343.2" rx="1.2" ry="0.7" transform="rotate(174 108.7 343.2)" fill="#2f55d8" opacity="0.77"/><ellipse cx="83.6" cy="342.8" rx="1.3" ry="0.8" transform="rotate(150 83.6 342.8)" fill="#3050d8" opacity="0.83"/><ellipse cx="39.3" cy="396.1" rx="1.1" ry="0.7" transform="rotate(110 39.3 396.1)" fill="#2f55d8" opacity="0.65"/><ellipse cx="64.6" cy="347.4" rx="1.5" ry="1.1" transform="rotate(43 64.6 347.4)" fill="#3050d8" opacity="0.75"/><ellipse cx="16.8" cy="349.2" rx="1.5" ry="0.9" transform="rotate(106 16.8 349.2)" fill="#3050d8" opacity="0.64"/><ellipse cx="92.2" cy="345.4" rx="1.3" ry="0.9" transform="rotate(146 92.2 345.4)" fill="#2f55d8" opacity="0.64"/><ellipse cx="60.1" cy="307.3" rx="1.1" ry="0.6" transform="rotate(15 60.1 307.3)" fill="#3050d8" opacity="0.79"/><ellipse cx="73.0" cy="312.7" rx="1.1" ry="0.9" transform="rotate(79 73.0 312.7)" fill="#3a5ae0" opacity="0.71"/><ellipse cx="108.4" cy="360.8" rx="1.5" ry="1.0" transform="rotate(118 108.4 360.8)" fill="#2f55d8" opacity="0.81"/><ellipse cx="98.4" cy="315.6" rx="1.0" ry="0.7" transform="rotate(106 98.4 315.6)" fill="#2f55d8" opacity="0.84"/><ellipse cx="42.0" cy="361.9" rx="1.0" ry="0.6" transform="rotate(59 42.0 361.9)" fill="#2f55d8" opacity="0.82"/><ellipse cx="63.6" cy="315.0" rx="1.3" ry="0.8" transform="rotate(66 63.6 315.0)" fill="#2f55d8" opacity="0.78"/><ellipse cx="63.1" cy="376.1" rx="1.2" ry="0.7" transform="rotate(161 63.1 376.1)" fill="#2f55d8" opacity="0.81"/><ellipse cx="72.4" cy="329.3" rx="1.2" ry="0.8" transform="rotate(170 72.4 329.3)" fill="#3a5ae0" opacity="0.65"/><ellipse cx="67.4" cy="318.3" rx="1.4" ry="0.7" transform="rotate(46 67.4 318.3)" fill="#3a5ae0" opacity="0.73"/><ellipse cx="81.4" cy="396.6" rx="1.2" ry="0.7" transform="rotate(117 81.4 396.6)" fill="#2f55d8" opacity="0.83"/><ellipse cx="23.8" cy="352.3" rx="1.3" ry="0.9" transform="rotate(8 23.8 352.3)" fill="#3a5ae0" opacity="0.94"/><ellipse cx="52.1" cy="372.7" rx="1.1" ry="0.8" transform="rotate(101 52.1 372.7)" fill="#2f55d8" opacity="0.74"/><ellipse cx="69.5" cy="356.2" rx="1.1" ry="0.9" transform="rotate(174 69.5 356.2)" fill="#2f55d8" opacity="0.95"/><ellipse cx="59.3" cy="387.8" rx="1.1" ry="0.8" transform="rotate(129 59.3 387.8)" fill="#3a5ae0" opacity="0.89"/><ellipse cx="100.0" cy="332.0" rx="1.4" ry="0.9" transform="rotate(56 100.0 332.0)" fill="#2f55d8" opacity="0.94"/><ellipse cx="101.1" cy="323.8" rx="1.3" ry="0.7" transform="rotate(16 101.1 323.8)" fill="#3a5ae0" opacity="0.77"/><ellipse cx="98.6" cy="357.1" rx="1.1" ry="0.7" transform="rotate(176 98.6 357.1)" fill="#2f55d8" opacity="0.94"/><ellipse cx="41.9" cy="313.8" rx="1.1" ry="0.9" transform="rotate(171 41.9 313.8)" fill="#3a5ae0" opacity="0.73"/><ellipse cx="14.7" cy="390.0" rx="1.2" ry="0.6" transform="rotate(173 14.7 390.0)" fill="#3a5ae0" opacity="0.74"/><ellipse cx="37.2" cy="363.8" rx="1.2" ry="0.8" transform="rotate(120 37.2 363.8)" fill="#3050d8" opacity="0.69"/><ellipse cx="41.7" cy="400.6" rx="1.2" ry="0.9" transform="rotate(160 41.7 400.6)" fill="#3050d8" opacity="0.87"/><ellipse cx="71.6" cy="367.2" rx="1.3" ry="1.0" transform="rotate(87 71.6 367.2)" fill="#3a5ae0" opacity="0.88"/><ellipse cx="28.7" cy="358.5" rx="1.1" ry="0.7" transform="rotate(34 28.7 358.5)" fill="#2f55d8" opacity="0.81"/><ellipse cx="104.2" cy="385.2" rx="1.3" ry="0.8" transform="rotate(167 104.2 385.2)" fill="#2f55d8" opacity="0.78"/><ellipse cx="17.3" cy="330.6" rx="1.4" ry="1.1" transform="rotate(47 17.3 330.6)" fill="#2f55d8" opacity="0.93"/><ellipse cx="90.0" cy="349.3" rx="1.2" ry="0.9" transform="rotate(57 90.0 349.3)" fill="#3050d8" opacity="0.84"/><ellipse cx="30.7" cy="316.9" rx="1.4" ry="1.0" transform="rotate(127 30.7 316.9)" fill="#3a5ae0" opacity="0.65"/><ellipse cx="62.0" cy="338.5" rx="1.5" ry="1.2" transform="rotate(80 62.0 338.5)" fill="#3050d8" opacity="0.82"/><ellipse cx="30.6" cy="400.7" rx="1.1" ry="0.6" transform="rotate(81 30.6 400.7)" fill="#3050d8" opacity="0.91"/><ellipse cx="86.6" cy="355.1" rx="1.0" ry="0.6" transform="rotate(25 86.6 355.1)" fill="#3050d8" opacity="0.81"/><ellipse cx="36.9" cy="335.6" rx="1.2" ry="0.8" transform="rotate(116 36.9 335.6)" fill="#3050d8" opacity="0.71"/><ellipse cx="73.2" cy="403.2" rx="1.1" ry="0.7" transform="rotate(2 73.2 403.2)" fill="#3050d8" opacity="0.89"/></g>
</g>
<clipPath id="mc11"><rect x="115.2" y="305.3" width="99.6" height="98.7"/></clipPath>
<g clip-path="url(#mc11)"><rect x="115.2" y="305.3" width="99.6" height="98.7" fill="#0a0a0c"/>
<g filter="url(#bl8)"><ellipse cx="199.8" cy="389.7" rx="1.9" ry="1.3" transform="rotate(67 199.8 389.7)" fill="#2c2a64" opacity="0.68"/><ellipse cx="172.9" cy="307.0" rx="1.8" ry="1.1" transform="rotate(112 172.9 307.0)" fill="#2c2a64" opacity="0.65"/><ellipse cx="167.7" cy="315.9" rx="1.6" ry="1.1" transform="rotate(90 167.7 315.9)" fill="#36348a" opacity="0.77"/><ellipse cx="174.7" cy="317.1" rx="2.0" ry="1.6" transform="rotate(178 174.7 317.1)" fill="#2e2c6a" opacity="0.47"/><ellipse cx="202.3" cy="370.8" rx="1.7" ry="1.4" transform="rotate(149 202.3 370.8)" fill="#34326f" opacity="0.59"/><ellipse cx="161.9" cy="315.9" rx="2.1" ry="1.4" transform="rotate(9 161.9 315.9)" fill="#2e2c6a" opacity="0.67"/><ellipse cx="207.2" cy="361.2" rx="2.3" ry="1.6" transform="rotate(179 207.2 361.2)" fill="#2c2a64" opacity="0.62"/><ellipse cx="202.7" cy="367.8" rx="2.0" ry="1.1" transform="rotate(132 202.7 367.8)" fill="#2e2c6a" opacity="0.70"/><ellipse cx="168.3" cy="374.7" rx="2.4" ry="1.2" transform="rotate(58 168.3 374.7)" fill="#2c2a64" opacity="0.76"/><ellipse cx="139.8" cy="394.7" rx="1.6" ry="1.0" transform="rotate(132 139.8 394.7)" fill="#34326f" opacity="0.75"/><ellipse cx="186.5" cy="401.5" rx="2.2" ry="1.5" transform="rotate(26 186.5 401.5)" fill="#2c2a64" opacity="0.55"/><ellipse cx="166.6" cy="343.5" rx="1.8" ry="1.3" transform="rotate(31 166.6 343.5)" fill="#2e2c6a" opacity="0.82"/><ellipse cx="117.5" cy="332.2" rx="1.9" ry="1.5" transform="rotate(29 117.5 332.2)" fill="#2c2a64" opacity="0.61"/><ellipse cx="169.7" cy="396.5" rx="1.6" ry="0.9" transform="rotate(28 169.7 396.5)" fill="#34326f" opacity="0.82"/><ellipse cx="169.1" cy="309.7" rx="2.3" ry="1.7" transform="rotate(83 169.1 309.7)" fill="#34326f" opacity="0.64"/><ellipse cx="198.2" cy="317.6" rx="2.3" ry="1.3" transform="rotate(55 198.2 317.6)" fill="#2c2a64" opacity="0.47"/><ellipse cx="205.7" cy="331.0" rx="2.3" ry="1.3" transform="rotate(79 205.7 331.0)" fill="#2e2c6a" opacity="0.84"/><ellipse cx="128.5" cy="323.9" rx="2.1" ry="1.3" transform="rotate(26 128.5 323.9)" fill="#36348a" opacity="0.56"/><ellipse cx="140.5" cy="358.8" rx="1.6" ry="1.2" transform="rotate(160 140.5 358.8)" fill="#34326f" opacity="0.73"/><ellipse cx="117.7" cy="391.1" rx="1.7" ry="1.0" transform="rotate(1 117.7 391.1)" fill="#2e2c6a" opacity="0.49"/><ellipse cx="143.5" cy="381.2" rx="1.9" ry="1.4" transform="rotate(29 143.5 381.2)" fill="#2c2a64" opacity="0.49"/><ellipse cx="155.3" cy="323.4" rx="1.7" ry="1.3" transform="rotate(1 155.3 323.4)" fill="#36348a" opacity="0.48"/><ellipse cx="140.0" cy="370.6" rx="2.3" ry="1.4" transform="rotate(81 140.0 370.6)" fill="#2c2a64" opacity="0.61"/><ellipse cx="135.5" cy="363.2" rx="1.9" ry="1.1" transform="rotate(82 135.5 363.2)" fill="#2e2c6a" opacity="0.73"/><ellipse cx="128.2" cy="343.4" rx="1.8" ry="1.0" transform="rotate(133 128.2 343.4)" fill="#34326f" opacity="0.62"/><ellipse cx="159.5" cy="324.1" rx="2.3" ry="1.7" transform="rotate(55 159.5 324.1)" fill="#2c2a64" opacity="0.83"/><ellipse cx="160.0" cy="361.2" rx="2.3" ry="1.3" transform="rotate(47 160.0 361.2)" fill="#2c2a64" opacity="0.54"/><ellipse cx="184.8" cy="368.4" rx="2.0" ry="1.1" transform="rotate(1 184.8 368.4)" fill="#36348a" opacity="0.78"/><ellipse cx="210.8" cy="339.3" rx="2.1" ry="1.4" transform="rotate(130 210.8 339.3)" fill="#2c2a64" opacity="0.82"/><ellipse cx="180.8" cy="335.9" rx="2.0" ry="1.2" transform="rotate(80 180.8 335.9)" fill="#36348a" opacity="0.57"/><ellipse cx="201.6" cy="381.5" rx="2.0" ry="1.4" transform="rotate(112 201.6 381.5)" fill="#34326f" opacity="0.82"/><ellipse cx="178.8" cy="391.0" rx="1.9" ry="1.5" transform="rotate(5 178.8 391.0)" fill="#36348a" opacity="0.60"/><ellipse cx="197.4" cy="326.7" rx="2.2" ry="1.4" transform="rotate(74 197.4 326.7)" fill="#34326f" opacity="0.73"/><ellipse cx="183.0" cy="314.9" rx="2.1" ry="1.7" transform="rotate(56 183.0 314.9)" fill="#34326f" opacity="0.62"/><ellipse cx="172.5" cy="392.8" rx="2.4" ry="1.6" transform="rotate(66 172.5 392.8)" fill="#2c2a64" opacity="0.54"/><ellipse cx="146.1" cy="317.0" rx="2.2" ry="1.6" transform="rotate(169 146.1 317.0)" fill="#2e2c6a" opacity="0.68"/><ellipse cx="178.1" cy="329.2" rx="2.1" ry="1.3" transform="rotate(178 178.1 329.2)" fill="#2e2c6a" opacity="0.55"/><ellipse cx="146.8" cy="354.0" rx="1.9" ry="1.5" transform="rotate(101 146.8 354.0)" fill="#34326f" opacity="0.71"/><ellipse cx="195.9" cy="311.3" rx="1.8" ry="0.9" transform="rotate(39 195.9 311.3)" fill="#36348a" opacity="0.76"/><ellipse cx="159.2" cy="358.3" rx="2.0" ry="1.0" transform="rotate(12 159.2 358.3)" fill="#34326f" opacity="0.73"/><ellipse cx="153.2" cy="395.6" rx="2.2" ry="1.3" transform="rotate(12 153.2 395.6)" fill="#2e2c6a" opacity="0.71"/><ellipse cx="137.8" cy="310.1" rx="1.9" ry="1.0" transform="rotate(133 137.8 310.1)" fill="#2e2c6a" opacity="0.60"/><ellipse cx="212.8" cy="331.9" rx="1.9" ry="1.1" transform="rotate(137 212.8 331.9)" fill="#2e2c6a" opacity="0.75"/><ellipse cx="128.9" cy="375.6" rx="2.2" ry="1.6" transform="rotate(12 128.9 375.6)" fill="#2e2c6a" opacity="0.84"/><ellipse cx="182.0" cy="357.8" rx="2.1" ry="1.1" transform="rotate(60 182.0 357.8)" fill="#34326f" opacity="0.70"/><ellipse cx="147.1" cy="306.7" rx="2.1" ry="1.3" transform="rotate(114 147.1 306.7)" fill="#2e2c6a" opacity="0.57"/><ellipse cx="138.6" cy="374.6" rx="1.8" ry="1.3" transform="rotate(63 138.6 374.6)" fill="#36348a" opacity="0.68"/><ellipse cx="196.1" cy="402.1" rx="1.8" ry="1.5" transform="rotate(2 196.1 402.1)" fill="#2c2a64" opacity="0.69"/><ellipse cx="184.0" cy="367.4" rx="2.1" ry="1.4" transform="rotate(78 184.0 367.4)" fill="#34326f" opacity="0.65"/><ellipse cx="119.3" cy="381.1" rx="1.7" ry="1.1" transform="rotate(0 119.3 381.1)" fill="#2e2c6a" opacity="0.57"/><ellipse cx="183.6" cy="319.2" rx="2.2" ry="1.6" transform="rotate(112 183.6 319.2)" fill="#34326f" opacity="0.56"/><ellipse cx="164.2" cy="323.8" rx="2.3" ry="1.8" transform="rotate(72 164.2 323.8)" fill="#2c2a64" opacity="0.49"/><ellipse cx="150.1" cy="377.1" rx="2.0" ry="1.1" transform="rotate(132 150.1 377.1)" fill="#2c2a64" opacity="0.60"/><ellipse cx="173.8" cy="399.9" rx="1.8" ry="1.3" transform="rotate(74 173.8 399.9)" fill="#36348a" opacity="0.83"/><ellipse cx="143.6" cy="379.1" rx="2.1" ry="1.4" transform="rotate(46 143.6 379.1)" fill="#2c2a64" opacity="0.54"/><ellipse cx="138.3" cy="382.0" rx="2.2" ry="1.3" transform="rotate(62 138.3 382.0)" fill="#2e2c6a" opacity="0.56"/><ellipse cx="166.3" cy="399.0" rx="1.6" ry="1.0" transform="rotate(115 166.3 399.0)" fill="#2e2c6a" opacity="0.50"/><ellipse cx="133.4" cy="330.2" rx="2.0" ry="1.3" transform="rotate(55 133.4 330.2)" fill="#2c2a64" opacity="0.59"/><ellipse cx="206.2" cy="383.1" rx="2.0" ry="1.3" transform="rotate(59 206.2 383.1)" fill="#34326f" opacity="0.55"/><ellipse cx="141.1" cy="373.2" rx="1.7" ry="1.0" transform="rotate(44 141.1 373.2)" fill="#34326f" opacity="0.73"/><ellipse cx="139.2" cy="358.1" rx="2.3" ry="1.4" transform="rotate(90 139.2 358.1)" fill="#2c2a64" opacity="0.53"/><ellipse cx="177.5" cy="347.3" rx="2.4" ry="1.3" transform="rotate(128 177.5 347.3)" fill="#2c2a64" opacity="0.48"/><ellipse cx="150.1" cy="353.2" rx="2.0" ry="1.5" transform="rotate(172 150.1 353.2)" fill="#2c2a64" opacity="0.66"/><ellipse cx="130.4" cy="342.5" rx="1.8" ry="1.2" transform="rotate(60 130.4 342.5)" fill="#2c2a64" opacity="0.82"/><ellipse cx="149.0" cy="344.7" rx="2.4" ry="1.4" transform="rotate(174 149.0 344.7)" fill="#36348a" opacity="0.53"/><ellipse cx="169.5" cy="397.8" rx="1.6" ry="1.2" transform="rotate(139 169.5 397.8)" fill="#34326f" opacity="0.69"/><ellipse cx="125.6" cy="399.4" rx="1.6" ry="1.2" transform="rotate(130 125.6 399.4)" fill="#2e2c6a" opacity="0.59"/><ellipse cx="123.4" cy="316.0" rx="2.0" ry="1.2" transform="rotate(113 123.4 316.0)" fill="#36348a" opacity="0.64"/><ellipse cx="195.8" cy="335.2" rx="2.0" ry="1.0" transform="rotate(88 195.8 335.2)" fill="#2c2a64" opacity="0.53"/><ellipse cx="149.6" cy="362.6" rx="1.7" ry="1.2" transform="rotate(11 149.6 362.6)" fill="#2c2a64" opacity="0.66"/><ellipse cx="199.1" cy="310.1" rx="1.6" ry="1.1" transform="rotate(88 199.1 310.1)" fill="#2e2c6a" opacity="0.56"/><ellipse cx="118.6" cy="396.0" rx="1.7" ry="0.9" transform="rotate(25 118.6 396.0)" fill="#34326f" opacity="0.75"/><ellipse cx="136.4" cy="320.1" rx="2.3" ry="1.6" transform="rotate(105 136.4 320.1)" fill="#34326f" opacity="0.64"/><ellipse cx="151.4" cy="393.5" rx="1.9" ry="1.3" transform="rotate(91 151.4 393.5)" fill="#2c2a64" opacity="0.65"/><ellipse cx="173.3" cy="388.7" rx="2.3" ry="1.4" transform="rotate(24 173.3 388.7)" fill="#36348a" opacity="0.52"/><ellipse cx="192.4" cy="345.3" rx="2.3" ry="1.5" transform="rotate(168 192.4 345.3)" fill="#2e2c6a" opacity="0.56"/><ellipse cx="139.3" cy="350.7" rx="2.1" ry="1.4" transform="rotate(160 139.3 350.7)" fill="#34326f" opacity="0.85"/><ellipse cx="136.9" cy="307.4" rx="1.8" ry="1.1" transform="rotate(22 136.9 307.4)" fill="#36348a" opacity="0.52"/><ellipse cx="124.8" cy="352.5" rx="2.3" ry="1.6" transform="rotate(158 124.8 352.5)" fill="#34326f" opacity="0.75"/><ellipse cx="145.4" cy="377.0" rx="1.7" ry="1.1" transform="rotate(107 145.4 377.0)" fill="#36348a" opacity="0.52"/><ellipse cx="149.6" cy="386.3" rx="2.2" ry="1.8" transform="rotate(21 149.6 386.3)" fill="#34326f" opacity="0.63"/><ellipse cx="127.3" cy="378.8" rx="1.8" ry="1.2" transform="rotate(170 127.3 378.8)" fill="#34326f" opacity="0.82"/><ellipse cx="179.6" cy="369.9" rx="2.0" ry="1.3" transform="rotate(136 179.6 369.9)" fill="#2c2a64" opacity="0.50"/><ellipse cx="157.7" cy="347.0" rx="1.9" ry="1.3" transform="rotate(65 157.7 347.0)" fill="#36348a" opacity="0.51"/><ellipse cx="141.5" cy="334.9" rx="2.0" ry="1.3" transform="rotate(58 141.5 334.9)" fill="#2c2a64" opacity="0.61"/><ellipse cx="160.0" cy="363.6" rx="1.8" ry="1.0" transform="rotate(3 160.0 363.6)" fill="#2c2a64" opacity="0.83"/><ellipse cx="143.9" cy="351.3" rx="1.8" ry="0.9" transform="rotate(161 143.9 351.3)" fill="#34326f" opacity="0.63"/><ellipse cx="197.1" cy="391.3" rx="2.3" ry="1.5" transform="rotate(21 197.1 391.3)" fill="#34326f" opacity="0.77"/><ellipse cx="200.8" cy="389.6" rx="1.6" ry="1.1" transform="rotate(177 200.8 389.6)" fill="#36348a" opacity="0.82"/><ellipse cx="211.2" cy="347.3" rx="1.7" ry="1.2" transform="rotate(80 211.2 347.3)" fill="#36348a" opacity="0.77"/><ellipse cx="208.1" cy="380.5" rx="1.6" ry="1.1" transform="rotate(1 208.1 380.5)" fill="#36348a" opacity="0.55"/><ellipse cx="207.3" cy="377.1" rx="1.6" ry="0.9" transform="rotate(62 207.3 377.1)" fill="#2e2c6a" opacity="0.49"/><ellipse cx="176.0" cy="388.4" rx="2.2" ry="1.4" transform="rotate(174 176.0 388.4)" fill="#2c2a64" opacity="0.58"/><ellipse cx="175.5" cy="316.6" rx="1.9" ry="1.3" transform="rotate(115 175.5 316.6)" fill="#2e2c6a" opacity="0.79"/><ellipse cx="159.9" cy="337.3" rx="1.7" ry="1.3" transform="rotate(96 159.9 337.3)" fill="#34326f" opacity="0.81"/></g>
<g filter="url(#bl4)"><ellipse cx="166.5" cy="330.7" rx="1.3" ry="0.8" transform="rotate(141 166.5 330.7)" fill="#3a5ae0" opacity="0.70"/><ellipse cx="184.8" cy="326.6" rx="1.3" ry="0.9" transform="rotate(80 184.8 326.6)" fill="#3a5ae0" opacity="0.85"/><ellipse cx="132.8" cy="385.8" rx="1.2" ry="0.9" transform="rotate(177 132.8 385.8)" fill="#3a5ae0" opacity="0.87"/><ellipse cx="204.8" cy="347.4" rx="1.5" ry="0.8" transform="rotate(176 204.8 347.4)" fill="#2f55d8" opacity="0.84"/><ellipse cx="153.3" cy="332.3" rx="1.1" ry="0.8" transform="rotate(65 153.3 332.3)" fill="#3248c8" opacity="0.78"/><ellipse cx="174.6" cy="319.2" rx="1.3" ry="1.1" transform="rotate(139 174.6 319.2)" fill="#2f55d8" opacity="0.60"/><ellipse cx="185.8" cy="348.1" rx="1.0" ry="0.6" transform="rotate(38 185.8 348.1)" fill="#2f55d8" opacity="0.79"/><ellipse cx="147.9" cy="330.1" rx="1.1" ry="0.7" transform="rotate(62 147.9 330.1)" fill="#3050d8" opacity="0.84"/><ellipse cx="203.0" cy="369.7" rx="1.1" ry="0.5" transform="rotate(30 203.0 369.7)" fill="#2f55d8" opacity="0.90"/><ellipse cx="123.4" cy="367.3" rx="1.4" ry="0.8" transform="rotate(88 123.4 367.3)" fill="#2f55d8" opacity="0.76"/><ellipse cx="199.4" cy="335.6" rx="1.5" ry="1.1" transform="rotate(72 199.4 335.6)" fill="#2f55d8" opacity="0.87"/><ellipse cx="170.2" cy="375.1" rx="1.4" ry="1.1" transform="rotate(153 170.2 375.1)" fill="#2f55d8" opacity="0.70"/><ellipse cx="142.6" cy="314.3" rx="1.5" ry="0.8" transform="rotate(110 142.6 314.3)" fill="#2f55d8" opacity="0.80"/><ellipse cx="180.2" cy="339.0" rx="1.1" ry="0.8" transform="rotate(156 180.2 339.0)" fill="#2f55d8" opacity="0.66"/><ellipse cx="201.9" cy="316.6" rx="1.1" ry="0.6" transform="rotate(92 201.9 316.6)" fill="#3248c8" opacity="0.65"/><ellipse cx="209.5" cy="346.8" rx="1.3" ry="0.7" transform="rotate(67 209.5 346.8)" fill="#3050d8" opacity="0.61"/><ellipse cx="147.1" cy="319.8" rx="1.3" ry="1.0" transform="rotate(23 147.1 319.8)" fill="#2f55d8" opacity="0.89"/><ellipse cx="201.2" cy="400.1" rx="1.3" ry="0.7" transform="rotate(161 201.2 400.1)" fill="#3a5ae0" opacity="0.79"/><ellipse cx="144.8" cy="323.0" rx="1.2" ry="0.8" transform="rotate(32 144.8 323.0)" fill="#2f55d8" opacity="0.73"/><ellipse cx="170.1" cy="359.7" rx="1.2" ry="0.9" transform="rotate(16 170.1 359.7)" fill="#2f55d8" opacity="0.81"/><ellipse cx="160.7" cy="378.8" rx="1.0" ry="0.8" transform="rotate(100 160.7 378.8)" fill="#3050d8" opacity="0.80"/><ellipse cx="175.8" cy="320.6" rx="1.2" ry="0.9" transform="rotate(3 175.8 320.6)" fill="#3050d8" opacity="0.64"/><ellipse cx="185.3" cy="383.5" rx="1.4" ry="1.1" transform="rotate(57 185.3 383.5)" fill="#3a5ae0" opacity="0.86"/><ellipse cx="142.7" cy="318.0" rx="1.2" ry="0.8" transform="rotate(166 142.7 318.0)" fill="#3248c8" opacity="0.76"/><ellipse cx="195.8" cy="339.0" rx="1.2" ry="0.8" transform="rotate(134 195.8 339.0)" fill="#3050d8" opacity="0.72"/><ellipse cx="184.1" cy="345.2" rx="1.4" ry="1.0" transform="rotate(100 184.1 345.2)" fill="#2f55d8" opacity="0.76"/><ellipse cx="129.3" cy="312.7" rx="1.4" ry="1.0" transform="rotate(125 129.3 312.7)" fill="#3248c8" opacity="0.61"/><ellipse cx="195.6" cy="357.5" rx="1.3" ry="0.8" transform="rotate(74 195.6 357.5)" fill="#3050d8" opacity="0.65"/><ellipse cx="140.3" cy="372.2" rx="1.5" ry="0.9" transform="rotate(112 140.3 372.2)" fill="#3050d8" opacity="0.93"/><ellipse cx="120.8" cy="306.8" rx="1.1" ry="0.8" transform="rotate(27 120.8 306.8)" fill="#3a5ae0" opacity="0.65"/><ellipse cx="167.7" cy="393.8" rx="1.4" ry="0.9" transform="rotate(86 167.7 393.8)" fill="#2f55d8" opacity="0.60"/><ellipse cx="198.2" cy="328.5" rx="1.2" ry="0.8" transform="rotate(141 198.2 328.5)" fill="#3050d8" opacity="0.73"/><ellipse cx="202.6" cy="372.7" rx="1.2" ry="0.8" transform="rotate(145 202.6 372.7)" fill="#2f55d8" opacity="0.94"/><ellipse cx="116.4" cy="393.5" rx="1.4" ry="0.9" transform="rotate(153 116.4 393.5)" fill="#3a5ae0" opacity="0.60"/><ellipse cx="162.8" cy="386.7" rx="1.2" ry="0.8" transform="rotate(5 162.8 386.7)" fill="#3248c8" opacity="0.62"/><ellipse cx="127.8" cy="313.3" rx="1.3" ry="0.8" transform="rotate(47 127.8 313.3)" fill="#3248c8" opacity="0.83"/><ellipse cx="159.5" cy="358.5" rx="1.4" ry="1.1" transform="rotate(104 159.5 358.5)" fill="#2f55d8" opacity="0.77"/><ellipse cx="199.4" cy="402.1" rx="1.1" ry="0.7" transform="rotate(74 199.4 402.1)" fill="#2f55d8" opacity="0.85"/><ellipse cx="169.2" cy="395.6" rx="1.3" ry="0.7" transform="rotate(43 169.2 395.6)" fill="#3a5ae0" opacity="0.68"/><ellipse cx="118.0" cy="332.5" rx="1.0" ry="0.7" transform="rotate(54 118.0 332.5)" fill="#3248c8" opacity="0.81"/></g>
</g>
<clipPath id="mc12"><rect x="217.8" y="305.3" width="99.4" height="98.7"/></clipPath>
<g clip-path="url(#mc12)"><rect x="217.8" y="305.3" width="99.4" height="98.7" fill="#0a0a0c"/>
<g filter="url(#bl8)"><ellipse cx="247.8" cy="377.6" rx="2.1" ry="1.5" transform="rotate(85 247.8 377.6)" fill="#36348a" opacity="0.79"/><ellipse cx="257.8" cy="315.3" rx="2.4" ry="1.4" transform="rotate(115 257.8 315.3)" fill="#2c2a64" opacity="0.79"/><ellipse cx="298.6" cy="353.5" rx="1.7" ry="1.0" transform="rotate(133 298.6 353.5)" fill="#2c2a64" opacity="0.58"/><ellipse cx="275.6" cy="395.2" rx="1.8" ry="1.3" transform="rotate(170 275.6 395.2)" fill="#2e2c6a" opacity="0.58"/><ellipse cx="288.9" cy="385.5" rx="1.6" ry="1.2" transform="rotate(4 288.9 385.5)" fill="#2c2a64" opacity="0.63"/><ellipse cx="315.0" cy="336.5" rx="1.7" ry="1.1" transform="rotate(0 315.0 336.5)" fill="#34326f" opacity="0.85"/><ellipse cx="270.9" cy="399.3" rx="1.7" ry="0.9" transform="rotate(170 270.9 399.3)" fill="#2e2c6a" opacity="0.73"/><ellipse cx="281.4" cy="312.9" rx="2.0" ry="1.4" transform="rotate(69 281.4 312.9)" fill="#2e2c6a" opacity="0.81"/><ellipse cx="292.8" cy="339.6" rx="1.5" ry="0.9" transform="rotate(3 292.8 339.6)" fill="#2c2a64" opacity="0.68"/><ellipse cx="241.6" cy="375.0" rx="2.1" ry="1.1" transform="rotate(166 241.6 375.0)" fill="#2c2a64" opacity="0.66"/><ellipse cx="243.4" cy="315.4" rx="2.4" ry="1.7" transform="rotate(141 243.4 315.4)" fill="#36348a" opacity="0.63"/><ellipse cx="241.5" cy="323.3" rx="2.1" ry="1.6" transform="rotate(168 241.5 323.3)" fill="#2e2c6a" opacity="0.84"/><ellipse cx="290.2" cy="371.2" rx="2.3" ry="1.4" transform="rotate(101 290.2 371.2)" fill="#34326f" opacity="0.48"/><ellipse cx="314.7" cy="358.8" rx="2.3" ry="1.2" transform="rotate(144 314.7 358.8)" fill="#36348a" opacity="0.59"/><ellipse cx="258.5" cy="388.5" rx="1.8" ry="1.0" transform="rotate(123 258.5 388.5)" fill="#34326f" opacity="0.50"/><ellipse cx="261.9" cy="363.7" rx="2.1" ry="1.5" transform="rotate(129 261.9 363.7)" fill="#2c2a64" opacity="0.69"/><ellipse cx="254.2" cy="307.6" rx="1.9" ry="1.1" transform="rotate(106 254.2 307.6)" fill="#36348a" opacity="0.53"/><ellipse cx="225.7" cy="373.7" rx="1.6" ry="0.9" transform="rotate(79 225.7 373.7)" fill="#2c2a64" opacity="0.58"/><ellipse cx="249.4" cy="352.2" rx="1.6" ry="1.0" transform="rotate(126 249.4 352.2)" fill="#2e2c6a" opacity="0.60"/><ellipse cx="262.4" cy="358.1" rx="2.1" ry="1.1" transform="rotate(101 262.4 358.1)" fill="#36348a" opacity="0.49"/><ellipse cx="291.7" cy="371.2" rx="1.8" ry="1.0" transform="rotate(110 291.7 371.2)" fill="#36348a" opacity="0.64"/><ellipse cx="264.8" cy="372.8" rx="2.0" ry="1.3" transform="rotate(33 264.8 372.8)" fill="#36348a" opacity="0.57"/><ellipse cx="227.7" cy="364.4" rx="2.3" ry="1.3" transform="rotate(67 227.7 364.4)" fill="#34326f" opacity="0.55"/><ellipse cx="286.2" cy="403.4" rx="1.9" ry="1.4" transform="rotate(79 286.2 403.4)" fill="#34326f" opacity="0.53"/><ellipse cx="252.3" cy="401.9" rx="1.6" ry="0.9" transform="rotate(86 252.3 401.9)" fill="#36348a" opacity="0.70"/><ellipse cx="309.8" cy="371.2" rx="1.5" ry="0.8" transform="rotate(7 309.8 371.2)" fill="#36348a" opacity="0.53"/><ellipse cx="315.1" cy="397.6" rx="1.6" ry="1.2" transform="rotate(62 315.1 397.6)" fill="#2e2c6a" opacity="0.83"/><ellipse cx="253.5" cy="366.4" rx="2.0" ry="1.2" transform="rotate(140 253.5 366.4)" fill="#2c2a64" opacity="0.83"/><ellipse cx="312.3" cy="378.5" rx="2.3" ry="1.2" transform="rotate(120 312.3 378.5)" fill="#2c2a64" opacity="0.69"/><ellipse cx="297.9" cy="316.5" rx="2.2" ry="1.4" transform="rotate(94 297.9 316.5)" fill="#36348a" opacity="0.75"/><ellipse cx="253.4" cy="387.7" rx="1.5" ry="1.0" transform="rotate(112 253.4 387.7)" fill="#36348a" opacity="0.51"/><ellipse cx="221.8" cy="387.0" rx="2.1" ry="1.5" transform="rotate(56 221.8 387.0)" fill="#2e2c6a" opacity="0.76"/><ellipse cx="303.3" cy="351.5" rx="1.8" ry="1.3" transform="rotate(3 303.3 351.5)" fill="#2c2a64" opacity="0.81"/><ellipse cx="298.5" cy="306.2" rx="1.9" ry="1.0" transform="rotate(131 298.5 306.2)" fill="#2c2a64" opacity="0.77"/><ellipse cx="230.2" cy="307.1" rx="1.6" ry="1.2" transform="rotate(149 230.2 307.1)" fill="#34326f" opacity="0.61"/><ellipse cx="240.1" cy="372.8" rx="2.0" ry="1.4" transform="rotate(93 240.1 372.8)" fill="#34326f" opacity="0.84"/><ellipse cx="294.5" cy="396.4" rx="2.4" ry="1.2" transform="rotate(135 294.5 396.4)" fill="#34326f" opacity="0.52"/><ellipse cx="316.5" cy="344.0" rx="2.3" ry="1.4" transform="rotate(120 316.5 344.0)" fill="#36348a" opacity="0.53"/><ellipse cx="248.2" cy="306.5" rx="1.7" ry="1.3" transform="rotate(37 248.2 306.5)" fill="#36348a" opacity="0.73"/><ellipse cx="305.6" cy="336.0" rx="2.3" ry="1.6" transform="rotate(103 305.6 336.0)" fill="#36348a" opacity="0.82"/><ellipse cx="256.2" cy="314.7" rx="1.6" ry="1.1" transform="rotate(88 256.2 314.7)" fill="#2c2a64" opacity="0.74"/><ellipse cx="278.9" cy="325.9" rx="2.1" ry="1.6" transform="rotate(111 278.9 325.9)" fill="#34326f" opacity="0.70"/><ellipse cx="259.7" cy="329.2" rx="1.8" ry="1.3" transform="rotate(61 259.7 329.2)" fill="#36348a" opacity="0.82"/><ellipse cx="235.2" cy="331.6" rx="2.0" ry="1.0" transform="rotate(54 235.2 331.6)" fill="#34326f" opacity="0.64"/><ellipse cx="307.8" cy="362.2" rx="2.1" ry="1.4" transform="rotate(141 307.8 362.2)" fill="#2e2c6a" opacity="0.71"/><ellipse cx="290.5" cy="358.8" rx="2.2" ry="1.1" transform="rotate(179 290.5 358.8)" fill="#34326f" opacity="0.79"/><ellipse cx="234.1" cy="321.5" rx="2.0" ry="1.2" transform="rotate(147 234.1 321.5)" fill="#36348a" opacity="0.45"/><ellipse cx="243.9" cy="329.6" rx="1.8" ry="1.1" transform="rotate(65 243.9 329.6)" fill="#2e2c6a" opacity="0.51"/><ellipse cx="268.0" cy="336.0" rx="2.0" ry="1.4" transform="rotate(117 268.0 336.0)" fill="#2c2a64" opacity="0.81"/><ellipse cx="263.3" cy="325.9" rx="2.2" ry="1.7" transform="rotate(22 263.3 325.9)" fill="#36348a" opacity="0.67"/><ellipse cx="229.8" cy="337.0" rx="2.1" ry="1.4" transform="rotate(113 229.8 337.0)" fill="#36348a" opacity="0.66"/><ellipse cx="283.0" cy="324.9" rx="2.0" ry="1.5" transform="rotate(54 283.0 324.9)" fill="#2c2a64" opacity="0.52"/><ellipse cx="252.4" cy="325.4" rx="2.3" ry="1.7" transform="rotate(150 252.4 325.4)" fill="#36348a" opacity="0.56"/><ellipse cx="237.7" cy="345.4" rx="1.6" ry="1.0" transform="rotate(46 237.7 345.4)" fill="#36348a" opacity="0.49"/><ellipse cx="296.7" cy="323.8" rx="1.6" ry="0.9" transform="rotate(115 296.7 323.8)" fill="#34326f" opacity="0.66"/><ellipse cx="302.3" cy="379.3" rx="1.7" ry="1.1" transform="rotate(30 302.3 379.3)" fill="#34326f" opacity="0.52"/><ellipse cx="256.7" cy="351.6" rx="2.1" ry="1.3" transform="rotate(119 256.7 351.6)" fill="#34326f" opacity="0.48"/><ellipse cx="309.7" cy="307.5" rx="2.1" ry="1.4" transform="rotate(173 309.7 307.5)" fill="#2c2a64" opacity="0.49"/><ellipse cx="254.7" cy="397.2" rx="1.9" ry="1.5" transform="rotate(67 254.7 397.2)" fill="#36348a" opacity="0.68"/><ellipse cx="273.4" cy="403.3" rx="2.1" ry="1.2" transform="rotate(123 273.4 403.3)" fill="#2c2a64" opacity="0.84"/><ellipse cx="293.1" cy="326.9" rx="2.0" ry="1.3" transform="rotate(42 293.1 326.9)" fill="#36348a" opacity="0.54"/><ellipse cx="288.1" cy="353.6" rx="1.9" ry="1.3" transform="rotate(130 288.1 353.6)" fill="#36348a" opacity="0.77"/><ellipse cx="244.3" cy="371.2" rx="1.9" ry="1.5" transform="rotate(80 244.3 371.2)" fill="#2e2c6a" opacity="0.65"/><ellipse cx="282.6" cy="321.8" rx="2.3" ry="1.3" transform="rotate(88 282.6 321.8)" fill="#2c2a64" opacity="0.48"/><ellipse cx="235.2" cy="349.2" rx="1.8" ry="1.2" transform="rotate(95 235.2 349.2)" fill="#36348a" opacity="0.70"/><ellipse cx="263.4" cy="367.0" rx="1.6" ry="1.0" transform="rotate(27 263.4 367.0)" fill="#2e2c6a" opacity="0.58"/><ellipse cx="258.9" cy="364.9" rx="2.2" ry="1.2" transform="rotate(174 258.9 364.9)" fill="#2e2c6a" opacity="0.54"/><ellipse cx="250.9" cy="318.6" rx="2.0" ry="1.4" transform="rotate(93 250.9 318.6)" fill="#2c2a64" opacity="0.71"/><ellipse cx="276.8" cy="386.7" rx="1.8" ry="0.9" transform="rotate(172 276.8 386.7)" fill="#2c2a64" opacity="0.81"/><ellipse cx="248.6" cy="346.5" rx="1.9" ry="1.2" transform="rotate(91 248.6 346.5)" fill="#34326f" opacity="0.56"/><ellipse cx="306.3" cy="327.6" rx="1.7" ry="1.1" transform="rotate(177 306.3 327.6)" fill="#2c2a64" opacity="0.83"/><ellipse cx="264.5" cy="390.4" rx="2.4" ry="1.6" transform="rotate(124 264.5 390.4)" fill="#2e2c6a" opacity="0.77"/><ellipse cx="229.8" cy="392.7" rx="1.8" ry="1.4" transform="rotate(85 229.8 392.7)" fill="#36348a" opacity="0.60"/><ellipse cx="302.1" cy="394.9" rx="1.6" ry="1.2" transform="rotate(126 302.1 394.9)" fill="#34326f" opacity="0.68"/><ellipse cx="303.2" cy="320.5" rx="1.9" ry="1.2" transform="rotate(19 303.2 320.5)" fill="#2e2c6a" opacity="0.74"/><ellipse cx="289.8" cy="328.7" rx="2.3" ry="1.3" transform="rotate(19 289.8 328.7)" fill="#2e2c6a" opacity="0.69"/><ellipse cx="223.3" cy="391.0" rx="1.6" ry="0.9" transform="rotate(25 223.3 391.0)" fill="#36348a" opacity="0.50"/><ellipse cx="219.2" cy="326.3" rx="2.2" ry="1.3" transform="rotate(51 219.2 326.3)" fill="#2c2a64" opacity="0.82"/><ellipse cx="315.2" cy="312.5" rx="1.8" ry="1.2" transform="rotate(46 315.2 312.5)" fill="#2c2a64" opacity="0.51"/><ellipse cx="268.1" cy="400.3" rx="2.3" ry="1.5" transform="rotate(19 268.1 400.3)" fill="#36348a" opacity="0.58"/><ellipse cx="255.6" cy="323.5" rx="1.6" ry="1.3" transform="rotate(73 255.6 323.5)" fill="#36348a" opacity="0.49"/><ellipse cx="292.2" cy="347.2" rx="2.3" ry="1.3" transform="rotate(158 292.2 347.2)" fill="#34326f" opacity="0.54"/><ellipse cx="250.1" cy="369.6" rx="2.2" ry="1.7" transform="rotate(94 250.1 369.6)" fill="#2c2a64" opacity="0.74"/><ellipse cx="221.7" cy="356.2" rx="2.0" ry="1.1" transform="rotate(104 221.7 356.2)" fill="#36348a" opacity="0.78"/><ellipse cx="227.5" cy="337.8" rx="1.6" ry="1.0" transform="rotate(61 227.5 337.8)" fill="#34326f" opacity="0.56"/><ellipse cx="280.9" cy="400.4" rx="2.4" ry="1.8" transform="rotate(22 280.9 400.4)" fill="#36348a" opacity="0.83"/><ellipse cx="242.2" cy="353.6" rx="1.7" ry="1.2" transform="rotate(1 242.2 353.6)" fill="#34326f" opacity="0.70"/><ellipse cx="302.7" cy="306.8" rx="1.5" ry="1.2" transform="rotate(47 302.7 306.8)" fill="#2e2c6a" opacity="0.53"/><ellipse cx="308.5" cy="315.0" rx="1.8" ry="1.0" transform="rotate(177 308.5 315.0)" fill="#2c2a64" opacity="0.52"/><ellipse cx="237.5" cy="347.0" rx="2.0" ry="1.0" transform="rotate(18 237.5 347.0)" fill="#34326f" opacity="0.71"/><ellipse cx="226.1" cy="316.2" rx="1.7" ry="1.3" transform="rotate(98 226.1 316.2)" fill="#2e2c6a" opacity="0.64"/><ellipse cx="221.5" cy="394.7" rx="1.6" ry="1.0" transform="rotate(10 221.5 394.7)" fill="#36348a" opacity="0.64"/><ellipse cx="255.8" cy="364.7" rx="1.9" ry="1.0" transform="rotate(151 255.8 364.7)" fill="#36348a" opacity="0.46"/><ellipse cx="233.1" cy="390.7" rx="1.7" ry="1.1" transform="rotate(90 233.1 390.7)" fill="#36348a" opacity="0.81"/><ellipse cx="227.4" cy="317.0" rx="1.6" ry="0.8" transform="rotate(156 227.4 317.0)" fill="#36348a" opacity="0.76"/></g>
<g filter="url(#bl4)"><ellipse cx="267.5" cy="340.5" rx="1.1" ry="0.8" transform="rotate(162 267.5 340.5)" fill="#2f55d8" opacity="0.69"/><ellipse cx="225.3" cy="367.5" rx="1.0" ry="0.8" transform="rotate(122 225.3 367.5)" fill="#2f55d8" opacity="0.82"/><ellipse cx="244.2" cy="334.9" rx="1.2" ry="0.7" transform="rotate(16 244.2 334.9)" fill="#3248c8" opacity="0.80"/><ellipse cx="228.5" cy="327.0" rx="1.1" ry="0.6" transform="rotate(115 228.5 327.0)" fill="#3248c8" opacity="0.92"/><ellipse cx="272.9" cy="395.5" rx="1.2" ry="0.8" transform="rotate(51 272.9 395.5)" fill="#3248c8" opacity="0.62"/><ellipse cx="311.4" cy="344.2" rx="1.2" ry="0.9" transform="rotate(16 311.4 344.2)" fill="#3050d8" opacity="0.78"/><ellipse cx="265.1" cy="396.4" rx="1.4" ry="0.7" transform="rotate(6 265.1 396.4)" fill="#3248c8" opacity="0.81"/><ellipse cx="282.5" cy="354.7" rx="1.0" ry="0.6" transform="rotate(150 282.5 354.7)" fill="#3a5ae0" opacity="0.62"/><ellipse cx="230.5" cy="394.2" rx="1.3" ry="0.7" transform="rotate(127 230.5 394.2)" fill="#3050d8" opacity="0.69"/><ellipse cx="312.8" cy="346.1" rx="1.3" ry="0.7" transform="rotate(104 312.8 346.1)" fill="#2f55d8" opacity="0.60"/><ellipse cx="224.6" cy="360.2" rx="1.5" ry="1.0" transform="rotate(158 224.6 360.2)" fill="#3050d8" opacity="0.81"/><ellipse cx="250.6" cy="379.4" rx="1.5" ry="1.1" transform="rotate(128 250.6 379.4)" fill="#3a5ae0" opacity="0.92"/><ellipse cx="293.9" cy="313.2" rx="1.4" ry="1.0" transform="rotate(169 293.9 313.2)" fill="#3248c8" opacity="0.95"/><ellipse cx="249.9" cy="394.3" rx="1.4" ry="1.0" transform="rotate(131 249.9 394.3)" fill="#3a5ae0" opacity="0.77"/><ellipse cx="250.4" cy="370.5" rx="1.4" ry="0.9" transform="rotate(50 250.4 370.5)" fill="#3248c8" opacity="0.71"/><ellipse cx="271.4" cy="321.5" rx="1.1" ry="0.7" transform="rotate(68 271.4 321.5)" fill="#2f55d8" opacity="0.77"/><ellipse cx="224.1" cy="391.3" rx="1.3" ry="0.7" transform="rotate(17 224.1 391.3)" fill="#3a5ae0" opacity="0.90"/><ellipse cx="294.8" cy="310.5" rx="1.4" ry="0.9" transform="rotate(87 294.8 310.5)" fill="#3a5ae0" opacity="0.78"/><ellipse cx="236.3" cy="373.8" rx="1.1" ry="0.6" transform="rotate(153 236.3 373.8)" fill="#3248c8" opacity="0.77"/><ellipse cx="256.1" cy="359.8" rx="1.0" ry="0.6" transform="rotate(7 256.1 359.8)" fill="#3050d8" opacity="0.83"/><ellipse cx="233.9" cy="389.3" rx="1.1" ry="0.8" transform="rotate(117 233.9 389.3)" fill="#2f55d8" opacity="0.70"/><ellipse cx="298.3" cy="387.3" rx="1.4" ry="0.8" transform="rotate(2 298.3 387.3)" fill="#2f55d8" opacity="0.73"/><ellipse cx="225.9" cy="391.3" rx="1.3" ry="0.9" transform="rotate(98 225.9 391.3)" fill="#3248c8" opacity="0.62"/><ellipse cx="253.5" cy="372.9" rx="1.3" ry="0.8" transform="rotate(47 253.5 372.9)" fill="#3a5ae0" opacity="0.88"/><ellipse cx="224.3" cy="308.0" rx="1.3" ry="0.9" transform="rotate(61 224.3 308.0)" fill="#3a5ae0" opacity="0.64"/><ellipse cx="253.7" cy="313.1" rx="1.3" ry="1.0" transform="rotate(137 253.7 313.1)" fill="#2f55d8" opacity="0.93"/><ellipse cx="302.4" cy="390.4" rx="1.4" ry="0.9" transform="rotate(44 302.4 390.4)" fill="#3a5ae0" opacity="0.74"/><ellipse cx="260.1" cy="365.3" rx="1.3" ry="1.0" transform="rotate(161 260.1 365.3)" fill="#2f55d8" opacity="0.67"/><ellipse cx="295.7" cy="360.2" rx="1.4" ry="0.9" transform="rotate(89 295.7 360.2)" fill="#3a5ae0" opacity="0.91"/><ellipse cx="254.1" cy="352.0" rx="1.5" ry="0.8" transform="rotate(114 254.1 352.0)" fill="#3050d8" opacity="0.71"/><ellipse cx="268.9" cy="356.5" rx="1.1" ry="0.8" transform="rotate(67 268.9 356.5)" fill="#3a5ae0" opacity="0.93"/><ellipse cx="288.8" cy="359.3" rx="1.4" ry="1.0" transform="rotate(113 288.8 359.3)" fill="#3a5ae0" opacity="0.90"/><ellipse cx="225.1" cy="352.8" rx="1.4" ry="0.8" transform="rotate(87 225.1 352.8)" fill="#3050d8" opacity="0.62"/><ellipse cx="263.9" cy="377.0" rx="1.3" ry="0.7" transform="rotate(179 263.9 377.0)" fill="#2f55d8" opacity="0.90"/><ellipse cx="270.7" cy="367.4" rx="1.2" ry="0.8" transform="rotate(172 270.7 367.4)" fill="#2f55d8" opacity="0.83"/><ellipse cx="286.2" cy="403.5" rx="1.1" ry="0.7" transform="rotate(15 286.2 403.5)" fill="#3248c8" opacity="0.75"/><ellipse cx="224.1" cy="397.2" rx="1.1" ry="0.8" transform="rotate(8 224.1 397.2)" fill="#3a5ae0" opacity="0.90"/><ellipse cx="267.7" cy="316.4" rx="1.2" ry="0.9" transform="rotate(59 267.7 316.4)" fill="#2f55d8" opacity="0.62"/><ellipse cx="268.8" cy="374.6" rx="1.4" ry="1.1" transform="rotate(35 268.8 374.6)" fill="#2f55d8" opacity="0.61"/><ellipse cx="284.9" cy="341.4" rx="1.5" ry="0.9" transform="rotate(78 284.9 341.4)" fill="#2f55d8" opacity="0.79"/></g>
</g>
<circle cx="20.7" cy="213.0" r="1.35" fill="url(#rg2)"/>
<circle cx="35.3" cy="244.5" r="0.90" fill="url(#rg2)"/>
<circle cx="175" cy="234" r="0.90" fill="url(#rg2)"/>
<circle cx="58.8" cy="336" r="1.65" fill="url(#rg)"/>
<circle cx="73.6" cy="324.8" r="1.20" fill="url(#rg)"/>
<circle cx="81.3" cy="342.6" r="1.80" fill="url(#rg)"/>
<circle cx="88.5" cy="342.2" r="1.95" fill="url(#rg)"/>
<circle cx="81.3" cy="362.1" r="1.95" fill="url(#rg)"/>
<circle cx="93.6" cy="363.7" r="1.35" fill="url(#rg)"/>
<circle cx="40.4" cy="356" r="1.35" fill="url(#rg)"/>
<circle cx="51.4" cy="358.3" r="1.05" fill="url(#rg)"/>
<circle cx="165" cy="318" r="1.50" fill="url(#rg)"/>
<circle cx="176" cy="311" r="1.20" fill="url(#rg)"/>
<circle cx="160" cy="375" r="1.35" fill="url(#rg)"/>
<circle cx="163" cy="380" r="1.35" fill="url(#rg)"/>
<circle cx="176" cy="376" r="1.20" fill="url(#rg)"/>
<circle cx="174" cy="362" r="1.05" fill="url(#rg)"/>
<circle cx="193" cy="340" r="0.90" fill="url(#rg)"/>
<circle cx="212" cy="366" r="1.20" fill="url(#rg)"/>
<circle cx="282" cy="335" r="1.20" fill="url(#rg)"/>
<circle cx="297" cy="340" r="0.90" fill="url(#rg)"/>
<circle cx="294" cy="344" r="1.05" fill="url(#rg)"/>
<circle cx="269" cy="385" r="0.90" fill="url(#rg)"/>
<circle cx="220.5" cy="374" r="0.90" fill="url(#rg)"/>
<circle cx="266" cy="311" r="0.90" fill="url(#rg)"/>
<text x="15.90" y="200.10" font-size="9" font-weight="bold" textLength="15.7" lengthAdjust="spacingAndGlyphs" fill="#ecd94c">Veh</text>
<text x="118.20" y="200.10" font-size="9" font-weight="bold" textLength="51.1" lengthAdjust="spacingAndGlyphs" fill="#ecd94c">Cpd16-5-µM</text>
<text x="220.80" y="200.10" font-size="9" font-weight="bold" textLength="55.5" lengthAdjust="spacingAndGlyphs" fill="#ecd94c">Cpd16-25-µM</text>
<text x="15.90" y="314.60" font-size="9" font-weight="bold" textLength="15.7" lengthAdjust="spacingAndGlyphs" fill="#ecd94c">Veh</text>
<text x="118.20" y="314.60" font-size="9" font-weight="bold" textLength="51.1" lengthAdjust="spacingAndGlyphs" fill="#ecd94c">Cpd16-5-µM</text>
<text x="220.80" y="314.60" font-size="9" font-weight="bold" textLength="55.5" lengthAdjust="spacingAndGlyphs" fill="#ecd94c">Cpd16-25-µM</text>
<text x="14.30" y="186.50" font-size="12.3">C</text>
<text x="14.6" y="300.6" font-size="12.5" fill="#e54a36" textLength="27.6" lengthAdjust="spacingAndGlyphs">H<tspan font-size="8.8" dy="2.4">2</tspan><tspan dy="-2.4">O</tspan><tspan font-size="8.8" dy="2.4">2</tspan></text>
<text x="15.6" y="401.3" font-size="8.6" font-weight="bold" textLength="53" lengthAdjust="spacingAndGlyphs"><tspan fill="#d8361f">TUNEL</tspan><tspan fill="#ddd">/</tspan><tspan fill="#3a9ccc">DAPI</tspan></text>
<text x="287.10" y="398.40" font-size="8.0" font-weight="bold" textLength="26.1" lengthAdjust="spacingAndGlyphs" fill="#ecd94c">100 µm</text>
<rect x="291.2" y="400.5" width="19.7" height="1.5" fill="#ecd94c"/>
</svg></body></html>
